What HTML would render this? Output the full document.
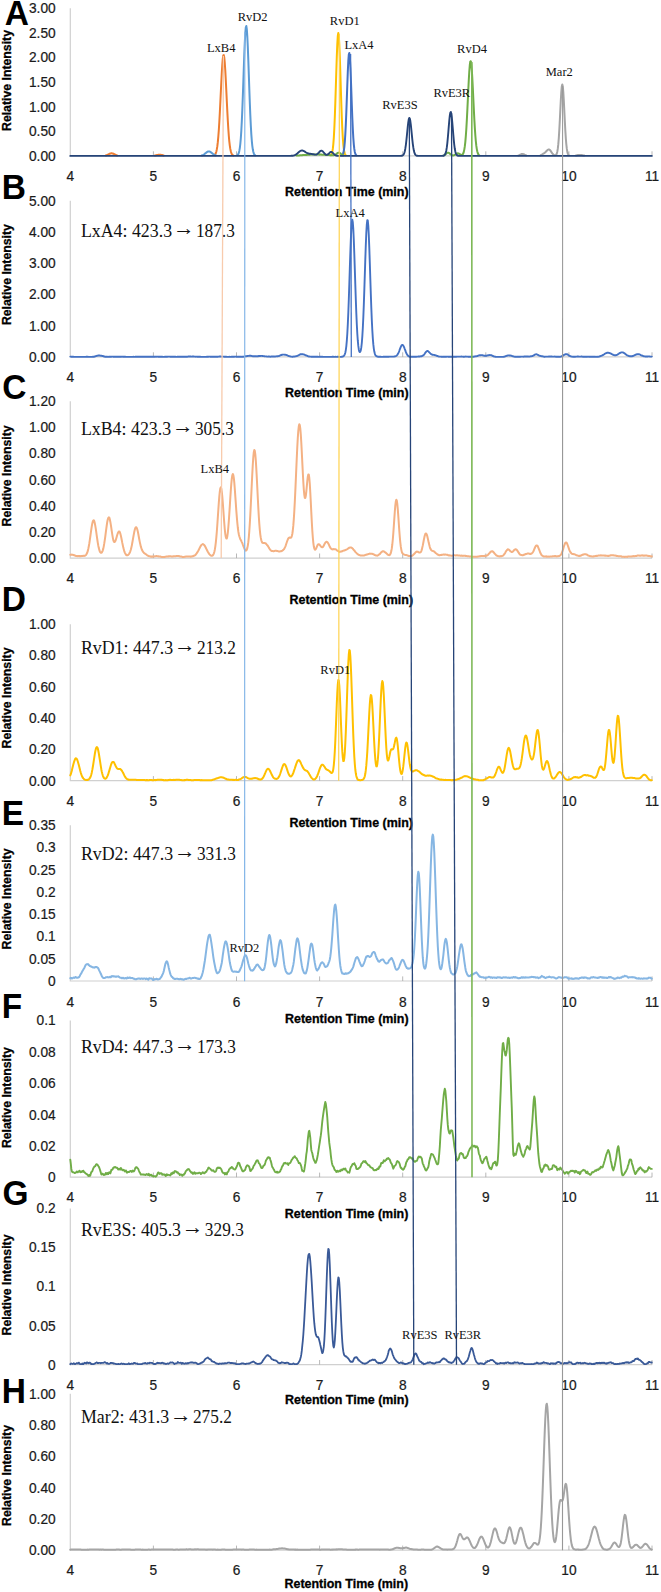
<!DOCTYPE html>
<html lang="en"><head><meta charset="utf-8"><title>Chromatograms</title>
<style>html,body{margin:0;padding:0;background:#fff}svg{display:block}.t{font-family:"Liberation Sans", Arial, sans-serif;font-size:14px;fill:#1a1a1a;stroke:#1a1a1a;stroke-width:.22px}.b{font-family:"Liberation Sans", Arial, sans-serif;font-weight:bold;font-size:12.2px;fill:#000;stroke:#000;stroke-width:.3px}.L{font-family:"Liberation Sans", Arial, sans-serif;font-weight:bold;font-size:34.9px;fill:#000}.s{font-family:"Liberation Serif", "Times New Roman", serif;font-size:18.6px;fill:#111}.p{font-family:"Liberation Serif", "Times New Roman", serif;font-size:12.5px;fill:#111}.tr{fill:none;stroke-linejoin:round;stroke-linecap:round}</style></head><body>
<svg width="661" height="1592" viewBox="0 0 661 1592">
<rect width="661" height="1592" fill="#fff"/>
<g>
<path d="M70.3 8.3 V155.9 H652.0" fill="none" stroke="#D0D0D0" stroke-width="1.2"/>
<path d="M153.4 155.9 v-4.6M236.5 155.9 v-4.6M319.6 155.9 v-4.6M402.7 155.9 v-4.6M485.8 155.9 v-4.6M568.9 155.9 v-4.6M652.0 155.9 v-4.6" fill="none" stroke="#A6A6A6" stroke-width="0.8"/>
<text class="t" transform="translate(55.70 13.00) scale(0.980 1)" text-anchor="end">3.00</text>
<text class="t" transform="translate(55.70 38.00) scale(0.980 1)" text-anchor="end">2.50</text>
<text class="t" transform="translate(55.70 62.00) scale(0.980 1)" text-anchor="end">2.00</text>
<text class="t" transform="translate(55.70 87.00) scale(0.980 1)" text-anchor="end">1.50</text>
<text class="t" transform="translate(55.70 112.00) scale(0.980 1)" text-anchor="end">1.00</text>
<text class="t" transform="translate(55.70 136.00) scale(0.980 1)" text-anchor="end">0.50</text>
<text class="t" transform="translate(55.70 161.00) scale(0.980 1)" text-anchor="end">0.00</text>
<text class="t" transform="translate(70.30 181.00) scale(0.980 1)" text-anchor="middle">4</text>
<text class="t" transform="translate(153.40 181.00) scale(0.980 1)" text-anchor="middle">5</text>
<text class="t" transform="translate(236.50 181.00) scale(0.980 1)" text-anchor="middle">6</text>
<text class="t" transform="translate(319.60 181.00) scale(0.980 1)" text-anchor="middle">7</text>
<text class="t" transform="translate(402.70 181.00) scale(0.980 1)" text-anchor="middle">8</text>
<text class="t" transform="translate(485.80 181.00) scale(0.980 1)" text-anchor="middle">9</text>
<text class="t" transform="translate(568.90 181.00) scale(0.980 1)" text-anchor="middle">10</text>
<text class="t" transform="translate(652.00 181.00) scale(0.980 1)" text-anchor="middle">11</text>
<text class="b" transform="translate(346.80 196.30) scale(1.021 1)" text-anchor="middle">Retention Time (min)</text>
<text class="b" transform="translate(11.4 80.5) rotate(-90) scale(1.007 1)" text-anchor="middle">Relative Intensity</text>
<text class="L" transform="translate(4.70 25.20) scale(0.960 1)" text-anchor="start">A</text>
</g>
<g>
<path d="M70.3 200.8 V356.9 H652.0" fill="none" stroke="#D0D0D0" stroke-width="1.2"/>
<path d="M153.4 356.9 v-4.6M236.5 356.9 v-4.6M319.6 356.9 v-4.6M402.7 356.9 v-4.6M485.8 356.9 v-4.6M568.9 356.9 v-4.6M652.0 356.9 v-4.6" fill="none" stroke="#A6A6A6" stroke-width="0.8"/>
<text class="t" transform="translate(55.70 206.00) scale(0.980 1)" text-anchor="end">5.00</text>
<text class="t" transform="translate(55.70 237.00) scale(0.980 1)" text-anchor="end">4.00</text>
<text class="t" transform="translate(55.70 268.00) scale(0.980 1)" text-anchor="end">3.00</text>
<text class="t" transform="translate(55.70 299.00) scale(0.980 1)" text-anchor="end">2.00</text>
<text class="t" transform="translate(55.70 331.00) scale(0.980 1)" text-anchor="end">1.00</text>
<text class="t" transform="translate(55.70 362.00) scale(0.980 1)" text-anchor="end">0.00</text>
<text class="t" transform="translate(70.30 382.00) scale(0.980 1)" text-anchor="middle">4</text>
<text class="t" transform="translate(153.40 382.00) scale(0.980 1)" text-anchor="middle">5</text>
<text class="t" transform="translate(236.50 382.00) scale(0.980 1)" text-anchor="middle">6</text>
<text class="t" transform="translate(319.60 382.00) scale(0.980 1)" text-anchor="middle">7</text>
<text class="t" transform="translate(402.70 382.00) scale(0.980 1)" text-anchor="middle">8</text>
<text class="t" transform="translate(485.80 382.00) scale(0.980 1)" text-anchor="middle">9</text>
<text class="t" transform="translate(568.90 382.00) scale(0.980 1)" text-anchor="middle">10</text>
<text class="t" transform="translate(652.00 382.00) scale(0.980 1)" text-anchor="middle">11</text>
<text class="b" transform="translate(346.80 397.00) scale(1.021 1)" text-anchor="middle">Retention Time (min)</text>
<text class="b" transform="translate(11.4 274.6) rotate(-90) scale(1.007 1)" text-anchor="middle">Relative Intensity</text>
<text class="L" transform="translate(1.65 199.10) scale(0.960 1)" text-anchor="start">B</text>
<text class="s" transform="translate(80.90 237.00) scale(0.960 1)" text-anchor="start">LxA4: 423.3</text>
<text class="s" transform="translate(183.73 235.20) scale(1.000 1)" text-anchor="middle" style="font-size:21.7px">→</text>
<text class="s" transform="translate(234.83 237.00) scale(0.930 1)" text-anchor="end">187.3</text>
</g>
<g>
<path d="M70.3 401.3 V558.1 H652.0" fill="none" stroke="#D0D0D0" stroke-width="1.2"/>
<path d="M153.4 558.1 v-4.6M236.5 558.1 v-4.6M319.6 558.1 v-4.6M402.7 558.1 v-4.6M485.8 558.1 v-4.6M568.9 558.1 v-4.6M652.0 558.1 v-4.6" fill="none" stroke="#A6A6A6" stroke-width="0.8"/>
<text class="t" transform="translate(55.70 406.00) scale(0.980 1)" text-anchor="end">1.20</text>
<text class="t" transform="translate(55.70 432.00) scale(0.980 1)" text-anchor="end">1.00</text>
<text class="t" transform="translate(55.70 458.00) scale(0.980 1)" text-anchor="end">0.80</text>
<text class="t" transform="translate(55.70 485.00) scale(0.980 1)" text-anchor="end">0.60</text>
<text class="t" transform="translate(55.70 511.00) scale(0.980 1)" text-anchor="end">0.40</text>
<text class="t" transform="translate(55.70 537.00) scale(0.980 1)" text-anchor="end">0.20</text>
<text class="t" transform="translate(55.70 563.00) scale(0.980 1)" text-anchor="end">0.00</text>
<text class="t" transform="translate(70.30 583.00) scale(0.980 1)" text-anchor="middle">4</text>
<text class="t" transform="translate(153.40 583.00) scale(0.980 1)" text-anchor="middle">5</text>
<text class="t" transform="translate(236.50 583.00) scale(0.980 1)" text-anchor="middle">6</text>
<text class="t" transform="translate(319.60 583.00) scale(0.980 1)" text-anchor="middle">7</text>
<text class="t" transform="translate(402.70 583.00) scale(0.980 1)" text-anchor="middle">8</text>
<text class="t" transform="translate(485.80 583.00) scale(0.980 1)" text-anchor="middle">9</text>
<text class="t" transform="translate(568.90 583.00) scale(0.980 1)" text-anchor="middle">10</text>
<text class="t" transform="translate(652.00 583.00) scale(0.980 1)" text-anchor="middle">11</text>
<text class="b" transform="translate(351.30 604.00) scale(1.021 1)" text-anchor="middle">Retention Time (min)</text>
<text class="b" transform="translate(11.4 475.9) rotate(-90) scale(1.007 1)" text-anchor="middle">Relative Intensity</text>
<text class="L" transform="translate(2.25 398.90) scale(0.960 1)" text-anchor="start">C</text>
<text class="s" transform="translate(80.90 435.20) scale(0.960 1)" text-anchor="start">LxB4: 423.3</text>
<text class="s" transform="translate(182.76 433.40) scale(1.000 1)" text-anchor="middle" style="font-size:21.7px">→</text>
<text class="s" transform="translate(233.86 435.20) scale(0.930 1)" text-anchor="end">305.3</text>
</g>
<g>
<path d="M70.3 624.3 V780.7 H652.0" fill="none" stroke="#D0D0D0" stroke-width="1.2"/>
<path d="M153.4 780.7 v-4.6M236.5 780.7 v-4.6M319.6 780.7 v-4.6M402.7 780.7 v-4.6M485.8 780.7 v-4.6M568.9 780.7 v-4.6M652.0 780.7 v-4.6" fill="none" stroke="#A6A6A6" stroke-width="0.8"/>
<text class="t" transform="translate(55.70 629.00) scale(0.980 1)" text-anchor="end">1.00</text>
<text class="t" transform="translate(55.70 660.00) scale(0.980 1)" text-anchor="end">0.80</text>
<text class="t" transform="translate(55.70 692.00) scale(0.980 1)" text-anchor="end">0.60</text>
<text class="t" transform="translate(55.70 723.00) scale(0.980 1)" text-anchor="end">0.40</text>
<text class="t" transform="translate(55.70 754.00) scale(0.980 1)" text-anchor="end">0.20</text>
<text class="t" transform="translate(55.70 786.00) scale(0.980 1)" text-anchor="end">0.00</text>
<text class="t" transform="translate(70.30 806.00) scale(0.980 1)" text-anchor="middle">4</text>
<text class="t" transform="translate(153.40 806.00) scale(0.980 1)" text-anchor="middle">5</text>
<text class="t" transform="translate(236.50 806.00) scale(0.980 1)" text-anchor="middle">6</text>
<text class="t" transform="translate(319.60 806.00) scale(0.980 1)" text-anchor="middle">7</text>
<text class="t" transform="translate(402.70 806.00) scale(0.980 1)" text-anchor="middle">8</text>
<text class="t" transform="translate(485.80 806.00) scale(0.980 1)" text-anchor="middle">9</text>
<text class="t" transform="translate(568.90 806.00) scale(0.980 1)" text-anchor="middle">10</text>
<text class="t" transform="translate(652.00 806.00) scale(0.980 1)" text-anchor="middle">11</text>
<text class="b" transform="translate(351.20 826.70) scale(1.021 1)" text-anchor="middle">Retention Time (min)</text>
<text class="b" transform="translate(11.4 698.0) rotate(-90) scale(1.007 1)" text-anchor="middle">Relative Intensity</text>
<text class="L" transform="translate(1.65 611.40) scale(0.960 1)" text-anchor="start">D</text>
<text class="s" transform="translate(80.90 653.80) scale(0.960 1)" text-anchor="start">RvD1: 447.3</text>
<text class="s" transform="translate(184.74 652.00) scale(1.000 1)" text-anchor="middle" style="font-size:21.7px">→</text>
<text class="s" transform="translate(235.84 653.80) scale(0.930 1)" text-anchor="end">213.2</text>
</g>
<g>
<path d="M70.3 825.2 V981.0 H652.0" fill="none" stroke="#D0D0D0" stroke-width="1.2"/>
<path d="M153.4 981.0 v-4.6M236.5 981.0 v-4.6M319.6 981.0 v-4.6M402.7 981.0 v-4.6M485.8 981.0 v-4.6M568.9 981.0 v-4.6M652.0 981.0 v-4.6" fill="none" stroke="#A6A6A6" stroke-width="0.8"/>
<text class="t" transform="translate(55.70 830.00) scale(0.980 1)" text-anchor="end">0.35</text>
<text class="t" transform="translate(55.70 852.00) scale(0.980 1)" text-anchor="end">0.3</text>
<text class="t" transform="translate(55.70 875.00) scale(0.980 1)" text-anchor="end">0.25</text>
<text class="t" transform="translate(55.70 897.00) scale(0.980 1)" text-anchor="end">0.2</text>
<text class="t" transform="translate(55.70 919.00) scale(0.980 1)" text-anchor="end">0.15</text>
<text class="t" transform="translate(55.70 941.00) scale(0.980 1)" text-anchor="end">0.1</text>
<text class="t" transform="translate(55.70 964.00) scale(0.980 1)" text-anchor="end">0.05</text>
<text class="t" transform="translate(55.70 986.00) scale(0.980 1)" text-anchor="end">0</text>
<text class="t" transform="translate(70.30 1007.00) scale(0.980 1)" text-anchor="middle">4</text>
<text class="t" transform="translate(153.40 1007.00) scale(0.980 1)" text-anchor="middle">5</text>
<text class="t" transform="translate(236.50 1007.00) scale(0.980 1)" text-anchor="middle">6</text>
<text class="t" transform="translate(319.60 1007.00) scale(0.980 1)" text-anchor="middle">7</text>
<text class="t" transform="translate(402.70 1007.00) scale(0.980 1)" text-anchor="middle">8</text>
<text class="t" transform="translate(485.80 1007.00) scale(0.980 1)" text-anchor="middle">9</text>
<text class="t" transform="translate(568.90 1007.00) scale(0.980 1)" text-anchor="middle">10</text>
<text class="t" transform="translate(652.00 1007.00) scale(0.980 1)" text-anchor="middle">11</text>
<text class="b" transform="translate(346.80 1023.00) scale(1.021 1)" text-anchor="middle">Retention Time (min)</text>
<text class="b" transform="translate(11.4 898.9) rotate(-90) scale(1.007 1)" text-anchor="middle">Relative Intensity</text>
<text class="L" transform="translate(1.65 825.00) scale(0.960 1)" text-anchor="start">E</text>
<text class="s" transform="translate(80.90 859.80) scale(0.960 1)" text-anchor="start">RvD2: 447.3</text>
<text class="s" transform="translate(184.74 858.00) scale(1.000 1)" text-anchor="middle" style="font-size:21.7px">→</text>
<text class="s" transform="translate(235.84 859.80) scale(0.930 1)" text-anchor="end">331.3</text>
</g>
<g>
<path d="M70.3 1020.6 V1177.2 H652.0" fill="none" stroke="#D0D0D0" stroke-width="1.2"/>
<path d="M153.4 1177.2 v-4.6M236.5 1177.2 v-4.6M319.6 1177.2 v-4.6M402.7 1177.2 v-4.6M485.8 1177.2 v-4.6M568.9 1177.2 v-4.6M652.0 1177.2 v-4.6" fill="none" stroke="#A6A6A6" stroke-width="0.8"/>
<text class="t" transform="translate(55.70 1025.00) scale(0.980 1)" text-anchor="end">0.1</text>
<text class="t" transform="translate(55.70 1057.00) scale(0.980 1)" text-anchor="end">0.08</text>
<text class="t" transform="translate(55.70 1088.00) scale(0.980 1)" text-anchor="end">0.06</text>
<text class="t" transform="translate(55.70 1120.00) scale(0.980 1)" text-anchor="end">0.04</text>
<text class="t" transform="translate(55.70 1151.00) scale(0.980 1)" text-anchor="end">0.02</text>
<text class="t" transform="translate(55.70 1182.00) scale(0.980 1)" text-anchor="end">0</text>
<text class="t" transform="translate(70.30 1202.00) scale(0.980 1)" text-anchor="middle">4</text>
<text class="t" transform="translate(153.40 1202.00) scale(0.980 1)" text-anchor="middle">5</text>
<text class="t" transform="translate(236.50 1202.00) scale(0.980 1)" text-anchor="middle">6</text>
<text class="t" transform="translate(319.60 1202.00) scale(0.980 1)" text-anchor="middle">7</text>
<text class="t" transform="translate(402.70 1202.00) scale(0.980 1)" text-anchor="middle">8</text>
<text class="t" transform="translate(485.80 1202.00) scale(0.980 1)" text-anchor="middle">9</text>
<text class="t" transform="translate(568.90 1202.00) scale(0.980 1)" text-anchor="middle">10</text>
<text class="t" transform="translate(652.00 1202.00) scale(0.980 1)" text-anchor="middle">11</text>
<text class="b" transform="translate(346.60 1218.00) scale(1.021 1)" text-anchor="middle">Retention Time (min)</text>
<text class="b" transform="translate(11.4 1097.6) rotate(-90) scale(1.007 1)" text-anchor="middle">Relative Intensity</text>
<text class="L" transform="translate(1.65 1018.20) scale(0.960 1)" text-anchor="start">F</text>
<text class="s" transform="translate(80.90 1052.50) scale(0.960 1)" text-anchor="start">RvD4: 447.3</text>
<text class="s" transform="translate(184.74 1050.70) scale(1.000 1)" text-anchor="middle" style="font-size:21.7px">→</text>
<text class="s" transform="translate(235.84 1052.50) scale(0.930 1)" text-anchor="end">173.3</text>
</g>
<g>
<path d="M70.3 1208.4 V1364.6 H652.0" fill="none" stroke="#D0D0D0" stroke-width="1.2"/>
<path d="M153.4 1364.6 v-4.6M236.5 1364.6 v-4.6M319.6 1364.6 v-4.6M402.7 1364.6 v-4.6M485.8 1364.6 v-4.6M568.9 1364.6 v-4.6M652.0 1364.6 v-4.6" fill="none" stroke="#A6A6A6" stroke-width="0.8"/>
<text class="t" transform="translate(55.70 1213.00) scale(0.980 1)" text-anchor="end">0.2</text>
<text class="t" transform="translate(55.70 1252.00) scale(0.980 1)" text-anchor="end">0.15</text>
<text class="t" transform="translate(55.70 1291.00) scale(0.980 1)" text-anchor="end">0.1</text>
<text class="t" transform="translate(55.70 1331.00) scale(0.980 1)" text-anchor="end">0.05</text>
<text class="t" transform="translate(55.70 1370.00) scale(0.980 1)" text-anchor="end">0</text>
<text class="t" transform="translate(70.30 1390.00) scale(0.980 1)" text-anchor="middle">4</text>
<text class="t" transform="translate(153.40 1390.00) scale(0.980 1)" text-anchor="middle">5</text>
<text class="t" transform="translate(236.50 1390.00) scale(0.980 1)" text-anchor="middle">6</text>
<text class="t" transform="translate(319.60 1390.00) scale(0.980 1)" text-anchor="middle">7</text>
<text class="t" transform="translate(402.70 1390.00) scale(0.980 1)" text-anchor="middle">8</text>
<text class="t" transform="translate(485.80 1390.00) scale(0.980 1)" text-anchor="middle">9</text>
<text class="t" transform="translate(568.90 1390.00) scale(0.980 1)" text-anchor="middle">10</text>
<text class="t" transform="translate(652.00 1390.00) scale(0.980 1)" text-anchor="middle">11</text>
<text class="b" transform="translate(346.80 1403.70) scale(1.021 1)" text-anchor="middle">Retention Time (min)</text>
<text class="b" transform="translate(11.4 1285.0) rotate(-90) scale(1.007 1)" text-anchor="middle">Relative Intensity</text>
<text class="L" transform="translate(2.50 1204.80) scale(0.960 1)" text-anchor="start">G</text>
<text class="s" transform="translate(80.90 1235.80) scale(0.960 1)" text-anchor="start">RvE3S: 405.3</text>
<text class="s" transform="translate(192.69 1234.00) scale(1.000 1)" text-anchor="middle" style="font-size:21.7px">→</text>
<text class="s" transform="translate(243.79 1235.80) scale(0.930 1)" text-anchor="end">329.3</text>
</g>
<g>
<path d="M70.3 1393.8 V1550.2 H652.0" fill="none" stroke="#D0D0D0" stroke-width="1.2"/>
<path d="M153.4 1550.2 v-4.6M236.5 1550.2 v-4.6M319.6 1550.2 v-4.6M402.7 1550.2 v-4.6M485.8 1550.2 v-4.6M568.9 1550.2 v-4.6M652.0 1550.2 v-4.6" fill="none" stroke="#A6A6A6" stroke-width="0.8"/>
<text class="t" transform="translate(55.70 1399.00) scale(0.980 1)" text-anchor="end">1.00</text>
<text class="t" transform="translate(55.70 1430.00) scale(0.980 1)" text-anchor="end">0.80</text>
<text class="t" transform="translate(55.70 1461.00) scale(0.980 1)" text-anchor="end">0.60</text>
<text class="t" transform="translate(55.70 1493.00) scale(0.980 1)" text-anchor="end">0.40</text>
<text class="t" transform="translate(55.70 1524.00) scale(0.980 1)" text-anchor="end">0.20</text>
<text class="t" transform="translate(55.70 1555.00) scale(0.980 1)" text-anchor="end">0.00</text>
<text class="t" transform="translate(70.30 1575.00) scale(0.980 1)" text-anchor="middle">4</text>
<text class="t" transform="translate(153.40 1575.00) scale(0.980 1)" text-anchor="middle">5</text>
<text class="t" transform="translate(236.50 1575.00) scale(0.980 1)" text-anchor="middle">6</text>
<text class="t" transform="translate(319.60 1575.00) scale(0.980 1)" text-anchor="middle">7</text>
<text class="t" transform="translate(402.70 1575.00) scale(0.980 1)" text-anchor="middle">8</text>
<text class="t" transform="translate(485.80 1575.00) scale(0.980 1)" text-anchor="middle">9</text>
<text class="t" transform="translate(568.90 1575.00) scale(0.980 1)" text-anchor="middle">10</text>
<text class="t" transform="translate(652.00 1575.00) scale(0.980 1)" text-anchor="middle">11</text>
<text class="b" transform="translate(346.30 1587.50) scale(1.021 1)" text-anchor="middle">Retention Time (min)</text>
<text class="b" transform="translate(11.4 1475.5) rotate(-90) scale(1.007 1)" text-anchor="middle">Relative Intensity</text>
<text class="L" transform="translate(1.65 1402.50) scale(0.960 1)" text-anchor="start">H</text>
<text class="s" transform="translate(80.90 1423.40) scale(0.960 1)" text-anchor="start">Mar2: 431.3</text>
<text class="s" transform="translate(180.76 1421.60) scale(1.000 1)" text-anchor="middle" style="font-size:21.7px">→</text>
<text class="s" transform="translate(231.86 1423.40) scale(0.930 1)" text-anchor="end">275.2</text>
</g>
<path class="tr" d="M105.8 155.5 L106.3 155.3 L106.8 155.1 L107.3 154.9 L107.8 154.7 L108.3 154.4 L108.8 154.2 L109.3 153.9 L109.8 153.7 L110.3 153.5 L110.8 153.4 L111.3 153.3 L111.8 153.3 L112.3 153.4 L112.8 153.5 L113.3 153.7 L113.8 154.0 L114.3 154.2 L114.8 154.5 L115.3 154.7 L115.8 155.0 L116.3 155.2 L116.8 155.4 L117.3 155.5 M154.8 155.5 L155.3 155.4 L155.8 155.3 L156.3 155.2 L156.8 155.1 L157.3 155.0 L157.8 154.9 L158.3 154.8 L158.8 154.7 L159.3 154.7 L159.8 154.7 L160.3 154.7 L160.8 154.8 L161.3 154.9 L161.8 155.0 L162.3 155.1 L162.8 155.2 L163.3 155.4 L163.8 155.5 M214.3 155.3 L214.8 154.9 L215.3 154.2 L215.8 153.2 L216.3 151.7 L216.8 149.4 L217.3 146.4 L217.8 142.2 L218.3 136.9 L218.8 130.2 L219.3 122.3 L219.8 113.1 L220.3 103.0 L220.8 92.5 L221.3 82.2 L221.8 72.6 L222.3 64.6 L222.8 58.7 L223.3 55.4 L223.8 55.1 L224.3 57.8 L224.8 63.2 L225.3 70.8 L225.8 80.2 L226.3 90.4 L226.8 101.0 L227.3 111.1 L227.8 120.5 L228.3 128.7 L228.8 135.7 L229.3 141.3 L229.8 145.6 L230.3 148.9 L230.8 151.3 L231.3 152.9 L231.8 154.0 L232.3 154.8 L232.8 155.2 L233.3 155.5" stroke="#ED7D31" stroke-width="2.00"/>
<path class="tr" d="M201.8 155.5 L202.3 155.3 L202.8 155.1 L203.3 154.9 L203.8 154.6 L204.3 154.2 L204.8 153.8 L205.3 153.4 L205.8 153.0 L206.3 152.6 L206.8 152.2 L207.3 151.9 L207.8 151.6 L208.3 151.5 L208.8 151.4 L209.3 151.5 L209.8 151.6 L210.3 151.9 L210.8 152.2 L211.3 152.6 L211.8 153.0 L212.3 153.4 L212.8 153.8 L213.3 154.2 L213.8 154.6 L214.3 154.9 L214.8 155.1 L215.3 155.3 L215.8 155.5 M237.3 155.3 L237.8 154.9 L238.3 154.1 L238.8 152.9 L239.3 150.9 L239.8 148.1 L240.3 144.0 L240.8 138.3 L241.3 130.9 L241.8 121.4 L242.3 110.1 L242.8 97.1 L243.3 82.9 L243.8 68.3 L244.3 54.4 L244.8 42.3 L245.3 32.9 L245.8 27.3 L246.3 26.0 L246.8 29.1 L247.3 36.3 L247.8 46.8 L248.3 59.8 L248.8 74.1 L249.3 88.7 L249.8 102.5 L250.3 114.9 L250.8 125.4 L251.3 134.1 L251.8 140.8 L252.3 145.8 L252.8 149.3 L253.3 151.8 L253.8 153.4 L254.3 154.5 L254.8 155.1 L255.3 155.5" stroke="#5B9BD5" stroke-width="2.00"/>
<path class="tr" d="M330.8 155.3 L331.3 154.7 L331.8 153.6 L332.3 151.8 L332.8 148.9 L333.3 144.3 L333.8 137.8 L334.3 128.8 L334.8 117.3 L335.3 103.4 L335.8 87.8 L336.3 71.6 L336.8 56.5 L337.3 44.0 L337.8 35.8 L338.3 32.9 L338.8 35.8 L339.3 44.0 L339.8 56.5 L340.3 71.6 L340.8 87.8 L341.3 103.4 L341.8 117.3 L342.3 128.8 L342.8 137.8 L343.3 144.3 L343.8 148.9 L344.3 151.8 L344.8 153.6 L345.3 154.7 L345.8 155.3" stroke="#FFC000" stroke-width="2.00"/>
<path class="tr" d="M341.8 155.5 L342.3 155.1 L342.8 154.4 L343.3 153.1 L343.8 150.8 L344.3 147.3 L344.8 142.0 L345.3 134.5 L345.8 124.7 L346.3 112.7 L346.8 99.1 L347.3 85.0 L347.8 71.8 L348.3 61.2 L348.8 54.6 L349.3 53.0 L349.8 56.7 L350.3 65.0 L350.8 76.8 L351.3 90.6 L351.8 104.7 L352.3 117.7 L352.8 128.9 L353.3 137.8 L353.8 144.3 L354.3 148.9 L354.8 151.9 L355.3 153.7 L355.8 154.8 L356.3 155.3" stroke="#4472C4" stroke-width="2.00"/>
<path class="tr" d="M296.3 155.5 L296.8 155.5 L297.3 155.5 L297.8 155.5 L298.3 155.4 L298.8 155.4 L299.3 155.4 L299.8 155.3 L300.3 155.3 L300.8 155.3 L301.3 155.2 L301.8 155.2 L302.3 155.2 L302.8 155.1 L303.3 155.1 L303.8 155.1 L304.3 155.0 L304.8 155.0 L305.3 155.0 L305.8 154.9 L306.3 154.9 L306.8 154.9 L307.3 154.8 L307.8 154.8 L308.3 154.8 L308.8 154.7 L309.3 154.7 L309.8 154.7 L310.3 154.6 L310.8 154.6 L311.3 154.6 L311.8 154.6 L312.3 154.6 L312.8 154.5 L313.3 154.5 L313.8 154.5 L314.3 154.5 L314.8 154.5 L315.3 154.5 L315.8 154.5 L316.3 154.5 L316.8 154.5 L317.3 154.5 L317.8 154.5 L318.3 154.5 L318.8 154.5 L319.3 154.6 L319.8 154.6 L320.3 154.6 L320.8 154.6 L321.3 154.6 L321.8 154.7 L322.3 154.7 L322.8 154.7 L323.3 154.7 L323.8 154.8 L324.3 154.8 L324.8 154.8 L325.3 154.9 L325.8 154.9 L326.3 154.9 L326.8 155.0 L327.3 155.0 L327.8 155.0 L328.3 155.1 L328.8 155.1 L329.3 155.1 L329.8 155.2 L330.3 155.2 L330.8 155.2 L331.3 155.3 L331.8 155.3 L332.3 155.3 L332.8 155.3 L333.3 155.3 L333.8 155.2 L334.3 155.1 L334.8 154.9 L335.3 154.7 L335.8 154.4 L336.3 154.0 L336.8 153.6 L337.3 153.2 L337.8 152.9 L338.3 152.7 L338.8 152.7 L339.3 152.8 L339.8 153.0 L340.3 153.3 L340.8 153.8 L341.3 154.2 L341.8 154.6 L342.3 154.9 L342.8 155.2 L343.3 155.4 M443.8 155.4 L444.3 155.1 L444.8 154.8 L445.3 154.4 L445.8 154.0 L446.3 153.5 L446.8 153.1 L447.3 152.9 L447.8 152.7 L448.3 152.7 L448.8 152.9 L449.3 153.2 L449.8 153.6 L450.3 154.0 L450.8 154.5 L451.3 154.8 L451.8 155.1 L452.3 155.3 L452.8 155.4 L453.3 155.4 L453.8 155.3 L454.3 155.1 L454.8 154.8 L455.3 154.5 L455.8 154.2 L456.3 153.8 L456.8 153.6 L457.3 153.4 L457.8 153.3 L458.3 153.4 L458.8 153.5 L459.3 153.8 L459.8 154.1 L460.3 154.5 L460.8 154.7 L461.3 154.9 L461.8 154.9 L462.3 154.7 L462.8 154.2 L463.3 153.3 L463.8 151.9 L464.3 149.6 L464.8 146.4 L465.3 142.1 L465.8 136.3 L466.3 129.2 L466.8 120.6 L467.3 110.9 L467.8 100.4 L468.3 89.8 L468.8 79.8 L469.3 71.3 L469.8 65.0 L470.3 61.5 L470.8 61.2 L471.3 64.0 L471.8 69.8 L472.3 78.0 L472.8 87.7 L473.3 98.3 L473.8 108.8 L474.3 118.8 L474.8 127.6 L475.3 135.0 L475.8 141.0 L476.3 145.7 L476.8 149.1 L477.3 151.5 L477.8 153.2 L478.3 154.3 L478.8 155.0 L479.3 155.4" stroke="#70AD47" stroke-width="2.00"/>
<path class="tr" d="M518.3 155.5 L518.8 155.4 L519.3 155.2 L519.8 154.9 L520.3 154.6 L520.8 154.4 L521.3 154.1 L521.8 154.0 L522.3 153.9 L522.8 153.9 L523.3 154.1 L523.8 154.3 L524.3 154.5 L524.8 154.8 L525.3 155.1 L525.8 155.3 L526.3 155.5 M540.3 155.5 L540.8 155.2 L541.3 155.0 L541.8 154.7 L542.3 154.4 L542.8 154.0 L543.3 153.7 L543.8 153.4 L544.3 153.1 L544.8 152.7 L545.3 152.3 L545.8 151.8 L546.3 151.3 L546.8 150.8 L547.3 150.2 L547.8 149.8 L548.3 149.5 L548.8 149.5 L549.3 149.6 L549.8 149.9 L550.3 150.5 L550.8 151.1 L551.3 151.9 L551.8 152.6 L552.3 153.3 L552.8 153.9 L553.3 154.5 L553.8 154.9 L554.3 155.2 L554.8 155.3 L555.3 155.3 L555.8 155.1 L556.3 154.6 L556.8 153.5 L557.3 151.7 L557.8 148.7 L558.3 144.2 L558.8 138.1 L559.3 130.1 L559.8 120.7 L560.3 110.5 L560.8 100.5 L561.3 92.1 L561.8 86.4 L562.3 84.4 L562.8 86.4 L563.3 92.1 L563.8 100.5 L564.3 110.5 L564.8 120.7 L565.3 130.1 L565.8 138.1 L566.3 144.2 L566.8 148.7 L567.3 151.7 L567.8 153.6 L568.3 154.7 L568.8 155.3 M575.8 155.5 L576.3 155.4 L576.8 155.3 L577.3 155.2 L577.8 155.1 L578.3 155.0 L578.8 155.0 L579.3 154.9 L579.8 154.9 L580.3 154.9 L580.8 154.9 L581.3 155.0 L581.8 155.1 L582.3 155.2 L582.8 155.3 L583.3 155.4 L583.8 155.5 L584.3 155.5" stroke="#A5A5A5" stroke-width="2.00"/>
<path class="tr" d="M70.3 155.9 L70.8 155.9 L71.3 155.9 L71.8 155.9 L72.3 155.9 L72.8 155.9 L73.3 155.9 L73.8 155.9 L74.3 155.9 L74.8 155.9 L75.3 155.9 L75.8 155.9 L76.3 155.9 L76.8 155.9 L77.3 155.9 L77.8 155.9 L78.3 155.9 L78.8 155.9 L79.3 155.9 L79.8 155.9 L80.3 155.9 L80.8 155.9 L81.3 155.9 L81.8 155.9 L82.3 155.9 L82.8 155.9 L83.3 155.9 L83.8 155.9 L84.3 155.9 L84.8 155.9 L85.3 155.9 L85.8 155.9 L86.3 155.9 L86.8 155.9 L87.3 155.9 L87.8 155.9 L88.3 155.9 L88.8 155.9 L89.3 155.9 L89.8 155.9 L90.3 155.9 L90.8 155.9 L91.3 155.9 L91.8 155.9 L92.3 155.9 L92.8 155.9 L93.3 155.9 L93.8 155.9 L94.3 155.9 L94.8 155.9 L95.3 155.9 L95.8 155.9 L96.3 155.9 L96.8 155.9 L97.3 155.9 L97.8 155.9 L98.3 155.9 L98.8 155.9 L99.3 155.9 L99.8 155.9 L100.3 155.9 L100.8 155.9 L101.3 155.9 L101.8 155.9 L102.3 155.9 L102.8 155.9 L103.3 155.9 L103.8 155.9 L104.3 155.9 L104.8 155.9 L105.3 155.9 L105.8 155.9 L106.3 155.9 L106.8 155.9 L107.3 155.9 L107.8 155.9 L108.3 155.9 L108.8 155.9 L109.3 155.9 L109.8 155.9 L110.3 155.9 L110.8 155.9 L111.3 155.9 L111.8 155.9 L112.3 155.9 L112.8 155.9 L113.3 155.9 L113.8 155.9 L114.3 155.9 L114.8 155.9 L115.3 155.9 L115.8 155.9 L116.3 155.9 L116.8 155.9 L117.3 155.9 L117.8 155.9 L118.3 155.9 L118.8 155.9 L119.3 155.9 L119.8 155.9 L120.3 155.9 L120.8 155.9 L121.3 155.9 L121.8 155.9 L122.3 155.9 L122.8 155.9 L123.3 155.9 L123.8 155.9 L124.3 155.9 L124.8 155.9 L125.3 155.9 L125.8 155.9 L126.3 155.9 L126.8 155.9 L127.3 155.9 L127.8 155.9 L128.3 155.9 L128.8 155.9 L129.3 155.9 L129.8 155.9 L130.3 155.9 L130.8 155.9 L131.3 155.9 L131.8 155.9 L132.3 155.9 L132.8 155.9 L133.3 155.9 L133.8 155.9 L134.3 155.9 L134.8 155.9 L135.3 155.9 L135.8 155.9 L136.3 155.9 L136.8 155.9 L137.3 155.9 L137.8 155.9 L138.3 155.9 L138.8 155.9 L139.3 155.9 L139.8 155.9 L140.3 155.9 L140.8 155.9 L141.3 155.9 L141.8 155.9 L142.3 155.9 L142.8 155.9 L143.3 155.9 L143.8 155.9 L144.3 155.9 L144.8 155.9 L145.3 155.9 L145.8 155.9 L146.3 155.9 L146.8 155.9 L147.3 155.9 L147.8 155.9 L148.3 155.9 L148.8 155.9 L149.3 155.9 L149.8 155.9 L150.3 155.9 L150.8 155.9 L151.3 155.9 L151.8 155.9 L152.3 155.9 L152.8 155.9 L153.3 155.9 L153.8 155.9 L154.3 155.9 L154.8 155.9 L155.3 155.9 L155.8 155.9 L156.3 155.9 L156.8 155.9 L157.3 155.9 L157.8 155.9 L158.3 155.9 L158.8 155.9 L159.3 155.9 L159.8 155.9 L160.3 155.9 L160.8 155.9 L161.3 155.9 L161.8 155.9 L162.3 155.9 L162.8 155.9 L163.3 155.9 L163.8 155.9 L164.3 155.9 L164.8 155.9 L165.3 155.9 L165.8 155.9 L166.3 155.9 L166.8 155.9 L167.3 155.9 L167.8 155.9 L168.3 155.9 L168.8 155.9 L169.3 155.9 L169.8 155.9 L170.3 155.9 L170.8 155.9 L171.3 155.9 L171.8 155.9 L172.3 155.9 L172.8 155.9 L173.3 155.9 L173.8 155.9 L174.3 155.9 L174.8 155.9 L175.3 155.9 L175.8 155.9 L176.3 155.9 L176.8 155.9 L177.3 155.9 L177.8 155.9 L178.3 155.9 L178.8 155.9 L179.3 155.9 L179.8 155.9 L180.3 155.9 L180.8 155.9 L181.3 155.9 L181.8 155.9 L182.3 155.9 L182.8 155.9 L183.3 155.9 L183.8 155.9 L184.3 155.9 L184.8 155.9 L185.3 155.9 L185.8 155.9 L186.3 155.9 L186.8 155.9 L187.3 155.9 L187.8 155.9 L188.3 155.9 L188.8 155.9 L189.3 155.9 L189.8 155.9 L190.3 155.9 L190.8 155.9 L191.3 155.9 L191.8 155.9 L192.3 155.9 L192.8 155.9 L193.3 155.9 L193.8 155.9 L194.3 155.9 L194.8 155.9 L195.3 155.9 L195.8 155.9 L196.3 155.9 L196.8 155.9 L197.3 155.9 L197.8 155.9 L198.3 155.9 L198.8 155.9 L199.3 155.9 L199.8 155.9 L200.3 155.9 L200.8 155.9 L201.3 155.9 L201.8 155.9 L202.3 155.9 L202.8 155.9 L203.3 155.9 L203.8 155.9 L204.3 155.9 L204.8 155.9 L205.3 155.9 L205.8 155.9 L206.3 155.9 L206.8 155.9 L207.3 155.9 L207.8 155.9 L208.3 155.9 L208.8 155.9 L209.3 155.9 L209.8 155.9 L210.3 155.9 L210.8 155.9 L211.3 155.9 L211.8 155.9 L212.3 155.9 L212.8 155.9 L213.3 155.9 L213.8 155.9 L214.3 155.9 L214.8 155.9 L215.3 155.9 L215.8 155.9 L216.3 155.9 L216.8 155.9 L217.3 155.9 L217.8 155.9 L218.3 155.9 L218.8 155.9 L219.3 155.9 L219.8 155.9 L220.3 155.9 L220.8 155.9 L221.3 155.9 L221.8 155.9 L222.3 155.9 L222.8 155.9 L223.3 155.9 L223.8 155.9 L224.3 155.9 L224.8 155.9 L225.3 155.9 L225.8 155.9 L226.3 155.9 L226.8 155.9 L227.3 155.9 L227.8 155.9 L228.3 155.9 L228.8 155.9 L229.3 155.9 L229.8 155.9 L230.3 155.9 L230.8 155.9 L231.3 155.9 L231.8 155.9 L232.3 155.9 L232.8 155.9 L233.3 155.9 L233.8 155.9 L234.3 155.9 L234.8 155.9 L235.3 155.9 L235.8 155.9 L236.3 155.9 L236.8 155.9 L237.3 155.9 L237.8 155.9 L238.3 155.9 L238.8 155.9 L239.3 155.9 L239.8 155.9 L240.3 155.9 L240.8 155.9 L241.3 155.9 L241.8 155.9 L242.3 155.9 L242.8 155.9 L243.3 155.9 L243.8 155.9 L244.3 155.9 L244.8 155.9 L245.3 155.9 L245.8 155.9 L246.3 155.9 L246.8 155.9 L247.3 155.9 L247.8 155.9 L248.3 155.9 L248.8 155.9 L249.3 155.9 L249.8 155.9 L250.3 155.9 L250.8 155.9 L251.3 155.9 L251.8 155.9 L252.3 155.9 L252.8 155.9 L253.3 155.9 L253.8 155.9 L254.3 155.9 L254.8 155.9 L255.3 155.9 L255.8 155.9 L256.3 155.9 L256.8 155.9 L257.3 155.9 L257.8 155.9 L258.3 155.9 L258.8 155.9 L259.3 155.9 L259.8 155.9 L260.3 155.9 L260.8 155.9 L261.3 155.9 L261.8 155.9 L262.3 155.9 L262.8 155.9 L263.3 155.9 L263.8 155.9 L264.3 155.9 L264.8 155.9 L265.3 155.9 L265.8 155.9 L266.3 155.9 L266.8 155.9 L267.3 155.9 L267.8 155.9 L268.3 155.9 L268.8 155.9 L269.3 155.9 L269.8 155.9 L270.3 155.9 L270.8 155.9 L271.3 155.9 L271.8 155.9 L272.3 155.9 L272.8 155.9 L273.3 155.9 L273.8 155.9 L274.3 155.9 L274.8 155.9 L275.3 155.9 L275.8 155.9 L276.3 155.9 L276.8 155.9 L277.3 155.9 L277.8 155.9 L278.3 155.9 L278.8 155.9 L279.3 155.9 L279.8 155.9 L280.3 155.9 L280.8 155.9 L281.3 155.9 L281.8 155.9 L282.3 155.9 L282.8 155.9 L283.3 155.9 L283.8 155.9 L284.3 155.9 L284.8 155.9 L285.3 155.9 L285.8 155.9 L286.3 155.9 L286.8 155.9 L287.3 155.9 L287.8 155.9 L288.3 155.9 L288.8 155.9 L289.3 155.9 L289.8 155.9 L290.3 155.9 L290.8 155.9 L291.3 155.8 L291.8 155.8 L292.3 155.7 L292.8 155.7 L293.3 155.6 L293.8 155.5 L294.3 155.3 L294.8 155.1 L295.3 154.9 L295.8 154.6 L296.3 154.2 L296.8 153.9 L297.3 153.5 L297.8 153.0 L298.3 152.6 L298.8 152.1 L299.3 151.7 L299.8 151.3 L300.3 151.0 L300.8 150.7 L301.3 150.6 L301.8 150.5 L302.3 150.5 L302.8 150.6 L303.3 150.8 L303.8 151.0 L304.3 151.3 L304.8 151.6 L305.3 151.9 L305.8 152.3 L306.3 152.6 L306.8 152.8 L307.3 153.1 L307.8 153.3 L308.3 153.4 L308.8 153.6 L309.3 153.7 L309.8 153.7 L310.3 153.8 L310.8 153.9 L311.3 153.9 L311.8 154.0 L312.3 154.1 L312.8 154.2 L313.3 154.3 L313.8 154.4 L314.3 154.5 L314.8 154.6 L315.3 154.6 L315.8 154.6 L316.3 154.5 L316.8 154.3 L317.3 154.0 L317.8 153.6 L318.3 153.1 L318.8 152.6 L319.3 152.0 L319.8 151.5 L320.3 151.1 L320.8 150.8 L321.3 150.6 L321.8 150.7 L322.3 151.0 L322.8 151.4 L323.3 152.0 L323.8 152.6 L324.3 153.2 L324.8 153.8 L325.3 154.2 L325.8 154.6 L326.3 154.8 L326.8 154.9 L327.3 154.7 L327.8 154.5 L328.3 154.1 L328.8 153.6 L329.3 153.1 L329.8 152.6 L330.3 152.2 L330.8 152.0 L331.3 151.9 L331.8 152.0 L332.3 152.4 L332.8 152.8 L333.3 153.4 L333.8 153.9 L334.3 154.4 L334.8 154.9 L335.3 155.2 L335.8 155.5 L336.3 155.6 L336.8 155.7 L337.3 155.8 L337.8 155.9 L338.3 155.9 L338.8 155.9 L339.3 155.9 L339.8 155.9 L340.3 155.9 L340.8 155.9 L341.3 155.9 L341.8 155.9 L342.3 155.9 L342.8 155.9 L343.3 155.9 L343.8 155.9 L344.3 155.9 L344.8 155.9 L345.3 155.9 L345.8 155.9 L346.3 155.9 L346.8 155.9 L347.3 155.9 L347.8 155.9 L348.3 155.9 L348.8 155.9 L349.3 155.9 L349.8 155.9 L350.3 155.9 L350.8 155.9 L351.3 155.9 L351.8 155.9 L352.3 155.9 L352.8 155.9 L353.3 155.9 L353.8 155.9 L354.3 155.9 L354.8 155.9 L355.3 155.9 L355.8 155.9 L356.3 155.9 L356.8 155.9 L357.3 155.9 L357.8 155.9 L358.3 155.9 L358.8 155.9 L359.3 155.9 L359.8 155.9 L360.3 155.9 L360.8 155.9 L361.3 155.9 L361.8 155.9 L362.3 155.9 L362.8 155.9 L363.3 155.9 L363.8 155.9 L364.3 155.9 L364.8 155.9 L365.3 155.9 L365.8 155.9 L366.3 155.9 L366.8 155.9 L367.3 155.9 L367.8 155.9 L368.3 155.9 L368.8 155.9 L369.3 155.9 L369.8 155.9 L370.3 155.9 L370.8 155.9 L371.3 155.9 L371.8 155.9 L372.3 155.9 L372.8 155.9 L373.3 155.9 L373.8 155.9 L374.3 155.9 L374.8 155.9 L375.3 155.9 L375.8 155.9 L376.3 155.9 L376.8 155.9 L377.3 155.9 L377.8 155.9 L378.3 155.9 L378.8 155.9 L379.3 155.9 L379.8 155.9 L380.3 155.9 L380.8 155.9 L381.3 155.9 L381.8 155.9 L382.3 155.9 L382.8 155.9 L383.3 155.9 L383.8 155.9 L384.3 155.9 L384.8 155.9 L385.3 155.9 L385.8 155.9 L386.3 155.9 L386.8 155.9 L387.3 155.9 L387.8 155.9 L388.3 155.9 L388.8 155.9 L389.3 155.9 L389.8 155.9 L390.3 155.9 L390.8 155.9 L391.3 155.9 L391.8 155.9 L392.3 155.9 L392.8 155.9 L393.3 155.9 L393.8 155.9 L394.3 155.9 L394.8 155.9 L395.3 155.9 L395.8 155.9 L396.3 155.9 L396.8 155.9 L397.3 155.9 L397.8 155.9 L398.3 155.9 L398.8 155.9 L399.3 155.9 L399.8 155.9 L400.3 155.9 L400.8 155.9 L401.3 155.8 L401.8 155.8 L402.3 155.6 L402.8 155.4 L403.3 154.9 L403.8 154.2 L404.3 153.0 L404.8 151.2 L405.3 148.7 L405.8 145.3 L406.3 141.2 L406.8 136.4 L407.3 131.3 L407.8 126.4 L408.3 122.2 L408.8 119.2 L409.3 117.9 L409.8 118.5 L410.3 120.8 L410.8 124.6 L411.3 129.3 L411.8 134.4 L412.3 139.3 L412.8 143.8 L413.3 147.4 L413.8 150.3 L414.3 152.4 L414.8 153.8 L415.3 154.7 L415.8 155.2 L416.3 155.6 L416.8 155.7 L417.3 155.8 L417.8 155.9 L418.3 155.9 L418.8 155.9 L419.3 155.9 L419.8 155.9 L420.3 155.9 L420.8 155.9 L421.3 155.9 L421.8 155.9 L422.3 155.9 L422.8 155.9 L423.3 155.9 L423.8 155.9 L424.3 155.9 L424.8 155.9 L425.3 155.9 L425.8 155.9 L426.3 155.9 L426.8 155.9 L427.3 155.9 L427.8 155.9 L428.3 155.9 L428.8 155.9 L429.3 155.9 L429.8 155.9 L430.3 155.9 L430.8 155.9 L431.3 155.9 L431.8 155.9 L432.3 155.9 L432.8 155.9 L433.3 155.9 L433.8 155.9 L434.3 155.9 L434.8 155.9 L435.3 155.9 L435.8 155.9 L436.3 155.9 L436.8 155.9 L437.3 155.9 L437.8 155.9 L438.3 155.9 L438.8 155.9 L439.3 155.9 L439.8 155.9 L440.3 155.9 L440.8 155.9 L441.3 155.9 L441.8 155.9 L442.3 155.9 L442.8 155.8 L443.3 155.8 L443.8 155.6 L444.3 155.4 L444.8 154.9 L445.3 154.0 L445.8 152.6 L446.3 150.5 L446.8 147.4 L447.3 143.3 L447.8 138.2 L448.3 132.3 L448.8 126.1 L449.3 120.3 L449.8 115.6 L450.3 112.7 L450.8 111.9 L451.3 113.6 L451.8 117.3 L452.3 122.5 L452.8 128.6 L453.3 134.7 L453.8 140.3 L454.3 145.1 L454.8 148.8 L455.3 151.4 L455.8 153.3 L456.3 154.4 L456.8 155.1 L457.3 155.5 L457.8 155.7 L458.3 155.8 L458.8 155.9 L459.3 155.9 L459.8 155.9 L460.3 155.9 L460.8 155.9 L461.3 155.9 L461.8 155.9 L462.3 155.9 L462.8 155.9 L463.3 155.9 L463.8 155.9 L464.3 155.9 L464.8 155.9 L465.3 155.9 L465.8 155.9 L466.3 155.9 L466.8 155.9 L467.3 155.9 L467.8 155.9 L468.3 155.9 L468.8 155.9 L469.3 155.9 L469.8 155.9 L470.3 155.9 L470.8 155.9 L471.3 155.9 L471.8 155.9 L472.3 155.9 L472.8 155.9 L473.3 155.9 L473.8 155.9 L474.3 155.9 L474.8 155.9 L475.3 155.9 L475.8 155.9 L476.3 155.9 L476.8 155.9 L477.3 155.9 L477.8 155.9 L478.3 155.9 L478.8 155.9 L479.3 155.9 L479.8 155.9 L480.3 155.9 L480.8 155.9 L481.3 155.9 L481.8 155.9 L482.3 155.9 L482.8 155.9 L483.3 155.9 L483.8 155.9 L484.3 155.9 L484.8 155.9 L485.3 155.9 L485.8 155.9 L486.3 155.9 L486.8 155.9 L487.3 155.9 L487.8 155.9 L488.3 155.9 L488.8 155.9 L489.3 155.9 L489.8 155.9 L490.3 155.9 L490.8 155.9 L491.3 155.9 L491.8 155.9 L492.3 155.9 L492.8 155.9 L493.3 155.9 L493.8 155.9 L494.3 155.9 L494.8 155.9 L495.3 155.9 L495.8 155.9 L496.3 155.9 L496.8 155.9 L497.3 155.9 L497.8 155.9 L498.3 155.9 L498.8 155.9 L499.3 155.9 L499.8 155.9 L500.3 155.9 L500.8 155.9 L501.3 155.9 L501.8 155.9 L502.3 155.9 L502.8 155.9 L503.3 155.9 L503.8 155.9 L504.3 155.9 L504.8 155.9 L505.3 155.9 L505.8 155.9 L506.3 155.9 L506.8 155.9 L507.3 155.9 L507.8 155.9 L508.3 155.9 L508.8 155.9 L509.3 155.9 L509.8 155.9 L510.3 155.9 L510.8 155.9 L511.3 155.9 L511.8 155.9 L512.3 155.9 L512.8 155.9 L513.3 155.9 L513.8 155.9 L514.3 155.9 L514.8 155.9 L515.3 155.9 L515.8 155.9 L516.3 155.9 L516.8 155.9 L517.3 155.9 L517.8 155.9 L518.3 155.9 L518.8 155.9 L519.3 155.9 L519.8 155.9 L520.3 155.9 L520.8 155.9 L521.3 155.9 L521.8 155.9 L522.3 155.9 L522.8 155.9 L523.3 155.9 L523.8 155.9 L524.3 155.9 L524.8 155.9 L525.3 155.9 L525.8 155.9 L526.3 155.9 L526.8 155.9 L527.3 155.9 L527.8 155.9 L528.3 155.9 L528.8 155.9 L529.3 155.9 L529.8 155.9 L530.3 155.9 L530.8 155.9 L531.3 155.9 L531.8 155.9 L532.3 155.9 L532.8 155.9 L533.3 155.9 L533.8 155.9 L534.3 155.9 L534.8 155.9 L535.3 155.9 L535.8 155.9 L536.3 155.9 L536.8 155.9 L537.3 155.9 L537.8 155.9 L538.3 155.9 L538.8 155.9 L539.3 155.9 L539.8 155.9 L540.3 155.9 L540.8 155.9 L541.3 155.9 L541.8 155.9 L542.3 155.9 L542.8 155.9 L543.3 155.9 L543.8 155.9 L544.3 155.9 L544.8 155.9 L545.3 155.9 L545.8 155.9 L546.3 155.9 L546.8 155.9 L547.3 155.9 L547.8 155.9 L548.3 155.9 L548.8 155.9 L549.3 155.9 L549.8 155.9 L550.3 155.9 L550.8 155.9 L551.3 155.9 L551.8 155.9 L552.3 155.9 L552.8 155.9 L553.3 155.9 L553.8 155.9 L554.3 155.9 L554.8 155.9 L555.3 155.9 L555.8 155.9 L556.3 155.9 L556.8 155.9 L557.3 155.9 L557.8 155.9 L558.3 155.9 L558.8 155.9 L559.3 155.9 L559.8 155.9 L560.3 155.9 L560.8 155.9 L561.3 155.9 L561.8 155.9 L562.3 155.9 L562.8 155.9 L563.3 155.9 L563.8 155.9 L564.3 155.9 L564.8 155.9 L565.3 155.9 L565.8 155.9 L566.3 155.9 L566.8 155.9 L567.3 155.9 L567.8 155.9 L568.3 155.9 L568.8 155.9 L569.3 155.9 L569.8 155.9 L570.3 155.9 L570.8 155.9 L571.3 155.9 L571.8 155.9 L572.3 155.9 L572.8 155.9 L573.3 155.9 L573.8 155.9 L574.3 155.9 L574.8 155.9 L575.3 155.9 L575.8 155.9 L576.3 155.9 L576.8 155.9 L577.3 155.9 L577.8 155.9 L578.3 155.9 L578.8 155.9 L579.3 155.9 L579.8 155.9 L580.3 155.9 L580.8 155.9 L581.3 155.9 L581.8 155.9 L582.3 155.9 L582.8 155.9 L583.3 155.9 L583.8 155.9 L584.3 155.9 L584.8 155.9 L585.3 155.9 L585.8 155.9 L586.3 155.9 L586.8 155.9 L587.3 155.9 L587.8 155.9 L588.3 155.9 L588.8 155.9 L589.3 155.9 L589.8 155.9 L590.3 155.9 L590.8 155.9 L591.3 155.9 L591.8 155.9 L592.3 155.9 L592.8 155.9 L593.3 155.9 L593.8 155.9 L594.3 155.9 L594.8 155.9 L595.3 155.9 L595.8 155.9 L596.3 155.9 L596.8 155.9 L597.3 155.9 L597.8 155.9 L598.3 155.9 L598.8 155.9 L599.3 155.9 L599.8 155.9 L600.3 155.9 L600.8 155.9 L601.3 155.9 L601.8 155.9 L602.3 155.9 L602.8 155.9 L603.3 155.9 L603.8 155.9 L604.3 155.9 L604.8 155.9 L605.3 155.9 L605.8 155.9 L606.3 155.9 L606.8 155.9 L607.3 155.9 L607.8 155.9 L608.3 155.9 L608.8 155.9 L609.3 155.9 L609.8 155.9 L610.3 155.9 L610.8 155.9 L611.3 155.9 L611.8 155.9 L612.3 155.9 L612.8 155.9 L613.3 155.9 L613.8 155.9 L614.3 155.9 L614.8 155.9 L615.3 155.9 L615.8 155.9 L616.3 155.9 L616.8 155.9 L617.3 155.9 L617.8 155.9 L618.3 155.9 L618.8 155.9 L619.3 155.9 L619.8 155.9 L620.3 155.9 L620.8 155.9 L621.3 155.9 L621.8 155.9 L622.3 155.9 L622.8 155.9 L623.3 155.9 L623.8 155.9 L624.3 155.9 L624.8 155.9 L625.3 155.9 L625.8 155.9 L626.3 155.9 L626.8 155.9 L627.3 155.9 L627.8 155.9 L628.3 155.9 L628.8 155.9 L629.3 155.9 L629.8 155.9 L630.3 155.9 L630.8 155.9 L631.3 155.9 L631.8 155.9 L632.3 155.9 L632.8 155.9 L633.3 155.9 L633.8 155.9 L634.3 155.9 L634.8 155.9 L635.3 155.9 L635.8 155.9 L636.3 155.9 L636.8 155.9 L637.3 155.9 L637.8 155.9 L638.3 155.9 L638.8 155.9 L639.3 155.9 L639.8 155.9 L640.3 155.9 L640.8 155.9 L641.3 155.9 L641.8 155.9 L642.3 155.9 L642.8 155.9 L643.3 155.9 L643.8 155.9 L644.3 155.9 L644.8 155.9 L645.3 155.9 L645.8 155.9 L646.3 155.9 L646.8 155.9 L647.3 155.9 L647.8 155.9 L648.3 155.9 L648.8 155.9 L649.3 155.9 L649.8 155.9 L650.3 155.9 L650.8 155.9 L651.3 155.9 L651.8 155.9" stroke="#264478" stroke-width="1.90"/>
<path class="tr" d="M70.3 356.6 L70.8 356.6 L71.3 356.7 L71.8 356.8 L72.3 356.8 L72.8 356.8 L73.3 356.8 L73.8 356.9 L74.3 356.9 L74.8 356.9 L75.3 356.9 L75.8 356.9 L76.3 356.9 L76.8 356.9 L77.3 356.9 L77.8 356.9 L78.3 356.9 L78.8 356.9 L79.3 356.9 L79.8 356.9 L80.3 356.9 L80.8 356.9 L81.3 356.9 L81.8 356.9 L82.3 356.9 L82.8 356.9 L83.3 356.9 L83.8 356.9 L84.3 356.9 L84.8 356.9 L85.3 356.9 L85.8 356.9 L86.3 356.8 L86.8 356.8 L87.3 356.9 L87.8 356.8 L88.3 356.9 L88.8 356.9 L89.3 356.9 L89.8 356.9 L90.3 356.9 L90.8 356.9 L91.3 356.9 L91.8 356.9 L92.3 356.9 L92.8 356.8 L93.3 356.8 L93.8 356.7 L94.3 356.7 L94.8 356.5 L95.3 356.4 L95.8 356.1 L96.3 356.0 L96.8 355.9 L97.3 355.7 L97.8 355.6 L98.3 355.5 L98.8 355.6 L99.3 355.4 L99.8 355.5 L100.3 355.6 L100.8 355.7 L101.3 355.7 L101.8 355.9 L102.3 356.0 L102.8 356.0 L103.3 356.2 L103.8 356.5 L104.3 356.5 L104.8 356.7 L105.3 356.7 L105.8 356.8 L106.3 356.8 L106.8 356.8 L107.3 356.8 L107.8 356.9 L108.3 356.9 L108.8 356.8 L109.3 356.8 L109.8 356.8 L110.3 356.7 L110.8 356.7 L111.3 356.7 L111.8 356.6 L112.3 356.6 L112.8 356.6 L113.3 356.7 L113.8 356.7 L114.3 356.7 L114.8 356.7 L115.3 356.7 L115.8 356.8 L116.3 356.7 L116.8 356.8 L117.3 356.8 L117.8 356.7 L118.3 356.8 L118.8 356.8 L119.3 356.8 L119.8 356.8 L120.3 356.8 L120.8 356.7 L121.3 356.7 L121.8 356.6 L122.3 356.6 L122.8 356.7 L123.3 356.7 L123.8 356.7 L124.3 356.7 L124.8 356.8 L125.3 356.8 L125.8 356.9 L126.3 356.9 L126.8 356.9 L127.3 356.9 L127.8 356.9 L128.3 356.9 L128.8 356.9 L129.3 356.9 L129.8 356.9 L130.3 356.9 L130.8 356.9 L131.3 356.9 L131.8 356.9 L132.3 356.9 L132.8 356.9 L133.3 356.8 L133.8 356.9 L134.3 356.9 L134.8 356.9 L135.3 356.8 L135.8 356.8 L136.3 356.8 L136.8 356.8 L137.3 356.7 L137.8 356.7 L138.3 356.8 L138.8 356.7 L139.3 356.7 L139.8 356.7 L140.3 356.8 L140.8 356.8 L141.3 356.8 L141.8 356.7 L142.3 356.7 L142.8 356.6 L143.3 356.7 L143.8 356.7 L144.3 356.6 L144.8 356.7 L145.3 356.7 L145.8 356.7 L146.3 356.7 L146.8 356.7 L147.3 356.7 L147.8 356.7 L148.3 356.7 L148.8 356.7 L149.3 356.8 L149.8 356.7 L150.3 356.7 L150.8 356.8 L151.3 356.8 L151.8 356.8 L152.3 356.8 L152.8 356.8 L153.3 356.8 L153.8 356.8 L154.3 356.7 L154.8 356.6 L155.3 356.7 L155.8 356.6 L156.3 356.6 L156.8 356.7 L157.3 356.6 L157.8 356.6 L158.3 356.7 L158.8 356.7 L159.3 356.7 L159.8 356.7 L160.3 356.8 L160.8 356.8 L161.3 356.8 L161.8 356.8 L162.3 356.8 L162.8 356.9 L163.3 356.9 L163.8 356.9 L164.3 356.9 L164.8 356.8 L165.3 356.8 L165.8 356.8 L166.3 356.8 L166.8 356.8 L167.3 356.7 L167.8 356.6 L168.3 356.6 L168.8 356.6 L169.3 356.6 L169.8 356.6 L170.3 356.7 L170.8 356.7 L171.3 356.7 L171.8 356.7 L172.3 356.7 L172.8 356.7 L173.3 356.6 L173.8 356.8 L174.3 356.7 L174.8 356.8 L175.3 356.7 L175.8 356.9 L176.3 356.9 L176.8 356.9 L177.3 356.8 L177.8 356.7 L178.3 356.7 L178.8 356.7 L179.3 356.7 L179.8 356.7 L180.3 356.8 L180.8 356.7 L181.3 356.8 L181.8 356.7 L182.3 356.7 L182.8 356.7 L183.3 356.7 L183.8 356.7 L184.3 356.7 L184.8 356.7 L185.3 356.7 L185.8 356.8 L186.3 356.7 L186.8 356.7 L187.3 356.7 L187.8 356.6 L188.3 356.5 L188.8 356.5 L189.3 356.5 L189.8 356.5 L190.3 356.5 L190.8 356.5 L191.3 356.6 L191.8 356.6 L192.3 356.5 L192.8 356.5 L193.3 356.5 L193.8 356.5 L194.3 356.6 L194.8 356.6 L195.3 356.6 L195.8 356.7 L196.3 356.6 L196.8 356.6 L197.3 356.7 L197.8 356.6 L198.3 356.7 L198.8 356.7 L199.3 356.7 L199.8 356.8 L200.3 356.8 L200.8 356.9 L201.3 356.9 L201.8 356.9 L202.3 356.9 L202.8 356.9 L203.3 356.9 L203.8 356.9 L204.3 356.9 L204.8 356.9 L205.3 356.9 L205.8 356.9 L206.3 356.9 L206.8 356.8 L207.3 356.8 L207.8 356.8 L208.3 356.7 L208.8 356.6 L209.3 356.6 L209.8 356.6 L210.3 356.7 L210.8 356.6 L211.3 356.7 L211.8 356.7 L212.3 356.8 L212.8 356.7 L213.3 356.7 L213.8 356.7 L214.3 356.7 L214.8 356.7 L215.3 356.7 L215.8 356.7 L216.3 356.7 L216.8 356.7 L217.3 356.8 L217.8 356.7 L218.3 356.6 L218.8 356.6 L219.3 356.5 L219.8 356.5 L220.3 356.5 L220.8 356.5 L221.3 356.6 L221.8 356.6 L222.3 356.6 L222.8 356.6 L223.3 356.6 L223.8 356.6 L224.3 356.7 L224.8 356.7 L225.3 356.8 L225.8 356.8 L226.3 356.8 L226.8 356.9 L227.3 356.9 L227.8 356.9 L228.3 356.9 L228.8 356.9 L229.3 356.8 L229.8 356.9 L230.3 356.9 L230.8 356.9 L231.3 356.8 L231.8 356.9 L232.3 356.8 L232.8 356.8 L233.3 356.7 L233.8 356.7 L234.3 356.7 L234.8 356.6 L235.3 356.6 L235.8 356.6 L236.3 356.7 L236.8 356.7 L237.3 356.8 L237.8 356.9 L238.3 356.8 L238.8 356.8 L239.3 356.8 L239.8 356.8 L240.3 356.7 L240.8 356.7 L241.3 356.8 L241.8 356.9 L242.3 356.8 L242.8 356.8 L243.3 356.7 L243.8 356.6 L244.3 356.5 L244.8 356.4 L245.3 356.3 L245.8 356.2 L246.3 356.2 L246.8 356.1 L247.3 355.9 L247.8 356.0 L248.3 355.9 L248.8 355.9 L249.3 355.8 L249.8 355.7 L250.3 355.7 L250.8 355.8 L251.3 355.9 L251.8 356.0 L252.3 356.1 L252.8 356.2 L253.3 356.2 L253.8 356.2 L254.3 356.1 L254.8 356.2 L255.3 356.3 L255.8 356.3 L256.3 356.4 L256.8 356.3 L257.3 356.3 L257.8 356.3 L258.3 356.2 L258.8 356.0 L259.3 356.0 L259.8 355.9 L260.3 356.0 L260.8 355.9 L261.3 355.9 L261.8 355.9 L262.3 356.0 L262.8 356.0 L263.3 356.1 L263.8 356.1 L264.3 356.2 L264.8 356.4 L265.3 356.4 L265.8 356.4 L266.3 356.4 L266.8 356.5 L267.3 356.6 L267.8 356.6 L268.3 356.5 L268.8 356.5 L269.3 356.5 L269.8 356.6 L270.3 356.7 L270.8 356.6 L271.3 356.4 L271.8 356.5 L272.3 356.4 L272.8 356.5 L273.3 356.5 L273.8 356.5 L274.3 356.5 L274.8 356.6 L275.3 356.5 L275.8 356.4 L276.3 356.4 L276.8 356.3 L277.3 356.3 L277.8 356.2 L278.3 356.1 L278.8 356.0 L279.3 355.8 L279.8 355.6 L280.3 355.4 L280.8 355.2 L281.3 355.0 L281.8 354.8 L282.3 354.7 L282.8 354.6 L283.3 354.6 L283.8 354.6 L284.3 354.6 L284.8 354.7 L285.3 354.8 L285.8 354.9 L286.3 355.0 L286.8 355.1 L287.3 355.3 L287.8 355.6 L288.3 355.8 L288.8 356.0 L289.3 356.1 L289.8 356.3 L290.3 356.4 L290.8 356.6 L291.3 356.6 L291.8 356.6 L292.3 356.8 L292.8 356.7 L293.3 356.6 L293.8 356.5 L294.3 356.6 L294.8 356.5 L295.3 356.4 L295.8 356.3 L296.3 356.1 L296.8 356.0 L297.3 355.8 L297.8 355.6 L298.3 355.4 L298.8 355.1 L299.3 354.9 L299.8 354.6 L300.3 354.3 L300.8 354.2 L301.3 354.2 L301.8 354.2 L302.3 354.2 L302.8 354.3 L303.3 354.4 L303.8 354.5 L304.3 354.7 L304.8 354.9 L305.3 355.1 L305.8 355.3 L306.3 355.5 L306.8 355.7 L307.3 355.9 L307.8 356.2 L308.3 356.4 L308.8 356.5 L309.3 356.5 L309.8 356.6 L310.3 356.6 L310.8 356.6 L311.3 356.7 L311.8 356.7 L312.3 356.8 L312.8 356.8 L313.3 356.7 L313.8 356.8 L314.3 356.7 L314.8 356.7 L315.3 356.8 L315.8 356.7 L316.3 356.7 L316.8 356.7 L317.3 356.8 L317.8 356.8 L318.3 356.9 L318.8 356.9 L319.3 356.8 L319.8 356.9 L320.3 356.8 L320.8 356.8 L321.3 356.9 L321.8 356.8 L322.3 356.8 L322.8 356.9 L323.3 356.9 L323.8 356.9 L324.3 356.9 L324.8 356.9 L325.3 356.9 L325.8 356.9 L326.3 356.9 L326.8 356.9 L327.3 356.9 L327.8 356.9 L328.3 356.9 L328.8 356.9 L329.3 356.9 L329.8 356.9 L330.3 356.9 L330.8 356.9 L331.3 356.9 L331.8 356.9 L332.3 356.8 L332.8 356.8 L333.3 356.8 L333.8 356.9 L334.3 356.9 L334.8 356.9 L335.3 356.8 L335.8 356.9 L336.3 356.9 L336.8 356.9 L337.3 356.8 L337.8 356.8 L338.3 356.8 L338.8 356.9 L339.3 356.9 L339.8 356.9 L340.3 356.9 L340.8 356.9 L341.3 356.9 L341.8 356.7 L342.3 356.7 L342.8 356.5 L343.3 356.3 L343.8 356.0 L344.3 355.3 L344.8 354.3 L345.3 352.7 L345.8 350.1 L346.3 346.3 L346.8 340.9 L347.3 333.7 L347.8 324.4 L348.3 313.0 L348.8 299.5 L349.3 284.6 L349.8 269.0 L350.3 253.7 L350.8 240.1 L351.3 229.2 L351.8 222.3 L352.3 219.8 L352.8 222.2 L353.3 229.1 L353.8 240.0 L354.3 253.7 L354.8 268.9 L355.3 284.4 L355.8 299.3 L356.3 312.8 L356.8 324.3 L357.3 333.5 L357.8 340.7 L358.3 345.9 L358.8 349.4 L359.3 351.4 L359.8 352.1 L360.3 351.8 L360.8 350.3 L361.3 347.4 L361.8 343.0 L362.3 336.6 L362.8 328.2 L363.3 317.7 L363.8 305.1 L364.3 290.6 L364.8 275.1 L365.3 259.6 L365.8 245.1 L366.3 233.0 L366.8 224.4 L367.3 220.1 L367.8 220.5 L368.3 225.8 L368.8 235.2 L369.3 247.9 L369.8 262.6 L370.3 278.2 L370.8 293.5 L371.3 307.5 L371.8 319.9 L372.3 330.0 L372.8 338.1 L373.3 344.2 L373.8 348.6 L374.3 351.6 L374.8 353.6 L375.3 354.9 L375.8 355.7 L376.3 356.2 L376.8 356.4 L377.3 356.5 L377.8 356.7 L378.3 356.7 L378.8 356.7 L379.3 356.8 L379.8 356.8 L380.3 356.8 L380.8 356.8 L381.3 356.9 L381.8 356.9 L382.3 356.9 L382.8 356.9 L383.3 356.8 L383.8 356.8 L384.3 356.8 L384.8 356.8 L385.3 356.7 L385.8 356.7 L386.3 356.8 L386.8 356.7 L387.3 356.7 L387.8 356.7 L388.3 356.8 L388.8 356.7 L389.3 356.6 L389.8 356.6 L390.3 356.6 L390.8 356.6 L391.3 356.6 L391.8 356.6 L392.3 356.6 L392.8 356.6 L393.3 356.6 L393.8 356.6 L394.3 356.5 L394.8 356.4 L395.3 356.3 L395.8 356.1 L396.3 355.8 L396.8 355.4 L397.3 354.9 L397.8 354.1 L398.3 353.2 L398.8 352.1 L399.3 350.8 L399.8 349.4 L400.3 348.1 L400.8 346.8 L401.3 345.8 L401.8 345.1 L402.3 344.9 L402.8 345.0 L403.3 345.6 L403.8 346.6 L404.3 347.7 L404.8 349.1 L405.3 350.4 L405.8 351.9 L406.3 353.0 L406.8 354.0 L407.3 354.9 L407.8 355.6 L408.3 355.9 L408.8 356.3 L409.3 356.6 L409.8 356.7 L410.3 356.8 L410.8 356.8 L411.3 356.8 L411.8 356.8 L412.3 356.8 L412.8 356.8 L413.3 356.7 L413.8 356.7 L414.3 356.7 L414.8 356.7 L415.3 356.7 L415.8 356.6 L416.3 356.7 L416.8 356.6 L417.3 356.6 L417.8 356.6 L418.3 356.5 L418.8 356.5 L419.3 356.5 L419.8 356.5 L420.3 356.4 L420.8 356.3 L421.3 356.2 L421.8 356.2 L422.3 355.9 L422.8 355.7 L423.3 355.3 L423.8 354.9 L424.3 354.3 L424.8 353.6 L425.3 352.8 L425.8 352.2 L426.3 351.6 L426.8 351.1 L427.3 351.0 L427.8 351.0 L428.3 351.3 L428.8 351.8 L429.3 352.4 L429.8 352.9 L430.3 353.4 L430.8 353.9 L431.3 354.2 L431.8 354.5 L432.3 354.7 L432.8 354.8 L433.3 354.9 L433.8 354.9 L434.3 355.0 L434.8 355.1 L435.3 355.3 L435.8 355.4 L436.3 355.6 L436.8 355.9 L437.3 356.0 L437.8 356.2 L438.3 356.4 L438.8 356.5 L439.3 356.6 L439.8 356.6 L440.3 356.6 L440.8 356.6 L441.3 356.7 L441.8 356.8 L442.3 356.8 L442.8 356.9 L443.3 356.8 L443.8 356.8 L444.3 356.7 L444.8 356.7 L445.3 356.7 L445.8 356.7 L446.3 356.7 L446.8 356.6 L447.3 356.6 L447.8 356.6 L448.3 356.7 L448.8 356.8 L449.3 356.8 L449.8 356.8 L450.3 356.8 L450.8 356.7 L451.3 356.8 L451.8 356.8 L452.3 356.8 L452.8 356.7 L453.3 356.8 L453.8 356.7 L454.3 356.7 L454.8 356.8 L455.3 356.7 L455.8 356.8 L456.3 356.7 L456.8 356.6 L457.3 356.6 L457.8 356.6 L458.3 356.6 L458.8 356.6 L459.3 356.6 L459.8 356.6 L460.3 356.6 L460.8 356.6 L461.3 356.5 L461.8 356.6 L462.3 356.6 L462.8 356.6 L463.3 356.7 L463.8 356.7 L464.3 356.7 L464.8 356.6 L465.3 356.6 L465.8 356.5 L466.3 356.6 L466.8 356.6 L467.3 356.6 L467.8 356.6 L468.3 356.7 L468.8 356.7 L469.3 356.7 L469.8 356.7 L470.3 356.7 L470.8 356.8 L471.3 356.7 L471.8 356.7 L472.3 356.7 L472.8 356.6 L473.3 356.7 L473.8 356.7 L474.3 356.5 L474.8 356.5 L475.3 356.4 L475.8 356.3 L476.3 356.2 L476.8 356.1 L477.3 356.0 L477.8 355.8 L478.3 355.6 L478.8 355.4 L479.3 355.4 L479.8 355.2 L480.3 355.1 L480.8 355.2 L481.3 355.1 L481.8 355.1 L482.3 355.2 L482.8 355.4 L483.3 355.5 L483.8 355.6 L484.3 355.7 L484.8 355.7 L485.3 355.8 L485.8 355.8 L486.3 355.7 L486.8 355.7 L487.3 355.5 L487.8 355.4 L488.3 355.2 L488.8 355.2 L489.3 355.1 L489.8 355.0 L490.3 355.1 L490.8 355.1 L491.3 355.2 L491.8 355.4 L492.3 355.7 L492.8 356.0 L493.3 356.2 L493.8 356.3 L494.3 356.6 L494.8 356.6 L495.3 356.7 L495.8 356.9 L496.3 356.9 L496.8 356.9 L497.3 356.9 L497.8 356.9 L498.3 356.9 L498.8 356.9 L499.3 356.9 L499.8 356.9 L500.3 356.9 L500.8 356.9 L501.3 356.9 L501.8 356.9 L502.3 356.9 L502.8 356.9 L503.3 356.9 L503.8 356.8 L504.3 356.6 L504.8 356.5 L505.3 356.4 L505.8 356.2 L506.3 355.9 L506.8 355.8 L507.3 355.6 L507.8 355.5 L508.3 355.4 L508.8 355.4 L509.3 355.5 L509.8 355.5 L510.3 355.5 L510.8 355.6 L511.3 355.7 L511.8 355.9 L512.3 356.1 L512.8 356.2 L513.3 356.4 L513.8 356.5 L514.3 356.6 L514.8 356.7 L515.3 356.7 L515.8 356.7 L516.3 356.8 L516.8 356.9 L517.3 356.8 L517.8 356.8 L518.3 356.8 L518.8 356.8 L519.3 356.8 L519.8 356.8 L520.3 356.7 L520.8 356.6 L521.3 356.6 L521.8 356.6 L522.3 356.6 L522.8 356.6 L523.3 356.6 L523.8 356.7 L524.3 356.5 L524.8 356.5 L525.3 356.5 L525.8 356.5 L526.3 356.5 L526.8 356.5 L527.3 356.5 L527.8 356.5 L528.3 356.5 L528.8 356.6 L529.3 356.6 L529.8 356.5 L530.3 356.4 L530.8 356.3 L531.3 356.2 L531.8 356.1 L532.3 356.0 L532.8 355.8 L533.3 355.6 L533.8 355.4 L534.3 355.0 L534.8 354.7 L535.3 354.5 L535.8 354.4 L536.3 354.3 L536.8 354.4 L537.3 354.6 L537.8 354.8 L538.3 355.1 L538.8 355.4 L539.3 355.6 L539.8 355.8 L540.3 355.9 L540.8 356.0 L541.3 356.1 L541.8 356.2 L542.3 356.3 L542.8 356.4 L543.3 356.5 L543.8 356.6 L544.3 356.7 L544.8 356.7 L545.3 356.6 L545.8 356.6 L546.3 356.6 L546.8 356.6 L547.3 356.6 L547.8 356.6 L548.3 356.6 L548.8 356.5 L549.3 356.5 L549.8 356.6 L550.3 356.5 L550.8 356.6 L551.3 356.5 L551.8 356.5 L552.3 356.6 L552.8 356.6 L553.3 356.6 L553.8 356.6 L554.3 356.6 L554.8 356.5 L555.3 356.6 L555.8 356.7 L556.3 356.7 L556.8 356.9 L557.3 356.8 L557.8 356.8 L558.3 356.8 L558.8 356.8 L559.3 356.9 L559.8 356.8 L560.3 356.7 L560.8 356.6 L561.3 356.5 L561.8 356.2 L562.3 356.0 L562.8 355.8 L563.3 355.4 L563.8 355.0 L564.3 354.8 L564.8 354.5 L565.3 354.3 L565.8 354.2 L566.3 354.1 L566.8 354.1 L567.3 354.4 L567.8 354.7 L568.3 355.0 L568.8 355.4 L569.3 355.7 L569.8 356.0 L570.3 356.2 L570.8 356.4 L571.3 356.5 L571.8 356.6 L572.3 356.6 L572.8 356.7 L573.3 356.7 L573.8 356.8 L574.3 356.8 L574.8 356.8 L575.3 356.7 L575.8 356.6 L576.3 356.6 L576.8 356.6 L577.3 356.5 L577.8 356.5 L578.3 356.5 L578.8 356.6 L579.3 356.6 L579.8 356.6 L580.3 356.6 L580.8 356.6 L581.3 356.5 L581.8 356.5 L582.3 356.6 L582.8 356.7 L583.3 356.7 L583.8 356.7 L584.3 356.7 L584.8 356.7 L585.3 356.8 L585.8 356.7 L586.3 356.7 L586.8 356.6 L587.3 356.7 L587.8 356.6 L588.3 356.6 L588.8 356.7 L589.3 356.7 L589.8 356.7 L590.3 356.7 L590.8 356.7 L591.3 356.7 L591.8 356.8 L592.3 356.8 L592.8 356.7 L593.3 356.8 L593.8 356.8 L594.3 356.8 L594.8 356.8 L595.3 356.8 L595.8 356.9 L596.3 356.9 L596.8 356.8 L597.3 356.9 L597.8 356.8 L598.3 356.7 L598.8 356.6 L599.3 356.5 L599.8 356.3 L600.3 356.2 L600.8 356.0 L601.3 355.7 L601.8 355.6 L602.3 355.4 L602.8 355.1 L603.3 354.9 L603.8 354.5 L604.3 354.2 L604.8 353.8 L605.3 353.5 L605.8 353.2 L606.3 353.1 L606.8 352.9 L607.3 352.7 L607.8 352.8 L608.3 352.8 L608.8 352.9 L609.3 353.0 L609.8 353.1 L610.3 353.3 L610.8 353.5 L611.3 353.8 L611.8 354.1 L612.3 354.3 L612.8 354.6 L613.3 354.9 L613.8 355.1 L614.3 355.1 L614.8 355.3 L615.3 355.3 L615.8 355.2 L616.3 355.1 L616.8 355.0 L617.3 354.7 L617.8 354.4 L618.3 354.0 L618.8 353.7 L619.3 353.3 L619.8 353.0 L620.3 352.8 L620.8 352.6 L621.3 352.4 L621.8 352.4 L622.3 352.4 L622.8 352.4 L623.3 352.6 L623.8 352.9 L624.3 353.1 L624.8 353.5 L625.3 353.9 L625.8 354.4 L626.3 354.7 L626.8 355.1 L627.3 355.4 L627.8 355.6 L628.3 355.7 L628.8 356.0 L629.3 356.1 L629.8 356.2 L630.3 356.2 L630.8 356.4 L631.3 356.3 L631.8 356.3 L632.3 356.2 L632.8 356.0 L633.3 355.8 L633.8 355.6 L634.3 355.4 L634.8 355.2 L635.3 354.9 L635.8 354.7 L636.3 354.5 L636.8 354.3 L637.3 354.2 L637.8 354.1 L638.3 354.2 L638.8 354.2 L639.3 354.4 L639.8 354.5 L640.3 354.8 L640.8 355.1 L641.3 355.3 L641.8 355.5 L642.3 355.7 L642.8 355.9 L643.3 356.1 L643.8 356.2 L644.3 356.4 L644.8 356.4 L645.3 356.5 L645.8 356.5 L646.3 356.4 L646.8 356.5 L647.3 356.4 L647.8 356.5 L648.3 356.4 L648.8 356.4 L649.3 356.4 L649.8 356.5 L650.3 356.6 L650.8 356.6 L651.3 356.6 L651.8 356.6" stroke="#4472C4" stroke-width="1.90"/>
<path class="tr" d="M70.3 554.7 L70.8 554.7 L71.3 554.6 L71.8 554.8 L72.3 554.7 L72.8 554.8 L73.3 554.9 L73.8 555.2 L74.3 555.2 L74.8 555.5 L75.3 555.7 L75.8 555.9 L76.3 556.0 L76.8 556.1 L77.3 556.2 L77.8 556.1 L78.3 556.1 L78.8 556.2 L79.3 556.1 L79.8 556.0 L80.3 556.2 L80.8 556.2 L81.3 556.0 L81.8 556.1 L82.3 556.1 L82.8 556.0 L83.3 555.7 L83.8 555.9 L84.3 555.9 L84.8 555.7 L85.3 555.5 L85.8 555.2 L86.3 554.5 L86.8 553.6 L87.3 552.5 L87.8 550.9 L88.3 548.8 L88.8 546.2 L89.3 543.5 L89.8 540.2 L90.3 536.5 L90.8 532.9 L91.3 529.4 L91.8 526.1 L92.3 523.4 L92.8 521.4 L93.3 520.4 L93.8 520.3 L94.3 521.3 L94.8 523.2 L95.3 525.9 L95.8 528.9 L96.3 532.4 L96.8 536.1 L97.3 539.5 L97.8 542.8 L98.3 545.7 L98.8 548.1 L99.3 549.9 L99.8 551.4 L100.3 552.3 L100.8 552.7 L101.3 552.7 L101.8 552.5 L102.3 551.6 L102.8 550.3 L103.3 548.6 L103.8 546.1 L104.3 543.2 L104.8 539.8 L105.3 536.4 L105.8 532.4 L106.3 528.6 L106.8 525.0 L107.3 521.7 L107.8 519.3 L108.3 517.9 L108.8 517.3 L109.3 517.6 L109.8 519.2 L110.3 521.7 L110.8 524.7 L111.3 527.8 L111.8 531.4 L112.3 534.7 L112.8 537.6 L113.3 540.1 L113.8 541.5 L114.3 542.0 L114.8 541.8 L115.3 541.2 L115.8 539.9 L116.3 538.2 L116.8 536.4 L117.3 534.8 L117.8 533.3 L118.3 532.3 L118.8 531.5 L119.3 531.4 L119.8 532.1 L120.3 533.5 L120.8 535.4 L121.3 537.7 L121.8 540.2 L122.3 542.9 L122.8 545.3 L123.3 547.6 L123.8 549.4 L124.3 551.1 L124.8 552.6 L125.3 553.6 L125.8 554.5 L126.3 555.0 L126.8 555.2 L127.3 555.3 L127.8 555.1 L128.3 554.7 L128.8 554.3 L129.3 553.5 L129.8 552.6 L130.3 551.3 L130.8 549.8 L131.3 547.8 L131.8 545.6 L132.3 542.8 L132.8 540.0 L133.3 537.1 L133.8 534.4 L134.3 531.8 L134.8 529.6 L135.3 528.0 L135.8 527.2 L136.3 527.3 L136.8 528.1 L137.3 529.5 L137.8 531.4 L138.3 534.0 L138.8 536.8 L139.3 539.5 L139.8 542.1 L140.3 544.3 L140.8 546.4 L141.3 548.0 L141.8 549.5 L142.3 550.5 L142.8 551.4 L143.3 552.1 L143.8 552.7 L144.3 553.2 L144.8 553.5 L145.3 553.9 L145.8 554.2 L146.3 554.5 L146.8 555.0 L147.3 555.3 L147.8 555.6 L148.3 555.9 L148.8 556.0 L149.3 556.3 L149.8 556.3 L150.3 556.4 L150.8 556.7 L151.3 556.6 L151.8 556.5 L152.3 556.7 L152.8 556.5 L153.3 556.5 L153.8 556.5 L154.3 556.4 L154.8 556.3 L155.3 556.3 L155.8 556.2 L156.3 556.1 L156.8 556.0 L157.3 556.3 L157.8 556.3 L158.3 556.3 L158.8 556.5 L159.3 556.5 L159.8 556.5 L160.3 556.5 L160.8 556.7 L161.3 556.9 L161.8 557.1 L162.3 557.1 L162.8 557.0 L163.3 556.9 L163.8 557.0 L164.3 556.9 L164.8 556.9 L165.3 556.7 L165.8 556.7 L166.3 556.6 L166.8 556.6 L167.3 556.5 L167.8 556.4 L168.3 556.3 L168.8 556.4 L169.3 556.3 L169.8 556.2 L170.3 556.2 L170.8 556.3 L171.3 556.4 L171.8 556.5 L172.3 556.5 L172.8 556.5 L173.3 556.3 L173.8 556.3 L174.3 556.3 L174.8 556.3 L175.3 556.3 L175.8 556.2 L176.3 556.1 L176.8 556.0 L177.3 556.0 L177.8 556.0 L178.3 556.0 L178.8 556.0 L179.3 556.2 L179.8 556.4 L180.3 556.5 L180.8 556.5 L181.3 556.6 L181.8 556.7 L182.3 556.9 L182.8 556.9 L183.3 556.9 L183.8 556.9 L184.3 556.9 L184.8 556.7 L185.3 556.7 L185.8 556.6 L186.3 556.6 L186.8 556.6 L187.3 556.5 L187.8 556.5 L188.3 556.4 L188.8 556.4 L189.3 556.4 L189.8 556.4 L190.3 556.5 L190.8 556.7 L191.3 556.6 L191.8 556.5 L192.3 556.3 L192.8 556.2 L193.3 556.0 L193.8 555.8 L194.3 555.7 L194.8 555.4 L195.3 555.1 L195.8 554.5 L196.3 553.8 L196.8 553.2 L197.3 552.4 L197.8 551.5 L198.3 550.7 L198.8 549.8 L199.3 548.7 L199.8 547.8 L200.3 546.7 L200.8 545.9 L201.3 545.1 L201.8 544.6 L202.3 544.4 L202.8 544.1 L203.3 544.3 L203.8 544.7 L204.3 545.1 L204.8 545.8 L205.3 546.8 L205.8 547.8 L206.3 548.8 L206.8 549.7 L207.3 550.7 L207.8 551.7 L208.3 552.5 L208.8 553.4 L209.3 554.1 L209.8 554.6 L210.3 555.2 L210.8 555.5 L211.3 555.7 L211.8 555.8 L212.3 555.7 L212.8 555.4 L213.3 554.7 L213.8 553.6 L214.3 552.0 L214.8 549.7 L215.3 546.6 L215.8 542.6 L216.3 537.6 L216.8 531.8 L217.3 525.0 L217.8 517.6 L218.3 510.2 L218.8 502.9 L219.3 496.7 L219.8 491.7 L220.3 488.5 L220.8 487.4 L221.3 488.5 L221.8 491.8 L222.3 496.7 L222.8 502.8 L223.3 509.7 L223.8 516.8 L224.3 523.5 L224.8 529.5 L225.3 534.1 L225.8 537.0 L226.3 538.5 L226.8 538.4 L227.3 536.4 L227.8 532.8 L228.3 527.6 L228.8 521.2 L229.3 513.9 L229.8 506.1 L230.3 498.0 L230.8 490.4 L231.3 483.9 L231.8 478.7 L232.3 475.3 L232.8 474.0 L233.3 474.9 L233.8 477.9 L234.3 482.7 L234.8 489.0 L235.3 496.1 L235.8 503.3 L236.3 510.5 L236.8 516.9 L237.3 522.7 L237.8 527.5 L238.3 531.4 L238.8 534.2 L239.3 536.3 L239.8 537.8 L240.3 539.2 L240.8 540.1 L241.3 541.0 L241.8 542.1 L242.3 543.1 L242.8 544.5 L243.3 545.8 L243.8 547.2 L244.3 548.4 L244.8 549.6 L245.3 550.4 L245.8 550.7 L246.3 550.4 L246.8 549.7 L247.3 548.1 L247.8 545.6 L248.3 542.2 L248.8 537.3 L249.3 531.2 L249.8 523.6 L250.3 514.7 L250.8 504.9 L251.3 494.3 L251.8 483.7 L252.3 473.6 L252.8 464.5 L253.3 457.2 L253.8 452.2 L254.3 449.9 L254.8 450.8 L255.3 454.4 L255.8 460.4 L256.3 468.5 L256.8 477.9 L257.3 487.8 L257.8 498.0 L258.3 507.5 L258.8 516.3 L259.3 523.8 L259.8 529.9 L260.3 534.6 L260.8 537.9 L261.3 540.3 L261.8 541.8 L262.3 542.7 L262.8 543.0 L263.3 543.1 L263.8 543.0 L264.3 543.1 L264.8 543.1 L265.3 543.3 L265.8 543.5 L266.3 544.1 L266.8 544.7 L267.3 545.2 L267.8 545.9 L268.3 546.6 L268.8 547.6 L269.3 548.5 L269.8 549.2 L270.3 549.9 L270.8 550.4 L271.3 550.8 L271.8 551.0 L272.3 551.1 L272.8 551.1 L273.3 551.2 L273.8 551.2 L274.3 551.1 L274.8 550.9 L275.3 550.7 L275.8 550.8 L276.3 550.8 L276.8 550.9 L277.3 551.0 L277.8 551.1 L278.3 551.3 L278.8 551.4 L279.3 551.5 L279.8 551.4 L280.3 551.3 L280.8 551.3 L281.3 551.2 L281.8 550.9 L282.3 550.7 L282.8 550.3 L283.3 549.9 L283.8 549.4 L284.3 548.6 L284.8 547.7 L285.3 546.6 L285.8 545.3 L286.3 543.8 L286.8 542.3 L287.3 540.8 L287.8 539.5 L288.3 538.5 L288.8 537.9 L289.3 537.6 L289.8 537.6 L290.3 537.7 L290.8 537.8 L291.3 537.3 L291.8 536.1 L292.3 534.0 L292.8 530.5 L293.3 525.7 L293.8 519.2 L294.3 511.2 L294.8 501.9 L295.3 491.4 L295.8 480.1 L296.3 468.5 L296.8 457.3 L297.3 446.8 L297.8 437.8 L298.3 430.8 L298.8 426.3 L299.3 424.3 L299.8 425.1 L300.3 428.6 L300.8 434.7 L301.3 442.7 L301.8 452.3 L302.3 462.5 L302.8 472.5 L303.3 481.8 L303.8 489.5 L304.3 494.9 L304.8 497.8 L305.3 498.0 L305.8 495.8 L306.3 491.6 L306.8 486.3 L307.3 481.0 L307.8 476.6 L308.3 474.4 L308.8 474.7 L309.3 478.0 L309.8 484.2 L310.3 492.7 L310.8 502.2 L311.3 512.4 L311.8 522.0 L312.3 530.5 L312.8 537.3 L313.3 542.6 L313.8 546.3 L314.3 548.4 L314.8 549.6 L315.3 549.7 L315.8 549.1 L316.3 548.0 L316.8 546.8 L317.3 545.6 L317.8 544.7 L318.3 544.2 L318.8 544.2 L319.3 544.5 L319.8 545.0 L320.3 545.7 L320.8 546.3 L321.3 546.9 L321.8 547.2 L322.3 547.2 L322.8 547.0 L323.3 546.4 L323.8 545.5 L324.3 544.5 L324.8 543.6 L325.3 542.7 L325.8 542.2 L326.3 541.8 L326.8 541.8 L327.3 542.1 L327.8 542.7 L328.3 543.6 L328.8 544.5 L329.3 545.6 L329.8 546.8 L330.3 547.7 L330.8 548.4 L331.3 548.9 L331.8 549.2 L332.3 549.3 L332.8 549.4 L333.3 549.2 L333.8 549.1 L334.3 549.2 L334.8 549.3 L335.3 549.2 L335.8 549.4 L336.3 549.8 L336.8 550.2 L337.3 550.6 L337.8 550.9 L338.3 551.2 L338.8 551.5 L339.3 551.8 L339.8 551.9 L340.3 551.7 L340.8 551.6 L341.3 551.5 L341.8 551.4 L342.3 551.0 L342.8 550.9 L343.3 550.7 L343.8 550.6 L344.3 550.5 L344.8 550.3 L345.3 550.0 L345.8 549.9 L346.3 549.6 L346.8 549.4 L347.3 549.1 L347.8 548.7 L348.3 548.4 L348.8 548.0 L349.3 547.8 L349.8 547.5 L350.3 547.4 L350.8 547.5 L351.3 547.6 L351.8 547.9 L352.3 548.3 L352.8 548.7 L353.3 549.4 L353.8 550.0 L354.3 550.4 L354.8 551.2 L355.3 551.8 L355.8 552.4 L356.3 552.9 L356.8 553.4 L357.3 553.9 L357.8 554.3 L358.3 554.5 L358.8 554.8 L359.3 555.1 L359.8 555.2 L360.3 555.5 L360.8 555.5 L361.3 555.6 L361.8 555.5 L362.3 555.6 L362.8 555.6 L363.3 555.6 L363.8 555.5 L364.3 555.4 L364.8 555.2 L365.3 554.9 L365.8 554.8 L366.3 554.7 L366.8 554.5 L367.3 554.4 L367.8 554.3 L368.3 554.0 L368.8 553.9 L369.3 553.8 L369.8 553.6 L370.3 553.7 L370.8 553.7 L371.3 553.8 L371.8 553.7 L372.3 553.8 L372.8 554.1 L373.3 554.2 L373.8 554.4 L374.3 554.8 L374.8 555.1 L375.3 555.2 L375.8 555.5 L376.3 555.6 L376.8 555.6 L377.3 555.7 L377.8 555.4 L378.3 555.1 L378.8 554.7 L379.3 554.3 L379.8 554.1 L380.3 553.4 L380.8 552.8 L381.3 552.3 L381.8 551.9 L382.3 551.5 L382.8 551.3 L383.3 551.2 L383.8 551.4 L384.3 551.7 L384.8 552.2 L385.3 552.5 L385.8 552.7 L386.3 553.2 L386.8 553.6 L387.3 554.2 L387.8 554.7 L388.3 555.0 L388.8 555.1 L389.3 555.2 L389.8 554.9 L390.3 554.2 L390.8 553.0 L391.3 551.1 L391.8 548.4 L392.3 544.5 L392.8 539.5 L393.3 533.3 L393.8 526.2 L394.3 518.9 L394.8 511.8 L395.3 505.7 L395.8 501.5 L396.3 499.7 L396.8 500.6 L397.3 504.0 L397.8 509.4 L398.3 516.1 L398.8 523.5 L399.3 530.7 L399.8 537.2 L400.3 542.4 L400.8 546.7 L401.3 549.6 L401.8 551.9 L402.3 553.0 L402.8 553.6 L403.3 554.1 L403.8 554.4 L404.3 554.6 L404.8 554.8 L405.3 554.9 L405.8 555.0 L406.3 555.1 L406.8 555.2 L407.3 555.4 L407.8 555.5 L408.3 555.8 L408.8 556.0 L409.3 555.9 L409.8 556.1 L410.3 556.2 L410.8 556.1 L411.3 556.0 L411.8 555.8 L412.3 555.7 L412.8 555.3 L413.3 554.8 L413.8 554.3 L414.3 553.9 L414.8 553.2 L415.3 552.7 L415.8 552.1 L416.3 551.8 L416.8 551.6 L417.3 551.7 L417.8 551.8 L418.3 552.0 L418.8 552.3 L419.3 552.6 L419.8 552.6 L420.3 552.4 L420.8 552.1 L421.3 551.1 L421.8 549.7 L422.3 547.6 L422.8 545.4 L423.3 542.8 L423.8 540.0 L424.3 537.6 L424.8 535.5 L425.3 534.0 L425.8 533.4 L426.3 533.6 L426.8 534.6 L427.3 536.3 L427.8 538.4 L428.3 540.8 L428.8 543.1 L429.3 545.1 L429.8 547.1 L430.3 548.6 L430.8 549.5 L431.3 550.1 L431.8 550.6 L432.3 550.8 L432.8 550.9 L433.3 551.1 L433.8 551.3 L434.3 551.7 L434.8 552.1 L435.3 552.7 L435.8 553.1 L436.3 553.4 L436.8 553.9 L437.3 554.4 L437.8 554.7 L438.3 554.8 L438.8 555.0 L439.3 555.2 L439.8 555.2 L440.3 555.1 L440.8 555.1 L441.3 555.0 L441.8 554.8 L442.3 554.7 L442.8 554.7 L443.3 554.6 L443.8 554.6 L444.3 554.7 L444.8 554.6 L445.3 554.6 L445.8 554.6 L446.3 554.8 L446.8 554.8 L447.3 554.8 L447.8 555.0 L448.3 555.3 L448.8 555.4 L449.3 555.3 L449.8 555.4 L450.3 555.4 L450.8 555.6 L451.3 555.7 L451.8 555.8 L452.3 555.7 L452.8 555.6 L453.3 555.6 L453.8 555.4 L454.3 555.2 L454.8 555.2 L455.3 555.4 L455.8 555.4 L456.3 555.4 L456.8 555.2 L457.3 555.3 L457.8 555.4 L458.3 555.5 L458.8 555.5 L459.3 555.6 L459.8 555.6 L460.3 555.7 L460.8 555.7 L461.3 555.6 L461.8 555.7 L462.3 555.7 L462.8 555.9 L463.3 555.8 L463.8 555.8 L464.3 555.7 L464.8 555.8 L465.3 555.8 L465.8 556.0 L466.3 556.0 L466.8 556.1 L467.3 556.2 L467.8 556.2 L468.3 556.2 L468.8 556.3 L469.3 556.4 L469.8 556.4 L470.3 556.4 L470.8 556.6 L471.3 556.6 L471.8 556.6 L472.3 556.8 L472.8 556.7 L473.3 556.7 L473.8 556.8 L474.3 556.8 L474.8 556.8 L475.3 556.8 L475.8 556.8 L476.3 556.8 L476.8 556.7 L477.3 556.7 L477.8 556.6 L478.3 556.5 L478.8 556.4 L479.3 556.3 L479.8 556.2 L480.3 556.2 L480.8 556.1 L481.3 556.0 L481.8 555.9 L482.3 555.9 L482.8 556.1 L483.3 555.9 L483.8 555.9 L484.3 555.9 L484.8 555.8 L485.3 555.9 L485.8 555.8 L486.3 555.7 L486.8 555.5 L487.3 555.3 L487.8 555.0 L488.3 554.5 L488.8 553.8 L489.3 553.4 L489.8 552.8 L490.3 552.1 L490.8 551.7 L491.3 551.4 L491.8 551.3 L492.3 551.3 L492.8 551.5 L493.3 552.0 L493.8 552.5 L494.3 553.1 L494.8 553.8 L495.3 554.2 L495.8 554.8 L496.3 555.4 L496.8 555.5 L497.3 555.9 L497.8 556.1 L498.3 556.2 L498.8 556.3 L499.3 556.3 L499.8 556.4 L500.3 556.3 L500.8 556.1 L501.3 556.2 L501.8 556.2 L502.3 555.9 L502.8 555.7 L503.3 555.4 L503.8 554.8 L504.3 554.0 L504.8 553.6 L505.3 552.7 L505.8 551.6 L506.3 550.9 L506.8 550.4 L507.3 549.7 L507.8 549.3 L508.3 549.4 L508.8 549.7 L509.3 550.0 L509.8 550.6 L510.3 551.2 L510.8 551.4 L511.3 551.9 L511.8 551.9 L512.3 551.9 L512.8 551.6 L513.3 551.1 L513.8 550.4 L514.3 550.0 L514.8 549.6 L515.3 549.3 L515.8 549.3 L516.3 549.4 L516.8 549.9 L517.3 550.6 L517.8 551.5 L518.3 552.1 L518.8 553.0 L519.3 553.6 L519.8 554.4 L520.3 554.7 L520.8 554.9 L521.3 555.1 L521.8 555.1 L522.3 555.3 L522.8 555.2 L523.3 555.0 L523.8 554.8 L524.3 554.7 L524.8 554.5 L525.3 554.2 L525.8 554.0 L526.3 553.9 L526.8 553.8 L527.3 553.6 L527.8 553.6 L528.3 553.5 L528.8 553.6 L529.3 553.7 L529.8 553.9 L530.3 554.0 L530.8 553.8 L531.3 553.8 L531.8 553.4 L532.3 552.9 L532.8 552.3 L533.3 551.5 L533.8 550.4 L534.3 549.2 L534.8 548.0 L535.3 546.8 L535.8 545.9 L536.3 545.4 L536.8 545.4 L537.3 545.6 L537.8 546.4 L538.3 547.6 L538.8 548.8 L539.3 550.0 L539.8 551.4 L540.3 552.8 L540.8 553.7 L541.3 554.6 L541.8 555.3 L542.3 555.7 L542.8 556.0 L543.3 556.3 L543.8 556.5 L544.3 556.4 L544.8 556.4 L545.3 556.6 L545.8 556.5 L546.3 556.3 L546.8 556.7 L547.3 556.7 L547.8 556.6 L548.3 556.6 L548.8 556.7 L549.3 556.7 L549.8 556.6 L550.3 556.5 L550.8 556.4 L551.3 556.4 L551.8 556.5 L552.3 556.4 L552.8 556.2 L553.3 556.2 L553.8 556.3 L554.3 556.2 L554.8 556.1 L555.3 556.2 L555.8 556.1 L556.3 556.3 L556.8 556.4 L557.3 556.3 L557.8 556.3 L558.3 556.2 L558.8 556.1 L559.3 556.0 L559.8 555.6 L560.3 555.4 L560.8 554.8 L561.3 554.0 L561.8 553.0 L562.3 551.7 L562.8 550.1 L563.3 548.6 L563.8 546.8 L564.3 545.3 L564.8 544.0 L565.3 542.9 L565.8 542.5 L566.3 542.5 L566.8 543.0 L567.3 544.1 L567.8 545.5 L568.3 546.9 L568.8 548.4 L569.3 549.9 L569.8 551.0 L570.3 551.9 L570.8 552.7 L571.3 553.3 L571.8 553.7 L572.3 553.9 L572.8 554.0 L573.3 554.1 L573.8 554.2 L574.3 554.2 L574.8 554.4 L575.3 554.6 L575.8 554.9 L576.3 555.2 L576.8 555.4 L577.3 555.6 L577.8 555.6 L578.3 555.8 L578.8 555.9 L579.3 555.8 L579.8 555.9 L580.3 555.8 L580.8 555.7 L581.3 555.3 L581.8 555.1 L582.3 554.8 L582.8 554.7 L583.3 554.5 L583.8 554.4 L584.3 554.2 L584.8 554.2 L585.3 554.2 L585.8 554.3 L586.3 554.4 L586.8 554.5 L587.3 554.9 L587.8 555.3 L588.3 555.6 L588.8 555.7 L589.3 555.9 L589.8 556.0 L590.3 556.2 L590.8 556.2 L591.3 556.3 L591.8 556.4 L592.3 556.5 L592.8 556.5 L593.3 556.5 L593.8 556.3 L594.3 556.2 L594.8 556.2 L595.3 556.1 L595.8 555.9 L596.3 555.8 L596.8 555.9 L597.3 555.9 L597.8 555.7 L598.3 555.6 L598.8 555.6 L599.3 555.5 L599.8 555.4 L600.3 555.4 L600.8 555.3 L601.3 555.5 L601.8 555.4 L602.3 555.4 L602.8 555.4 L603.3 555.4 L603.8 555.5 L604.3 555.6 L604.8 555.7 L605.3 555.6 L605.8 555.7 L606.3 555.8 L606.8 555.8 L607.3 555.8 L607.8 555.9 L608.3 556.0 L608.8 555.8 L609.3 555.8 L609.8 555.6 L610.3 555.5 L610.8 555.3 L611.3 555.3 L611.8 555.3 L612.3 555.3 L612.8 555.3 L613.3 555.2 L613.8 555.4 L614.3 555.5 L614.8 555.5 L615.3 555.6 L615.8 555.7 L616.3 555.8 L616.8 556.0 L617.3 556.0 L617.8 556.1 L618.3 556.2 L618.8 556.3 L619.3 556.3 L619.8 556.2 L620.3 556.2 L620.8 556.3 L621.3 556.3 L621.8 556.7 L622.3 556.7 L622.8 556.7 L623.3 556.7 L623.8 556.8 L624.3 556.8 L624.8 556.9 L625.3 556.8 L625.8 556.8 L626.3 556.8 L626.8 556.8 L627.3 556.9 L627.8 556.6 L628.3 556.6 L628.8 556.4 L629.3 556.5 L629.8 556.5 L630.3 556.4 L630.8 556.4 L631.3 556.4 L631.8 556.5 L632.3 556.3 L632.8 556.3 L633.3 556.2 L633.8 556.1 L634.3 556.2 L634.8 556.2 L635.3 556.1 L635.8 556.0 L636.3 556.1 L636.8 555.8 L637.3 555.6 L637.8 555.5 L638.3 555.6 L638.8 555.5 L639.3 555.6 L639.8 555.7 L640.3 555.7 L640.8 555.6 L641.3 555.6 L641.8 555.5 L642.3 555.3 L642.8 555.6 L643.3 555.7 L643.8 555.6 L644.3 555.6 L644.8 555.7 L645.3 555.6 L645.8 555.6 L646.3 555.5 L646.8 555.6 L647.3 555.8 L647.8 555.8 L648.3 556.0 L648.8 556.0 L649.3 556.0 L649.8 556.1 L650.3 556.2 L650.8 556.4 L651.3 556.4 L651.8 556.3" stroke="#F4B183" stroke-width="2.00"/>
<path class="tr" d="M70.3 775.4 L70.8 774.2 L71.3 772.5 L71.8 770.7 L72.3 768.6 L72.8 766.6 L73.3 764.6 L73.8 762.8 L74.3 761.1 L74.8 759.8 L75.3 758.8 L75.8 758.3 L76.3 758.4 L76.8 758.9 L77.3 760.0 L77.8 761.5 L78.3 763.2 L78.8 765.1 L79.3 767.0 L79.8 769.0 L80.3 771.0 L80.8 772.8 L81.3 774.4 L81.8 775.7 L82.3 776.7 L82.8 777.7 L83.3 778.4 L83.8 778.9 L84.3 779.3 L84.8 779.6 L85.3 779.8 L85.8 779.9 L86.3 780.0 L86.8 780.0 L87.3 779.8 L87.8 779.9 L88.3 779.7 L88.8 779.4 L89.3 778.9 L89.8 778.2 L90.3 777.3 L90.8 776.1 L91.3 774.5 L91.8 772.4 L92.3 769.9 L92.8 767.0 L93.3 764.0 L93.8 760.6 L94.3 757.3 L94.8 754.1 L95.3 751.3 L95.8 749.1 L96.3 747.7 L96.8 747.1 L97.3 747.4 L97.8 748.5 L98.3 750.7 L98.8 753.4 L99.3 756.5 L99.8 759.7 L100.3 762.9 L100.8 766.2 L101.3 769.2 L101.8 771.7 L102.3 773.8 L102.8 775.6 L103.3 776.8 L103.8 777.8 L104.3 778.3 L104.8 778.6 L105.3 778.7 L105.8 778.5 L106.3 778.1 L106.8 777.4 L107.3 776.4 L107.8 775.4 L108.3 773.9 L108.8 772.2 L109.3 770.6 L109.8 768.9 L110.3 767.2 L110.8 765.4 L111.3 764.0 L111.8 762.9 L112.3 762.1 L112.8 761.9 L113.3 761.9 L113.8 762.2 L114.3 763.1 L114.8 764.2 L115.3 765.3 L115.8 766.3 L116.3 767.2 L116.8 768.1 L117.3 768.6 L117.8 768.9 L118.3 769.1 L118.8 769.1 L119.3 769.1 L119.8 769.0 L120.3 769.1 L120.8 769.5 L121.3 770.0 L121.8 770.6 L122.3 771.5 L122.8 772.3 L123.3 773.3 L123.8 774.3 L124.3 775.4 L124.8 776.3 L125.3 777.2 L125.8 777.9 L126.3 778.4 L126.8 778.8 L127.3 779.1 L127.8 779.4 L128.3 779.5 L128.8 779.7 L129.3 779.7 L129.8 779.8 L130.3 779.8 L130.8 779.7 L131.3 779.7 L131.8 779.7 L132.3 779.7 L132.8 779.8 L133.3 779.8 L133.8 779.8 L134.3 779.8 L134.8 779.8 L135.3 779.8 L135.8 779.7 L136.3 779.9 L136.8 780.0 L137.3 780.0 L137.8 780.1 L138.3 780.1 L138.8 780.1 L139.3 780.0 L139.8 780.0 L140.3 780.1 L140.8 780.0 L141.3 780.0 L141.8 780.1 L142.3 780.0 L142.8 779.9 L143.3 779.9 L143.8 780.1 L144.3 780.1 L144.8 780.1 L145.3 780.2 L145.8 780.2 L146.3 780.1 L146.8 780.2 L147.3 780.1 L147.8 780.2 L148.3 780.2 L148.8 780.2 L149.3 780.2 L149.8 779.9 L150.3 780.1 L150.8 780.1 L151.3 780.1 L151.8 780.0 L152.3 780.2 L152.8 780.2 L153.3 780.2 L153.8 780.2 L154.3 780.1 L154.8 780.1 L155.3 780.1 L155.8 780.2 L156.3 779.9 L156.8 779.9 L157.3 779.8 L157.8 779.7 L158.3 779.7 L158.8 779.7 L159.3 779.7 L159.8 779.7 L160.3 779.7 L160.8 779.7 L161.3 779.7 L161.8 779.8 L162.3 780.0 L162.8 780.0 L163.3 780.0 L163.8 780.2 L164.3 780.3 L164.8 780.2 L165.3 780.2 L165.8 780.1 L166.3 780.2 L166.8 780.2 L167.3 780.3 L167.8 780.2 L168.3 780.0 L168.8 780.1 L169.3 779.9 L169.8 779.8 L170.3 779.8 L170.8 779.9 L171.3 779.9 L171.8 780.0 L172.3 780.0 L172.8 780.0 L173.3 779.9 L173.8 779.8 L174.3 780.0 L174.8 779.9 L175.3 779.9 L175.8 779.8 L176.3 779.8 L176.8 779.8 L177.3 779.8 L177.8 779.8 L178.3 779.7 L178.8 779.7 L179.3 779.7 L179.8 779.9 L180.3 779.9 L180.8 780.1 L181.3 780.1 L181.8 780.2 L182.3 780.2 L182.8 780.2 L183.3 780.2 L183.8 780.2 L184.3 780.1 L184.8 780.2 L185.3 780.1 L185.8 779.9 L186.3 779.8 L186.8 779.7 L187.3 779.7 L187.8 779.8 L188.3 779.9 L188.8 780.0 L189.3 780.0 L189.8 780.0 L190.3 780.1 L190.8 780.1 L191.3 780.2 L191.8 780.3 L192.3 780.3 L192.8 780.2 L193.3 780.3 L193.8 780.1 L194.3 780.0 L194.8 779.9 L195.3 780.1 L195.8 780.0 L196.3 780.0 L196.8 780.0 L197.3 780.1 L197.8 780.0 L198.3 779.9 L198.8 780.0 L199.3 780.0 L199.8 780.0 L200.3 780.2 L200.8 780.2 L201.3 780.2 L201.8 780.1 L202.3 780.2 L202.8 780.2 L203.3 780.2 L203.8 780.3 L204.3 780.3 L204.8 780.3 L205.3 780.3 L205.8 780.3 L206.3 780.3 L206.8 780.3 L207.3 780.3 L207.8 780.3 L208.3 780.3 L208.8 780.3 L209.3 780.3 L209.8 780.3 L210.3 780.3 L210.8 780.3 L211.3 780.3 L211.8 780.0 L212.3 780.0 L212.8 779.8 L213.3 779.6 L213.8 779.5 L214.3 779.5 L214.8 779.2 L215.3 778.9 L215.8 778.7 L216.3 778.6 L216.8 778.3 L217.3 778.3 L217.8 778.1 L218.3 777.8 L218.8 777.8 L219.3 777.6 L219.8 777.4 L220.3 777.2 L220.8 777.2 L221.3 777.3 L221.8 777.3 L222.3 777.4 L222.8 777.6 L223.3 777.6 L223.8 777.8 L224.3 778.1 L224.8 778.3 L225.3 778.6 L225.8 778.8 L226.3 779.0 L226.8 779.2 L227.3 779.5 L227.8 779.4 L228.3 779.4 L228.8 779.5 L229.3 779.8 L229.8 779.8 L230.3 779.8 L230.8 779.7 L231.3 779.7 L231.8 779.8 L232.3 779.8 L232.8 779.9 L233.3 779.8 L233.8 779.9 L234.3 780.0 L234.8 780.0 L235.3 779.7 L235.8 779.8 L236.3 779.9 L236.8 779.9 L237.3 779.9 L237.8 779.9 L238.3 779.9 L238.8 779.5 L239.3 779.4 L239.8 779.3 L240.3 779.1 L240.8 778.9 L241.3 778.6 L241.8 778.2 L242.3 777.8 L242.8 777.5 L243.3 777.3 L243.8 777.2 L244.3 777.0 L244.8 777.0 L245.3 777.1 L245.8 777.1 L246.3 777.2 L246.8 777.5 L247.3 777.8 L247.8 778.1 L248.3 778.4 L248.8 778.6 L249.3 778.7 L249.8 778.7 L250.3 778.8 L250.8 778.8 L251.3 778.8 L251.8 778.7 L252.3 778.5 L252.8 778.4 L253.3 778.3 L253.8 778.2 L254.3 778.2 L254.8 778.1 L255.3 778.1 L255.8 778.2 L256.3 778.2 L256.8 778.3 L257.3 778.5 L257.8 778.8 L258.3 779.0 L258.8 779.2 L259.3 779.3 L259.8 779.4 L260.3 779.5 L260.8 779.5 L261.3 779.2 L261.8 779.0 L262.3 778.6 L262.8 778.0 L263.3 777.2 L263.8 776.2 L264.3 775.2 L264.8 774.0 L265.3 772.9 L265.8 771.7 L266.3 770.6 L266.8 769.6 L267.3 769.1 L267.8 768.8 L268.3 768.8 L268.8 769.1 L269.3 769.7 L269.8 770.5 L270.3 771.5 L270.8 772.6 L271.3 773.7 L271.8 774.8 L272.3 775.7 L272.8 776.6 L273.3 777.4 L273.8 778.0 L274.3 778.3 L274.8 778.6 L275.3 778.8 L275.8 778.8 L276.3 778.9 L276.8 778.8 L277.3 778.6 L277.8 778.2 L278.3 777.7 L278.8 776.9 L279.3 776.0 L279.8 774.8 L280.3 773.5 L280.8 772.0 L281.3 770.4 L281.8 768.9 L282.3 767.3 L282.8 766.0 L283.3 764.9 L283.8 764.2 L284.3 764.1 L284.8 764.3 L285.3 764.9 L285.8 766.0 L286.3 767.2 L286.8 768.6 L287.3 770.1 L287.8 771.7 L288.3 773.2 L288.8 774.3 L289.3 775.2 L289.8 775.9 L290.3 776.3 L290.8 776.4 L291.3 776.3 L291.8 775.7 L292.3 775.0 L292.8 774.1 L293.3 772.9 L293.8 771.4 L294.3 769.9 L294.8 768.5 L295.3 766.9 L295.8 765.4 L296.3 763.9 L296.8 762.6 L297.3 761.4 L297.8 760.7 L298.3 760.3 L298.8 760.1 L299.3 760.4 L299.8 761.1 L300.3 761.9 L300.8 762.9 L301.3 764.1 L301.8 765.2 L302.3 766.2 L302.8 767.2 L303.3 768.2 L303.8 768.9 L304.3 769.5 L304.8 769.9 L305.3 770.3 L305.8 770.4 L306.3 770.7 L306.8 770.9 L307.3 771.2 L307.8 771.8 L308.3 772.5 L308.8 773.3 L309.3 774.2 L309.8 775.0 L310.3 775.9 L310.8 776.8 L311.3 777.5 L311.8 778.1 L312.3 778.6 L312.8 779.1 L313.3 779.4 L313.8 779.5 L314.3 779.4 L314.8 779.3 L315.3 778.9 L315.8 778.4 L316.3 777.7 L316.8 776.7 L317.3 775.7 L317.8 774.5 L318.3 773.1 L318.8 771.6 L319.3 770.1 L319.8 768.7 L320.3 767.4 L320.8 766.3 L321.3 765.4 L321.8 764.8 L322.3 764.7 L322.8 764.8 L323.3 765.2 L323.8 765.8 L324.3 766.5 L324.8 767.2 L325.3 768.1 L325.8 768.8 L326.3 769.3 L326.8 769.6 L327.3 769.8 L327.8 770.1 L328.3 770.3 L328.8 770.7 L329.3 771.0 L329.8 771.5 L330.3 772.0 L330.8 772.6 L331.3 772.9 L331.8 772.9 L332.3 772.6 L332.8 771.5 L333.3 769.1 L333.8 765.1 L334.3 759.3 L334.8 751.2 L335.3 741.0 L335.8 729.1 L336.3 716.2 L336.8 703.5 L337.3 692.4 L337.8 684.3 L338.3 680.1 L338.8 680.5 L339.3 685.6 L339.8 694.4 L340.3 705.9 L340.8 718.7 L341.3 731.3 L341.8 742.4 L342.3 751.4 L342.8 757.7 L343.3 761.0 L343.8 761.0 L344.3 758.1 L344.8 752.3 L345.3 743.4 L345.8 732.1 L346.3 718.6 L346.8 703.9 L347.3 688.8 L347.8 674.9 L348.3 662.8 L348.8 654.3 L349.3 650.0 L349.8 650.6 L350.3 655.8 L350.8 665.1 L351.3 677.5 L351.8 691.8 L352.3 707.0 L352.8 721.9 L353.3 735.4 L353.8 746.9 L354.3 756.5 L354.8 763.9 L355.3 769.5 L355.8 773.3 L356.3 776.0 L356.8 777.7 L357.3 778.9 L357.8 779.7 L358.3 779.9 L358.8 780.0 L359.3 780.1 L359.8 780.2 L360.3 780.2 L360.8 780.2 L361.3 780.1 L361.8 780.0 L362.3 779.9 L362.8 779.7 L363.3 779.3 L363.8 778.7 L364.3 777.8 L364.8 776.2 L365.3 773.8 L365.8 770.2 L366.3 765.4 L366.8 759.2 L367.3 751.6 L367.8 742.4 L368.3 732.5 L368.8 722.3 L369.3 712.5 L369.8 704.1 L370.3 698.1 L370.8 695.1 L371.3 695.5 L371.8 699.1 L372.3 705.7 L372.8 714.4 L373.3 724.3 L373.8 734.6 L374.3 744.1 L374.8 752.5 L375.3 759.1 L375.8 763.8 L376.3 766.2 L376.8 766.4 L377.3 764.3 L377.8 759.9 L378.3 753.2 L378.8 744.4 L379.3 733.9 L379.8 722.3 L380.3 710.4 L380.8 699.3 L381.3 690.1 L381.8 683.8 L382.3 681.1 L382.8 682.2 L383.3 687.2 L383.8 695.3 L384.3 705.6 L384.8 716.9 L385.3 728.4 L385.8 738.9 L386.3 747.7 L386.8 754.3 L387.3 758.6 L387.8 760.6 L388.3 760.5 L388.8 759.1 L389.3 756.8 L389.8 754.2 L390.3 751.8 L390.8 750.2 L391.3 749.3 L391.8 749.3 L392.3 749.4 L392.8 749.3 L393.3 748.7 L393.8 747.2 L394.3 745.1 L394.8 742.6 L395.3 739.9 L395.8 738.1 L396.3 737.6 L396.8 738.9 L397.3 741.8 L397.8 746.2 L398.3 751.6 L398.8 757.3 L399.3 762.5 L399.8 767.1 L400.3 770.6 L400.8 772.8 L401.3 773.9 L401.8 773.8 L402.3 772.4 L402.8 769.8 L403.3 766.2 L403.8 761.7 L404.3 756.7 L404.8 751.8 L405.3 747.4 L405.8 744.1 L406.3 742.5 L406.8 742.8 L407.3 744.7 L407.8 748.0 L408.3 752.1 L408.8 756.4 L409.3 760.7 L409.8 764.3 L410.3 767.1 L410.8 769.2 L411.3 770.5 L411.8 771.3 L412.3 771.4 L412.8 771.5 L413.3 771.3 L413.8 771.0 L414.3 770.7 L414.8 770.6 L415.3 770.3 L415.8 770.2 L416.3 770.3 L416.8 770.2 L417.3 770.5 L417.8 770.8 L418.3 771.1 L418.8 771.4 L419.3 771.7 L419.8 772.1 L420.3 772.7 L420.8 773.1 L421.3 773.5 L421.8 774.0 L422.3 774.2 L422.8 774.6 L423.3 774.8 L423.8 775.0 L424.3 775.2 L424.8 775.5 L425.3 775.7 L425.8 775.7 L426.3 775.7 L426.8 775.7 L427.3 775.6 L427.8 775.6 L428.3 775.7 L428.8 775.6 L429.3 775.6 L429.8 775.5 L430.3 775.7 L430.8 775.7 L431.3 775.9 L431.8 776.1 L432.3 776.3 L432.8 776.5 L433.3 776.7 L433.8 776.9 L434.3 777.2 L434.8 777.5 L435.3 777.9 L435.8 778.2 L436.3 778.4 L436.8 778.6 L437.3 778.6 L437.8 778.8 L438.3 778.9 L438.8 779.1 L439.3 779.4 L439.8 779.5 L440.3 779.6 L440.8 779.7 L441.3 779.6 L441.8 779.6 L442.3 779.8 L442.8 779.8 L443.3 779.8 L443.8 779.9 L444.3 779.9 L444.8 779.9 L445.3 779.8 L445.8 779.9 L446.3 779.9 L446.8 779.9 L447.3 780.0 L447.8 780.0 L448.3 779.9 L448.8 780.0 L449.3 780.0 L449.8 779.9 L450.3 780.0 L450.8 780.0 L451.3 780.2 L451.8 780.2 L452.3 780.2 L452.8 780.0 L453.3 780.1 L453.8 780.1 L454.3 779.9 L454.8 779.9 L455.3 779.9 L455.8 779.8 L456.3 779.7 L456.8 779.6 L457.3 779.4 L457.8 779.2 L458.3 779.1 L458.8 779.0 L459.3 778.8 L459.8 778.4 L460.3 778.3 L460.8 778.0 L461.3 777.8 L461.8 777.6 L462.3 777.3 L462.8 777.0 L463.3 776.7 L463.8 776.4 L464.3 776.3 L464.8 776.1 L465.3 776.1 L465.8 776.3 L466.3 776.3 L466.8 776.3 L467.3 776.4 L467.8 776.5 L468.3 776.8 L468.8 777.1 L469.3 777.3 L469.8 777.6 L470.3 777.8 L470.8 778.1 L471.3 778.2 L471.8 778.5 L472.3 778.6 L472.8 778.7 L473.3 779.0 L473.8 779.2 L474.3 779.3 L474.8 779.3 L475.3 779.5 L475.8 779.6 L476.3 779.7 L476.8 779.8 L477.3 779.8 L477.8 779.8 L478.3 780.0 L478.8 780.2 L479.3 780.2 L479.8 780.2 L480.3 780.2 L480.8 780.3 L481.3 780.3 L481.8 780.3 L482.3 780.2 L482.8 780.2 L483.3 780.2 L483.8 780.0 L484.3 779.8 L484.8 779.6 L485.3 779.1 L485.8 778.9 L486.3 778.6 L486.8 778.5 L487.3 778.1 L487.8 777.8 L488.3 777.5 L488.8 777.2 L489.3 777.1 L489.8 777.0 L490.3 777.0 L490.8 777.3 L491.3 777.4 L491.8 777.4 L492.3 777.6 L492.8 777.4 L493.3 777.4 L493.8 777.0 L494.3 776.5 L494.8 775.6 L495.3 774.5 L495.8 773.2 L496.3 771.8 L496.8 770.2 L497.3 768.9 L497.8 767.9 L498.3 766.9 L498.8 766.7 L499.3 766.9 L499.8 767.7 L500.3 768.8 L500.8 770.0 L501.3 771.1 L501.8 772.1 L502.3 772.7 L502.8 772.9 L503.3 772.3 L503.8 771.2 L504.3 769.5 L504.8 767.1 L505.3 764.2 L505.8 760.9 L506.3 757.6 L506.8 754.4 L507.3 751.6 L507.8 749.5 L508.3 748.2 L508.8 747.8 L509.3 748.5 L509.8 750.0 L510.3 752.1 L510.8 754.8 L511.3 757.7 L511.8 760.5 L512.3 763.0 L512.8 765.3 L513.3 767.0 L513.8 768.3 L514.3 768.9 L514.8 769.3 L515.3 769.3 L515.8 769.2 L516.3 769.0 L516.8 768.7 L517.3 768.7 L517.8 768.7 L518.3 768.7 L518.8 768.4 L519.3 768.0 L519.8 767.0 L520.3 765.8 L520.8 763.9 L521.3 761.4 L521.8 758.4 L522.3 754.8 L522.8 751.1 L523.3 747.0 L523.8 743.2 L524.3 739.9 L524.8 737.5 L525.3 736.0 L525.8 735.5 L526.3 736.0 L526.8 737.5 L527.3 739.9 L527.8 742.6 L528.3 745.7 L528.8 748.9 L529.3 751.8 L529.8 754.4 L530.3 756.4 L530.8 757.8 L531.3 758.9 L531.8 759.5 L532.3 759.5 L532.8 758.7 L533.3 757.3 L533.8 755.1 L534.3 752.1 L534.8 748.1 L535.3 743.7 L535.8 739.3 L536.3 735.3 L536.8 732.1 L537.3 730.2 L537.8 730.1 L538.3 731.8 L538.8 735.4 L539.3 739.8 L539.8 745.2 L540.3 751.0 L540.8 756.5 L541.3 761.3 L541.8 765.2 L542.3 767.9 L542.8 769.4 L543.3 769.7 L543.8 769.2 L544.3 768.1 L544.8 766.2 L545.3 764.5 L545.8 762.9 L546.3 761.7 L546.8 761.0 L547.3 761.2 L547.8 762.1 L548.3 763.6 L548.8 765.6 L549.3 767.8 L549.8 770.2 L550.3 772.2 L550.8 774.3 L551.3 775.8 L551.8 777.1 L552.3 778.0 L552.8 778.4 L553.3 778.6 L553.8 778.6 L554.3 778.3 L554.8 777.9 L555.3 777.4 L555.8 776.7 L556.3 776.0 L556.8 775.1 L557.3 774.4 L557.8 773.5 L558.3 772.9 L558.8 772.4 L559.3 772.1 L559.8 772.0 L560.3 772.2 L560.8 772.6 L561.3 773.0 L561.8 773.7 L562.3 774.6 L562.8 775.4 L563.3 776.2 L563.8 777.0 L564.3 777.7 L564.8 778.3 L565.3 778.9 L565.8 779.1 L566.3 779.5 L566.8 779.7 L567.3 779.9 L567.8 779.9 L568.3 779.7 L568.8 779.7 L569.3 779.6 L569.8 779.4 L570.3 779.2 L570.8 779.0 L571.3 778.8 L571.8 778.6 L572.3 778.1 L572.8 777.8 L573.3 777.5 L573.8 777.2 L574.3 777.3 L574.8 777.0 L575.3 777.0 L575.8 777.2 L576.3 777.2 L576.8 777.4 L577.3 777.3 L577.8 777.5 L578.3 777.7 L578.8 777.7 L579.3 777.6 L579.8 777.5 L580.3 777.1 L580.8 777.0 L581.3 776.8 L581.8 776.3 L582.3 776.0 L582.8 775.6 L583.3 775.4 L583.8 775.2 L584.3 775.1 L584.8 775.0 L585.3 775.0 L585.8 775.2 L586.3 775.4 L586.8 775.3 L587.3 775.1 L587.8 775.3 L588.3 775.5 L588.8 775.7 L589.3 775.8 L589.8 775.8 L590.3 775.9 L590.8 776.2 L591.3 776.3 L591.8 776.5 L592.3 776.7 L592.8 777.1 L593.3 777.5 L593.8 777.7 L594.3 777.8 L594.8 777.8 L595.3 777.7 L595.8 777.3 L596.3 776.6 L596.8 775.5 L597.3 774.3 L597.8 772.7 L598.3 771.1 L598.8 769.5 L599.3 768.2 L599.8 767.3 L600.3 766.6 L600.8 766.4 L601.3 766.6 L601.8 767.4 L602.3 768.4 L602.8 769.3 L603.3 770.0 L603.8 770.1 L604.3 769.2 L604.8 767.2 L605.3 763.8 L605.8 759.2 L606.3 753.7 L606.8 747.6 L607.3 741.6 L607.8 736.0 L608.3 731.9 L608.8 729.9 L609.3 730.1 L609.8 732.6 L610.3 736.9 L610.8 742.4 L611.3 748.6 L611.8 754.3 L612.3 759.0 L612.8 761.9 L613.3 762.9 L613.8 762.0 L614.3 758.8 L614.8 753.4 L615.3 746.6 L615.8 738.7 L616.3 730.9 L616.8 723.9 L617.3 718.5 L617.8 715.8 L618.3 716.1 L618.8 719.4 L619.3 725.0 L619.8 732.2 L620.3 740.4 L620.8 748.5 L621.3 756.1 L621.8 762.5 L622.3 767.6 L622.8 771.4 L623.3 774.1 L623.8 776.0 L624.3 777.1 L624.8 777.7 L625.3 778.0 L625.8 778.3 L626.3 778.3 L626.8 778.2 L627.3 778.1 L627.8 778.0 L628.3 778.0 L628.8 777.9 L629.3 777.9 L629.8 777.8 L630.3 777.8 L630.8 777.8 L631.3 777.8 L631.8 777.7 L632.3 777.8 L632.8 777.9 L633.3 777.9 L633.8 778.0 L634.3 777.9 L634.8 778.1 L635.3 778.3 L635.8 778.4 L636.3 778.4 L636.8 778.5 L637.3 778.5 L637.8 778.5 L638.3 778.6 L638.8 778.6 L639.3 778.4 L639.8 778.2 L640.3 778.0 L640.8 777.6 L641.3 777.0 L641.8 776.5 L642.3 775.9 L642.8 775.4 L643.3 775.1 L643.8 774.8 L644.3 774.7 L644.8 774.7 L645.3 775.1 L645.8 775.5 L646.3 775.9 L646.8 776.6 L647.3 777.3 L647.8 778.0 L648.3 778.7 L648.8 779.3 L649.3 779.5 L649.8 779.8 L650.3 780.1 L650.8 780.3 L651.3 780.3 L651.8 780.3" stroke="#FFC000" stroke-width="2.00"/>
<path class="tr" d="M70.3 978.3 L70.8 977.8 L71.3 978.1 L71.8 978.5 L72.3 978.3 L72.8 978.0 L73.3 977.7 L73.8 977.6 L74.3 977.9 L74.8 977.7 L75.3 977.0 L75.8 977.2 L76.3 977.4 L76.8 977.8 L77.3 977.8 L77.8 977.6 L78.3 977.3 L78.8 977.4 L79.3 976.8 L79.8 975.9 L80.3 974.8 L80.8 974.0 L81.3 973.4 L81.8 972.2 L82.3 971.4 L82.8 970.3 L83.3 969.6 L83.8 968.8 L84.3 968.0 L84.8 966.8 L85.3 965.7 L85.8 964.9 L86.3 964.4 L86.8 964.2 L87.3 964.3 L87.8 964.1 L88.3 964.3 L88.8 965.1 L89.3 965.4 L89.8 966.0 L90.3 966.0 L90.8 966.4 L91.3 966.5 L91.8 966.9 L92.3 967.2 L92.8 967.5 L93.3 967.3 L93.8 967.6 L94.3 967.3 L94.8 967.6 L95.3 967.1 L95.8 967.0 L96.3 966.9 L96.8 967.3 L97.3 967.3 L97.8 967.9 L98.3 968.3 L98.8 969.5 L99.3 970.6 L99.8 971.6 L100.3 972.6 L100.8 973.8 L101.3 974.8 L101.8 976.1 L102.3 976.8 L102.8 977.5 L103.3 977.9 L103.8 977.9 L104.3 977.9 L104.8 977.9 L105.3 977.7 L105.8 977.3 L106.3 977.2 L106.8 977.2 L107.3 977.1 L107.8 977.2 L108.3 977.5 L108.8 977.2 L109.3 977.2 L109.8 977.0 L110.3 976.8 L110.8 977.3 L111.3 976.7 L111.8 976.1 L112.3 976.4 L112.8 976.2 L113.3 976.3 L113.8 976.5 L114.3 976.3 L114.8 976.6 L115.3 976.7 L115.8 976.6 L116.3 976.7 L116.8 976.5 L117.3 976.5 L117.8 976.4 L118.3 976.3 L118.8 976.7 L119.3 977.2 L119.8 977.5 L120.3 977.8 L120.8 977.7 L121.3 977.7 L121.8 978.2 L122.3 978.2 L122.8 977.8 L123.3 977.8 L123.8 978.4 L124.3 978.4 L124.8 978.3 L125.3 978.0 L125.8 978.2 L126.3 978.5 L126.8 978.4 L127.3 977.5 L127.8 977.6 L128.3 978.0 L128.8 978.0 L129.3 977.8 L129.8 977.4 L130.3 977.6 L130.8 978.2 L131.3 978.1 L131.8 977.9 L132.3 978.1 L132.8 978.0 L133.3 978.7 L133.8 978.7 L134.3 978.8 L134.8 979.0 L135.3 979.2 L135.8 979.3 L136.3 979.3 L136.8 978.9 L137.3 978.8 L137.8 978.7 L138.3 978.5 L138.8 978.5 L139.3 978.5 L139.8 978.7 L140.3 979.0 L140.8 978.6 L141.3 978.4 L141.8 978.5 L142.3 978.7 L142.8 978.9 L143.3 978.8 L143.8 978.5 L144.3 978.4 L144.8 978.6 L145.3 978.7 L145.8 979.1 L146.3 978.6 L146.8 978.6 L147.3 979.0 L147.8 979.4 L148.3 979.7 L148.8 978.9 L149.3 978.2 L149.8 978.4 L150.3 978.5 L150.8 978.6 L151.3 978.6 L151.8 978.6 L152.3 979.2 L152.8 979.8 L153.3 980.1 L153.8 979.8 L154.3 979.1 L154.8 979.3 L155.3 979.3 L155.8 979.2 L156.3 978.7 L156.8 978.7 L157.3 979.1 L157.8 979.5 L158.3 979.5 L158.8 979.2 L159.3 979.1 L159.8 978.9 L160.3 978.1 L160.8 977.6 L161.3 976.9 L161.8 976.0 L162.3 974.8 L162.8 973.9 L163.3 972.6 L163.8 971.0 L164.3 968.7 L164.8 966.5 L165.3 964.2 L165.8 962.8 L166.3 961.8 L166.8 961.3 L167.3 961.9 L167.8 963.5 L168.3 965.6 L168.8 968.0 L169.3 970.1 L169.8 971.9 L170.3 973.9 L170.8 975.1 L171.3 976.2 L171.8 976.8 L172.3 977.0 L172.8 977.7 L173.3 978.4 L173.8 978.4 L174.3 978.9 L174.8 978.8 L175.3 978.9 L175.8 978.9 L176.3 978.7 L176.8 978.7 L177.3 978.7 L177.8 978.7 L178.3 979.1 L178.8 979.2 L179.3 979.3 L179.8 979.3 L180.3 978.7 L180.8 979.1 L181.3 979.1 L181.8 979.4 L182.3 979.3 L182.8 979.3 L183.3 979.6 L183.8 979.8 L184.3 979.4 L184.8 979.1 L185.3 978.8 L185.8 978.9 L186.3 979.1 L186.8 978.6 L187.3 978.4 L187.8 978.4 L188.3 978.5 L188.8 978.2 L189.3 978.0 L189.8 977.8 L190.3 978.2 L190.8 978.6 L191.3 978.6 L191.8 978.3 L192.3 978.1 L192.8 978.1 L193.3 978.1 L193.8 978.0 L194.3 977.7 L194.8 977.7 L195.3 977.9 L195.8 978.0 L196.3 978.2 L196.8 978.3 L197.3 978.5 L197.8 978.8 L198.3 978.5 L198.8 979.0 L199.3 979.0 L199.8 978.9 L200.3 978.6 L200.8 977.9 L201.3 976.7 L201.8 975.8 L202.3 974.0 L202.8 972.2 L203.3 969.9 L203.8 967.0 L204.3 964.0 L204.8 961.0 L205.3 957.5 L205.8 953.7 L206.3 949.9 L206.8 946.0 L207.3 942.7 L207.8 939.8 L208.3 937.1 L208.8 935.5 L209.3 934.7 L209.8 934.8 L210.3 936.7 L210.8 939.3 L211.3 942.3 L211.8 945.8 L212.3 949.1 L212.8 953.2 L213.3 956.8 L213.8 960.0 L214.3 962.8 L214.8 965.3 L215.3 967.7 L215.8 970.1 L216.3 971.4 L216.8 972.8 L217.3 973.3 L217.8 973.2 L218.3 972.6 L218.8 972.3 L219.3 971.7 L219.8 970.6 L220.3 969.1 L220.8 967.0 L221.3 964.9 L221.8 962.7 L222.3 959.2 L222.8 955.2 L223.3 951.9 L223.8 948.3 L224.3 945.7 L224.8 943.4 L225.3 941.7 L225.8 941.4 L226.3 942.0 L226.8 943.3 L227.3 945.7 L227.8 948.5 L228.3 951.8 L228.8 955.3 L229.3 959.0 L229.8 962.3 L230.3 964.7 L230.8 967.1 L231.3 968.9 L231.8 970.3 L232.3 971.2 L232.8 971.5 L233.3 971.7 L233.8 971.8 L234.3 971.6 L234.8 971.5 L235.3 971.5 L235.8 971.8 L236.3 971.6 L236.8 971.8 L237.3 972.1 L237.8 971.9 L238.3 971.9 L238.8 971.9 L239.3 971.2 L239.8 970.4 L240.3 969.1 L240.8 968.0 L241.3 966.8 L241.8 965.4 L242.3 963.4 L242.8 961.5 L243.3 959.9 L243.8 958.4 L244.3 956.7 L244.8 955.6 L245.3 955.4 L245.8 955.2 L246.3 956.1 L246.8 957.4 L247.3 959.1 L247.8 961.3 L248.3 963.5 L248.8 965.3 L249.3 966.9 L249.8 968.4 L250.3 969.5 L250.8 970.2 L251.3 970.6 L251.8 970.5 L252.3 970.2 L252.8 970.6 L253.3 970.1 L253.8 969.4 L254.3 968.7 L254.8 967.7 L255.3 966.9 L255.8 966.3 L256.3 965.3 L256.8 964.8 L257.3 964.6 L257.8 964.6 L258.3 965.3 L258.8 966.0 L259.3 966.9 L259.8 967.5 L260.3 968.1 L260.8 968.8 L261.3 969.5 L261.8 969.9 L262.3 970.2 L262.8 970.0 L263.3 970.1 L263.8 969.6 L264.3 968.5 L264.8 966.4 L265.3 963.8 L265.8 960.3 L266.3 956.1 L266.8 951.1 L267.3 946.5 L267.8 942.2 L268.3 938.6 L268.8 936.2 L269.3 935.0 L269.8 935.6 L270.3 937.8 L270.8 941.2 L271.3 945.0 L271.8 949.8 L272.3 954.4 L272.8 958.4 L273.3 961.8 L273.8 963.9 L274.3 965.4 L274.8 966.4 L275.3 966.2 L275.8 964.7 L276.3 963.1 L276.8 960.3 L277.3 957.4 L277.8 953.8 L278.3 949.7 L278.8 946.0 L279.3 943.4 L279.8 941.1 L280.3 940.1 L280.8 940.6 L281.3 942.3 L281.8 945.5 L282.3 948.9 L282.8 952.6 L283.3 957.2 L283.8 961.2 L284.3 964.9 L284.8 967.5 L285.3 969.4 L285.8 971.1 L286.3 972.2 L286.8 972.6 L287.3 973.4 L287.8 973.5 L288.3 973.7 L288.8 973.8 L289.3 973.8 L289.8 973.6 L290.3 973.1 L290.8 973.0 L291.3 972.2 L291.8 971.1 L292.3 969.2 L292.8 967.0 L293.3 964.9 L293.8 961.9 L294.3 957.7 L294.8 953.4 L295.3 949.2 L295.8 945.6 L296.3 942.3 L296.8 939.5 L297.3 938.4 L297.8 938.8 L298.3 940.4 L298.8 942.7 L299.3 946.4 L299.8 950.7 L300.3 954.9 L300.8 958.8 L301.3 962.2 L301.8 965.4 L302.3 967.8 L302.8 969.9 L303.3 971.1 L303.8 972.4 L304.3 973.1 L304.8 973.4 L305.3 973.4 L305.8 973.3 L306.3 971.9 L306.8 970.4 L307.3 968.1 L307.8 965.0 L308.3 961.6 L308.8 958.0 L309.3 953.8 L309.8 950.4 L310.3 946.6 L310.8 944.3 L311.3 943.6 L311.8 944.0 L312.3 945.2 L312.8 948.2 L313.3 951.5 L313.8 955.9 L314.3 959.7 L314.8 962.9 L315.3 965.4 L315.8 967.7 L316.3 969.2 L316.8 970.3 L317.3 970.4 L317.8 969.5 L318.3 969.1 L318.8 968.3 L319.3 967.2 L319.8 965.9 L320.3 964.6 L320.8 963.6 L321.3 962.9 L321.8 962.4 L322.3 962.3 L322.8 962.8 L323.3 963.2 L323.8 963.9 L324.3 965.0 L324.8 966.3 L325.3 967.0 L325.8 967.0 L326.3 966.7 L326.8 966.4 L327.3 966.0 L327.8 965.0 L328.3 963.9 L328.8 962.4 L329.3 961.3 L329.8 959.5 L330.3 956.5 L330.8 952.7 L331.3 947.7 L331.8 941.7 L332.3 935.2 L332.8 927.5 L333.3 920.3 L333.8 914.0 L334.3 908.3 L334.8 905.3 L335.3 904.6 L335.8 906.5 L336.3 910.8 L336.8 916.8 L337.3 924.4 L337.8 933.2 L338.3 941.3 L338.8 949.0 L339.3 955.9 L339.8 961.3 L340.3 965.7 L340.8 968.5 L341.3 970.7 L341.8 972.5 L342.3 973.4 L342.8 973.4 L343.3 973.7 L343.8 973.8 L344.3 974.0 L344.8 973.8 L345.3 973.5 L345.8 973.2 L346.3 973.8 L346.8 973.5 L347.3 973.5 L347.8 973.5 L348.3 973.0 L348.8 973.0 L349.3 972.7 L349.8 971.9 L350.3 971.9 L350.8 971.2 L351.3 970.2 L351.8 969.7 L352.3 968.9 L352.8 967.9 L353.3 966.6 L353.8 964.9 L354.3 963.0 L354.8 961.5 L355.3 960.0 L355.8 958.4 L356.3 957.7 L356.8 957.3 L357.3 957.1 L357.8 957.8 L358.3 958.7 L358.8 959.8 L359.3 961.3 L359.8 962.4 L360.3 963.7 L360.8 964.7 L361.3 965.7 L361.8 966.2 L362.3 966.1 L362.8 965.7 L363.3 964.6 L363.8 963.5 L364.3 962.3 L364.8 961.0 L365.3 959.3 L365.8 957.9 L366.3 956.6 L366.8 956.7 L367.3 956.3 L367.8 955.9 L368.3 955.9 L368.8 956.4 L369.3 956.9 L369.8 957.1 L370.3 956.6 L370.8 956.2 L371.3 955.7 L371.8 954.4 L372.3 953.2 L372.8 952.6 L373.3 952.1 L373.8 952.0 L374.3 952.2 L374.8 952.7 L375.3 954.2 L375.8 955.8 L376.3 957.1 L376.8 958.5 L377.3 959.4 L377.8 960.2 L378.3 961.3 L378.8 961.6 L379.3 961.7 L379.8 961.2 L380.3 960.7 L380.8 960.2 L381.3 959.9 L381.8 959.7 L382.3 959.4 L382.8 959.4 L383.3 959.8 L383.8 960.6 L384.3 961.5 L384.8 962.3 L385.3 962.7 L385.8 963.2 L386.3 963.4 L386.8 963.5 L387.3 963.2 L387.8 963.1 L388.3 962.2 L388.8 961.0 L389.3 960.1 L389.8 959.8 L390.3 959.3 L390.8 958.7 L391.3 958.0 L391.8 958.2 L392.3 959.2 L392.8 960.3 L393.3 961.4 L393.8 962.8 L394.3 964.5 L394.8 966.4 L395.3 967.8 L395.8 969.0 L396.3 969.7 L396.8 969.7 L397.3 969.6 L397.8 969.2 L398.3 968.5 L398.8 967.8 L399.3 966.5 L399.8 965.0 L400.3 964.0 L400.8 962.5 L401.3 961.4 L401.8 960.4 L402.3 959.8 L402.8 960.1 L403.3 960.3 L403.8 961.2 L404.3 962.4 L404.8 963.7 L405.3 965.0 L405.8 966.2 L406.3 967.0 L406.8 967.9 L407.3 967.9 L407.8 968.5 L408.3 968.7 L408.8 968.6 L409.3 968.6 L409.8 968.2 L410.3 968.2 L410.8 967.9 L411.3 966.8 L411.8 965.5 L412.3 964.0 L412.8 961.9 L413.3 958.7 L413.8 954.2 L414.3 947.9 L414.8 939.5 L415.3 929.3 L415.8 917.6 L416.3 904.5 L416.8 892.4 L417.3 881.9 L417.8 874.8 L418.3 871.7 L418.8 873.4 L419.3 879.3 L419.8 889.3 L420.3 901.8 L420.8 914.9 L421.3 927.8 L421.8 939.8 L422.3 949.6 L422.8 957.7 L423.3 963.0 L423.8 966.3 L424.3 968.1 L424.8 968.6 L425.3 968.2 L425.8 966.6 L426.3 963.2 L426.8 958.6 L427.3 952.9 L427.8 945.2 L428.3 935.5 L428.8 923.4 L429.3 909.4 L429.8 894.8 L430.3 880.3 L430.8 865.5 L431.3 852.7 L431.8 842.8 L432.3 836.4 L432.8 834.6 L433.3 836.6 L433.8 843.1 L434.3 852.9 L434.8 866.0 L435.3 880.0 L435.8 895.6 L436.3 910.0 L436.8 923.8 L437.3 935.8 L437.8 946.1 L438.3 953.7 L438.8 960.2 L439.3 964.3 L439.8 967.3 L440.3 968.7 L440.8 969.2 L441.3 968.4 L441.8 966.5 L442.3 963.4 L442.8 959.5 L443.3 955.5 L443.8 950.6 L444.3 945.7 L444.8 942.1 L445.3 939.7 L445.8 938.9 L446.3 939.9 L446.8 942.2 L447.3 946.0 L447.8 950.4 L448.3 955.4 L448.8 960.2 L449.3 964.2 L449.8 967.5 L450.3 969.9 L450.8 971.9 L451.3 973.2 L451.8 973.5 L452.3 973.9 L452.8 974.4 L453.3 974.5 L453.8 974.4 L454.3 974.2 L454.8 973.6 L455.3 973.4 L455.8 972.1 L456.3 970.5 L456.8 968.8 L457.3 966.4 L457.8 963.1 L458.3 959.7 L458.8 955.9 L459.3 952.7 L459.8 949.5 L460.3 946.7 L460.8 944.8 L461.3 944.2 L461.8 944.9 L462.3 946.7 L462.8 949.3 L463.3 953.0 L463.8 956.8 L464.3 960.8 L464.8 964.3 L465.3 967.7 L465.8 970.5 L466.3 972.2 L466.8 973.4 L467.3 974.6 L467.8 975.0 L468.3 975.9 L468.8 976.2 L469.3 976.0 L469.8 976.0 L470.3 975.8 L470.8 975.1 L471.3 974.8 L471.8 974.5 L472.3 974.3 L472.8 974.4 L473.3 974.2 L473.8 973.7 L474.3 973.5 L474.8 973.3 L475.3 972.9 L475.8 972.7 L476.3 972.4 L476.8 973.0 L477.3 973.6 L477.8 974.1 L478.3 974.9 L478.8 975.7 L479.3 976.3 L479.8 976.8 L480.3 976.6 L480.8 977.0 L481.3 977.1 L481.8 977.3 L482.3 977.3 L482.8 977.3 L483.3 977.3 L483.8 977.7 L484.3 977.6 L484.8 977.8 L485.3 977.9 L485.8 978.0 L486.3 977.6 L486.8 977.4 L487.3 977.4 L487.8 977.3 L488.3 977.1 L488.8 976.8 L489.3 977.0 L489.8 977.1 L490.3 977.6 L490.8 977.3 L491.3 977.3 L491.8 977.4 L492.3 977.9 L492.8 977.5 L493.3 977.4 L493.8 977.5 L494.3 977.5 L494.8 977.7 L495.3 977.8 L495.8 977.5 L496.3 977.8 L496.8 978.0 L497.3 977.2 L497.8 977.3 L498.3 977.3 L498.8 977.4 L499.3 977.4 L499.8 977.3 L500.3 977.4 L500.8 977.8 L501.3 977.9 L501.8 977.8 L502.3 977.9 L502.8 977.6 L503.3 977.5 L503.8 977.2 L504.3 977.4 L504.8 977.5 L505.3 977.4 L505.8 977.3 L506.3 977.5 L506.8 977.6 L507.3 977.7 L507.8 977.8 L508.3 977.6 L508.8 977.7 L509.3 977.8 L509.8 978.0 L510.3 977.8 L510.8 977.6 L511.3 977.4 L511.8 977.7 L512.3 977.7 L512.8 977.5 L513.3 977.1 L513.8 977.1 L514.3 977.4 L514.8 977.5 L515.3 977.1 L515.8 977.3 L516.3 977.6 L516.8 977.7 L517.3 977.8 L517.8 978.0 L518.3 978.2 L518.8 978.3 L519.3 978.2 L519.8 977.9 L520.3 978.1 L520.8 978.0 L521.3 977.3 L521.8 977.2 L522.3 977.5 L522.8 977.7 L523.3 977.5 L523.8 977.3 L524.3 977.6 L524.8 977.7 L525.3 977.5 L525.8 977.3 L526.3 977.4 L526.8 977.6 L527.3 977.5 L527.8 977.6 L528.3 977.6 L528.8 977.5 L529.3 977.4 L529.8 977.2 L530.3 977.3 L530.8 977.3 L531.3 976.9 L531.8 976.8 L532.3 976.9 L532.8 977.1 L533.3 977.0 L533.8 977.2 L534.3 977.3 L534.8 977.0 L535.3 977.4 L535.8 977.7 L536.3 977.5 L536.8 977.4 L537.3 977.3 L537.8 977.6 L538.3 978.2 L538.8 977.8 L539.3 977.8 L539.8 977.8 L540.3 977.5 L540.8 976.9 L541.3 976.5 L541.8 975.9 L542.3 976.6 L542.8 976.5 L543.3 976.8 L543.8 977.2 L544.3 977.1 L544.8 977.7 L545.3 977.9 L545.8 977.9 L546.3 977.6 L546.8 977.2 L547.3 977.2 L547.8 977.3 L548.3 977.0 L548.8 976.9 L549.3 976.6 L549.8 976.9 L550.3 977.2 L550.8 977.2 L551.3 977.5 L551.8 977.4 L552.3 977.2 L552.8 977.3 L553.3 977.3 L553.8 977.4 L554.3 977.5 L554.8 977.9 L555.3 978.1 L555.8 978.4 L556.3 978.4 L556.8 978.3 L557.3 978.1 L557.8 977.7 L558.3 977.3 L558.8 977.0 L559.3 977.3 L559.8 977.3 L560.3 977.4 L560.8 977.4 L561.3 977.7 L561.8 977.8 L562.3 978.0 L562.8 977.8 L563.3 977.8 L563.8 977.6 L564.3 977.3 L564.8 977.2 L565.3 977.2 L565.8 977.2 L566.3 977.3 L566.8 977.5 L567.3 977.4 L567.8 978.1 L568.3 978.7 L568.8 978.5 L569.3 978.4 L569.8 978.6 L570.3 978.6 L570.8 978.6 L571.3 978.7 L571.8 978.3 L572.3 978.6 L572.8 978.9 L573.3 979.0 L573.8 978.7 L574.3 978.8 L574.8 978.4 L575.3 978.3 L575.8 978.5 L576.3 978.5 L576.8 978.3 L577.3 978.5 L577.8 978.6 L578.3 978.8 L578.8 978.7 L579.3 978.2 L579.8 978.0 L580.3 978.0 L580.8 978.0 L581.3 977.5 L581.8 977.4 L582.3 977.5 L582.8 977.7 L583.3 977.9 L583.8 977.5 L584.3 977.5 L584.8 977.7 L585.3 977.4 L585.8 977.5 L586.3 977.7 L586.8 977.9 L587.3 978.4 L587.8 978.3 L588.3 978.3 L588.8 978.4 L589.3 978.5 L589.8 978.5 L590.3 977.9 L590.8 977.4 L591.3 977.4 L591.8 977.3 L592.3 977.6 L592.8 977.2 L593.3 977.1 L593.8 977.2 L594.3 977.4 L594.8 977.5 L595.3 977.4 L595.8 977.6 L596.3 977.8 L596.8 977.7 L597.3 977.9 L597.8 977.9 L598.3 977.5 L598.8 977.7 L599.3 977.6 L599.8 977.3 L600.3 976.9 L600.8 977.1 L601.3 977.2 L601.8 977.5 L602.3 977.7 L602.8 977.2 L603.3 977.4 L603.8 977.9 L604.3 977.6 L604.8 977.6 L605.3 977.8 L605.8 977.6 L606.3 977.6 L606.8 978.1 L607.3 978.0 L607.8 977.8 L608.3 977.5 L608.8 977.0 L609.3 977.0 L609.8 977.4 L610.3 977.0 L610.8 977.2 L611.3 977.2 L611.8 977.6 L612.3 977.9 L612.8 978.1 L613.3 978.3 L613.8 978.7 L614.3 978.6 L614.8 978.9 L615.3 978.6 L615.8 978.4 L616.3 978.3 L616.8 978.3 L617.3 977.7 L617.8 977.5 L618.3 977.7 L618.8 977.9 L619.3 978.2 L619.8 977.9 L620.3 977.5 L620.8 977.7 L621.3 977.7 L621.8 977.3 L622.3 976.7 L622.8 976.6 L623.3 976.8 L623.8 976.7 L624.3 976.0 L624.8 975.7 L625.3 976.1 L625.8 976.3 L626.3 976.3 L626.8 976.3 L627.3 976.7 L627.8 977.3 L628.3 977.7 L628.8 977.2 L629.3 977.2 L629.8 977.2 L630.3 977.2 L630.8 977.3 L631.3 977.3 L631.8 977.1 L632.3 977.4 L632.8 977.2 L633.3 977.2 L633.8 977.3 L634.3 977.5 L634.8 977.4 L635.3 977.9 L635.8 977.8 L636.3 978.3 L636.8 978.4 L637.3 978.6 L637.8 978.4 L638.3 978.7 L638.8 978.1 L639.3 978.4 L639.8 978.5 L640.3 978.8 L640.8 978.6 L641.3 978.6 L641.8 978.6 L642.3 978.7 L642.8 978.8 L643.3 978.6 L643.8 978.3 L644.3 978.4 L644.8 978.4 L645.3 978.5 L645.8 978.5 L646.3 978.4 L646.8 978.7 L647.3 978.6 L647.8 978.3 L648.3 978.2 L648.8 977.6 L649.3 977.8 L649.8 977.8 L650.3 977.8 L650.8 978.0 L651.3 978.5 L651.8 978.7" stroke="#86B6E3" stroke-width="2.00"/>
<path class="tr" d="M70.3 1159.6 L70.8 1163.7 L71.3 1168.7 L71.8 1171.1 L72.3 1172.1 L72.8 1172.2 L73.3 1172.3 L73.8 1172.4 L74.3 1172.8 L74.8 1173.1 L75.3 1172.8 L75.8 1172.6 L76.3 1172.0 L76.8 1171.5 L77.3 1172.4 L77.8 1172.3 L78.3 1171.7 L78.8 1171.5 L79.3 1170.8 L79.8 1170.9 L80.3 1172.2 L80.8 1172.1 L81.3 1172.0 L81.8 1171.5 L82.3 1171.1 L82.8 1171.8 L83.3 1170.7 L83.8 1171.4 L84.3 1172.3 L84.8 1172.4 L85.3 1173.1 L85.8 1173.6 L86.3 1173.7 L86.8 1174.1 L87.3 1174.8 L87.8 1174.8 L88.3 1176.0 L88.8 1175.7 L89.3 1174.9 L89.8 1175.9 L90.3 1175.5 L90.8 1173.6 L91.3 1172.1 L91.8 1171.8 L92.3 1171.2 L92.8 1169.8 L93.3 1168.3 L93.8 1167.5 L94.3 1166.6 L94.8 1166.1 L95.3 1166.2 L95.8 1165.0 L96.3 1164.1 L96.8 1164.3 L97.3 1164.6 L97.8 1165.2 L98.3 1166.0 L98.8 1166.6 L99.3 1167.9 L99.8 1169.3 L100.3 1170.9 L100.8 1172.5 L101.3 1174.3 L101.8 1174.5 L102.3 1173.7 L102.8 1173.7 L103.3 1174.5 L103.8 1174.9 L104.3 1174.4 L104.8 1174.9 L105.3 1174.3 L105.8 1173.0 L106.3 1173.9 L106.8 1174.3 L107.3 1173.0 L107.8 1173.7 L108.3 1174.0 L108.8 1172.8 L109.3 1172.2 L109.8 1172.9 L110.3 1173.4 L110.8 1171.9 L111.3 1169.9 L111.8 1169.7 L112.3 1169.7 L112.8 1168.9 L113.3 1167.7 L113.8 1167.4 L114.3 1167.6 L114.8 1167.2 L115.3 1167.0 L115.8 1167.3 L116.3 1167.8 L116.8 1167.6 L117.3 1167.8 L117.8 1169.0 L118.3 1169.6 L118.8 1168.9 L119.3 1168.8 L119.8 1169.5 L120.3 1169.6 L120.8 1168.1 L121.3 1168.4 L121.8 1169.8 L122.3 1169.8 L122.8 1170.3 L123.3 1170.1 L123.8 1169.8 L124.3 1170.3 L124.8 1171.4 L125.3 1171.2 L125.8 1170.4 L126.3 1171.0 L126.8 1172.6 L127.3 1172.6 L127.8 1172.0 L128.3 1172.0 L128.8 1171.8 L129.3 1172.0 L129.8 1171.4 L130.3 1171.0 L130.8 1170.9 L131.3 1171.3 L131.8 1171.9 L132.3 1170.8 L132.8 1170.5 L133.3 1171.2 L133.8 1171.5 L134.3 1170.8 L134.8 1169.5 L135.3 1168.1 L135.8 1167.4 L136.3 1167.2 L136.8 1167.2 L137.3 1168.0 L137.8 1168.4 L138.3 1169.0 L138.8 1170.5 L139.3 1171.7 L139.8 1172.5 L140.3 1173.4 L140.8 1174.6 L141.3 1174.6 L141.8 1174.5 L142.3 1174.4 L142.8 1174.5 L143.3 1174.8 L143.8 1174.5 L144.3 1174.7 L144.8 1174.7 L145.3 1174.8 L145.8 1175.0 L146.3 1174.3 L146.8 1174.0 L147.3 1174.4 L147.8 1175.0 L148.3 1174.8 L148.8 1173.8 L149.3 1175.2 L149.8 1175.7 L150.3 1174.8 L150.8 1175.0 L151.3 1174.7 L151.8 1175.8 L152.3 1175.7 L152.8 1175.6 L153.3 1176.6 L153.8 1176.2 L154.3 1176.1 L154.8 1176.3 L155.3 1176.4 L155.8 1176.7 L156.3 1176.0 L156.8 1175.5 L157.3 1174.3 L157.8 1173.1 L158.3 1172.4 L158.8 1172.6 L159.3 1173.7 L159.8 1174.0 L160.3 1173.3 L160.8 1173.1 L161.3 1173.1 L161.8 1173.6 L162.3 1174.8 L162.8 1174.5 L163.3 1174.5 L163.8 1174.7 L164.3 1174.4 L164.8 1174.6 L165.3 1175.5 L165.8 1176.0 L166.3 1174.5 L166.8 1174.2 L167.3 1175.0 L167.8 1174.8 L168.3 1174.9 L168.8 1174.9 L169.3 1175.1 L169.8 1175.1 L170.3 1175.5 L170.8 1174.3 L171.3 1173.2 L171.8 1174.2 L172.3 1173.6 L172.8 1172.4 L173.3 1172.9 L173.8 1173.2 L174.3 1171.7 L174.8 1171.1 L175.3 1171.5 L175.8 1171.3 L176.3 1171.7 L176.8 1172.5 L177.3 1172.1 L177.8 1172.4 L178.3 1173.5 L178.8 1173.5 L179.3 1173.9 L179.8 1175.1 L180.3 1174.6 L180.8 1174.4 L181.3 1174.7 L181.8 1174.6 L182.3 1175.8 L182.8 1175.2 L183.3 1174.4 L183.8 1174.8 L184.3 1173.9 L184.8 1173.6 L185.3 1172.5 L185.8 1171.0 L186.3 1170.7 L186.8 1170.3 L187.3 1169.7 L187.8 1169.2 L188.3 1169.3 L188.8 1169.0 L189.3 1169.7 L189.8 1170.8 L190.3 1171.2 L190.8 1172.0 L191.3 1172.8 L191.8 1172.3 L192.3 1172.7 L192.8 1173.9 L193.3 1173.8 L193.8 1172.9 L194.3 1172.2 L194.8 1172.7 L195.3 1173.8 L195.8 1173.4 L196.3 1173.1 L196.8 1173.1 L197.3 1173.3 L197.8 1173.3 L198.3 1173.3 L198.8 1173.0 L199.3 1172.6 L199.8 1172.8 L200.3 1173.1 L200.8 1174.0 L201.3 1173.8 L201.8 1173.1 L202.3 1172.7 L202.8 1172.2 L203.3 1172.7 L203.8 1173.1 L204.3 1173.4 L204.8 1173.0 L205.3 1172.1 L205.8 1171.8 L206.3 1171.8 L206.8 1170.5 L207.3 1169.9 L207.8 1169.2 L208.3 1167.9 L208.8 1167.6 L209.3 1168.2 L209.8 1168.5 L210.3 1168.8 L210.8 1169.6 L211.3 1170.0 L211.8 1170.6 L212.3 1170.7 L212.8 1170.4 L213.3 1170.2 L213.8 1171.0 L214.3 1171.7 L214.8 1171.8 L215.3 1171.7 L215.8 1171.4 L216.3 1170.3 L216.8 1168.5 L217.3 1168.0 L217.8 1167.6 L218.3 1167.5 L218.8 1168.1 L219.3 1168.1 L219.8 1167.6 L220.3 1168.1 L220.8 1168.7 L221.3 1169.2 L221.8 1170.6 L222.3 1172.0 L222.8 1172.6 L223.3 1172.9 L223.8 1173.1 L224.3 1173.0 L224.8 1174.4 L225.3 1174.2 L225.8 1173.1 L226.3 1174.3 L226.8 1174.4 L227.3 1172.5 L227.8 1172.0 L228.3 1171.7 L228.8 1170.2 L229.3 1169.1 L229.8 1168.6 L230.3 1168.0 L230.8 1168.3 L231.3 1167.5 L231.8 1167.0 L232.3 1167.3 L232.8 1167.9 L233.3 1168.9 L233.8 1168.9 L234.3 1169.4 L234.8 1169.5 L235.3 1169.3 L235.8 1168.4 L236.3 1167.3 L236.8 1166.4 L237.3 1165.0 L237.8 1163.3 L238.3 1162.7 L238.8 1162.9 L239.3 1163.1 L239.8 1164.9 L240.3 1166.4 L240.8 1167.1 L241.3 1168.5 L241.8 1169.6 L242.3 1170.9 L242.8 1171.4 L243.3 1171.4 L243.8 1171.1 L244.3 1170.3 L244.8 1170.4 L245.3 1169.5 L245.8 1167.6 L246.3 1166.5 L246.8 1165.7 L247.3 1165.3 L247.8 1165.5 L248.3 1165.6 L248.8 1166.4 L249.3 1167.1 L249.8 1169.1 L250.3 1171.0 L250.8 1170.9 L251.3 1170.2 L251.8 1169.3 L252.3 1169.0 L252.8 1168.2 L253.3 1166.7 L253.8 1165.7 L254.3 1165.2 L254.8 1164.2 L255.3 1163.2 L255.8 1162.3 L256.3 1161.0 L256.8 1160.5 L257.3 1160.3 L257.8 1160.5 L258.3 1161.7 L258.8 1163.2 L259.3 1163.5 L259.8 1164.2 L260.3 1165.5 L260.8 1166.6 L261.3 1167.8 L261.8 1168.0 L262.3 1168.1 L262.8 1167.2 L263.3 1165.9 L263.8 1165.5 L264.3 1165.3 L264.8 1164.5 L265.3 1162.8 L265.8 1160.9 L266.3 1159.8 L266.8 1159.3 L267.3 1158.2 L267.8 1157.4 L268.3 1157.3 L268.8 1157.7 L269.3 1157.5 L269.8 1157.8 L270.3 1159.7 L270.8 1161.1 L271.3 1163.0 L271.8 1165.3 L272.3 1167.1 L272.8 1167.6 L273.3 1168.6 L273.8 1169.6 L274.3 1170.3 L274.8 1171.7 L275.3 1172.0 L275.8 1172.1 L276.3 1172.5 L276.8 1171.7 L277.3 1171.6 L277.8 1172.7 L278.3 1172.5 L278.8 1172.4 L279.3 1172.0 L279.8 1171.9 L280.3 1171.0 L280.8 1169.6 L281.3 1169.1 L281.8 1167.3 L282.3 1166.1 L282.8 1165.8 L283.3 1164.5 L283.8 1163.3 L284.3 1163.5 L284.8 1163.0 L285.3 1162.8 L285.8 1163.6 L286.3 1163.6 L286.8 1163.6 L287.3 1163.2 L287.8 1164.3 L288.3 1164.9 L288.8 1163.6 L289.3 1163.2 L289.8 1163.1 L290.3 1162.9 L290.8 1161.9 L291.3 1160.7 L291.8 1159.8 L292.3 1159.1 L292.8 1158.5 L293.3 1157.4 L293.8 1157.4 L294.3 1156.7 L294.8 1156.2 L295.3 1157.4 L295.8 1157.9 L296.3 1157.9 L296.8 1158.7 L297.3 1159.9 L297.8 1160.7 L298.3 1161.7 L298.8 1163.1 L299.3 1163.1 L299.8 1162.9 L300.3 1163.9 L300.8 1165.0 L301.3 1166.5 L301.8 1169.0 L302.3 1170.9 L302.8 1170.8 L303.3 1171.2 L303.8 1171.7 L304.3 1169.9 L304.8 1166.6 L305.3 1163.4 L305.8 1159.3 L306.3 1154.3 L306.8 1151.3 L307.3 1146.0 L307.8 1139.3 L308.3 1135.3 L308.8 1131.7 L309.3 1130.8 L309.8 1134.0 L310.3 1137.9 L310.8 1144.4 L311.3 1149.9 L311.8 1151.7 L312.3 1153.3 L312.8 1155.7 L313.3 1158.0 L313.8 1159.7 L314.3 1160.8 L314.8 1161.6 L315.3 1162.8 L315.8 1162.7 L316.3 1161.3 L316.8 1159.9 L317.3 1157.5 L317.8 1154.9 L318.3 1151.7 L318.8 1148.3 L319.3 1145.2 L319.8 1142.1 L320.3 1138.7 L320.8 1135.4 L321.3 1131.5 L321.8 1126.3 L322.3 1121.4 L322.8 1117.4 L323.3 1113.8 L323.8 1110.3 L324.3 1107.5 L324.8 1104.4 L325.3 1102.0 L325.8 1103.7 L326.3 1107.7 L326.8 1112.2 L327.3 1117.7 L327.8 1125.1 L328.3 1132.0 L328.8 1137.4 L329.3 1142.9 L329.8 1146.6 L330.3 1150.1 L330.8 1155.1 L331.3 1159.2 L331.8 1162.2 L332.3 1164.5 L332.8 1165.9 L333.3 1166.5 L333.8 1167.4 L334.3 1168.9 L334.8 1170.0 L335.3 1170.3 L335.8 1170.8 L336.3 1172.0 L336.8 1171.9 L337.3 1170.7 L337.8 1171.1 L338.3 1171.7 L338.8 1171.5 L339.3 1170.9 L339.8 1170.5 L340.3 1171.3 L340.8 1170.4 L341.3 1169.5 L341.8 1170.3 L342.3 1170.2 L342.8 1169.5 L343.3 1168.6 L343.8 1168.7 L344.3 1169.5 L344.8 1169.0 L345.3 1168.4 L345.8 1169.6 L346.3 1170.7 L346.8 1171.0 L347.3 1171.6 L347.8 1172.5 L348.3 1172.1 L348.8 1172.1 L349.3 1172.8 L349.8 1171.1 L350.3 1168.7 L350.8 1167.2 L351.3 1166.6 L351.8 1165.7 L352.3 1164.6 L352.8 1163.9 L353.3 1164.0 L353.8 1164.2 L354.3 1163.2 L354.8 1164.3 L355.3 1165.4 L355.8 1166.0 L356.3 1168.7 L356.8 1169.1 L357.3 1169.0 L357.8 1169.1 L358.3 1168.4 L358.8 1168.3 L359.3 1167.7 L359.8 1167.4 L360.3 1166.9 L360.8 1165.7 L361.3 1163.9 L361.8 1163.2 L362.3 1163.1 L362.8 1162.1 L363.3 1161.2 L363.8 1161.2 L364.3 1161.5 L364.8 1161.9 L365.3 1161.1 L365.8 1161.7 L366.3 1163.2 L366.8 1163.2 L367.3 1163.9 L367.8 1164.5 L368.3 1165.4 L368.8 1165.3 L369.3 1165.2 L369.8 1166.1 L370.3 1167.0 L370.8 1167.3 L371.3 1167.6 L371.8 1167.9 L372.3 1168.0 L372.8 1168.3 L373.3 1169.7 L373.8 1170.2 L374.3 1170.2 L374.8 1170.2 L375.3 1170.0 L375.8 1170.2 L376.3 1170.1 L376.8 1169.6 L377.3 1168.6 L377.8 1168.5 L378.3 1169.1 L378.8 1168.6 L379.3 1166.5 L379.8 1166.2 L380.3 1166.5 L380.8 1164.4 L381.3 1162.9 L381.8 1162.9 L382.3 1162.8 L382.8 1163.0 L383.3 1161.7 L383.8 1160.3 L384.3 1161.3 L384.8 1161.4 L385.3 1160.3 L385.8 1160.0 L386.3 1160.0 L386.8 1158.6 L387.3 1158.5 L387.8 1158.8 L388.3 1158.1 L388.8 1158.7 L389.3 1159.1 L389.8 1159.6 L390.3 1161.1 L390.8 1162.8 L391.3 1163.2 L391.8 1164.0 L392.3 1165.5 L392.8 1167.3 L393.3 1168.7 L393.8 1167.7 L394.3 1166.1 L394.8 1165.8 L395.3 1165.4 L395.8 1164.7 L396.3 1163.5 L396.8 1161.9 L397.3 1161.1 L397.8 1161.4 L398.3 1161.6 L398.8 1162.1 L399.3 1163.1 L399.8 1164.4 L400.3 1166.6 L400.8 1167.8 L401.3 1167.8 L401.8 1168.7 L402.3 1169.3 L402.8 1169.6 L403.3 1169.7 L403.8 1169.2 L404.3 1168.0 L404.8 1166.9 L405.3 1166.2 L405.8 1164.2 L406.3 1162.2 L406.8 1161.7 L407.3 1160.4 L407.8 1159.1 L408.3 1159.2 L408.8 1158.3 L409.3 1157.1 L409.8 1157.2 L410.3 1157.6 L410.8 1157.4 L411.3 1158.2 L411.8 1158.7 L412.3 1158.3 L412.8 1158.4 L413.3 1160.2 L413.8 1161.2 L414.3 1161.3 L414.8 1161.7 L415.3 1161.7 L415.8 1161.1 L416.3 1160.8 L416.8 1160.9 L417.3 1159.8 L417.8 1158.4 L418.3 1157.2 L418.8 1156.4 L419.3 1156.8 L419.8 1157.3 L420.3 1156.8 L420.8 1156.9 L421.3 1157.7 L421.8 1158.5 L422.3 1161.3 L422.8 1163.8 L423.3 1164.3 L423.8 1166.2 L424.3 1167.2 L424.8 1168.2 L425.3 1169.6 L425.8 1170.3 L426.3 1170.6 L426.8 1169.8 L427.3 1168.7 L427.8 1167.9 L428.3 1167.1 L428.8 1164.5 L429.3 1161.2 L429.8 1159.1 L430.3 1157.6 L430.8 1155.4 L431.3 1153.9 L431.8 1154.1 L432.3 1154.4 L432.8 1154.5 L433.3 1155.3 L433.8 1156.3 L434.3 1157.3 L434.8 1158.5 L435.3 1160.0 L435.8 1161.2 L436.3 1162.6 L436.8 1163.9 L437.3 1164.4 L437.8 1164.3 L438.3 1163.1 L438.8 1158.4 L439.3 1153.1 L439.8 1146.6 L440.3 1137.7 L440.8 1129.9 L441.3 1124.2 L441.8 1118.5 L442.3 1111.8 L442.8 1105.5 L443.3 1099.4 L443.8 1094.2 L444.3 1091.1 L444.8 1088.7 L445.3 1090.4 L445.8 1095.5 L446.3 1101.1 L446.8 1109.6 L447.3 1118.2 L447.8 1124.9 L448.3 1129.3 L448.8 1131.4 L449.3 1133.3 L449.8 1133.6 L450.3 1132.0 L450.8 1130.4 L451.3 1130.8 L451.8 1130.3 L452.3 1130.9 L452.8 1134.2 L453.3 1137.4 L453.8 1141.5 L454.3 1145.8 L454.8 1148.9 L455.3 1152.2 L455.8 1155.2 L456.3 1157.2 L456.8 1159.9 L457.3 1160.5 L457.8 1159.2 L458.3 1159.2 L458.8 1158.5 L459.3 1156.0 L459.8 1154.0 L460.3 1153.3 L460.8 1153.1 L461.3 1152.9 L461.8 1153.8 L462.3 1154.4 L462.8 1154.0 L463.3 1155.8 L463.8 1157.7 L464.3 1158.2 L464.8 1157.9 L465.3 1158.1 L465.8 1158.0 L466.3 1156.5 L466.8 1156.5 L467.3 1155.8 L467.8 1154.4 L468.3 1152.4 L468.8 1151.1 L469.3 1150.2 L469.8 1148.8 L470.3 1148.2 L470.8 1147.8 L471.3 1147.2 L471.8 1146.0 L472.3 1145.2 L472.8 1145.5 L473.3 1146.2 L473.8 1146.6 L474.3 1145.9 L474.8 1145.8 L475.3 1146.7 L475.8 1147.4 L476.3 1146.9 L476.8 1146.3 L477.3 1147.0 L477.8 1147.6 L478.3 1150.0 L478.8 1153.2 L479.3 1154.6 L479.8 1155.5 L480.3 1158.0 L480.8 1160.1 L481.3 1161.1 L481.8 1162.4 L482.3 1163.2 L482.8 1162.9 L483.3 1161.7 L483.8 1160.2 L484.3 1159.0 L484.8 1158.5 L485.3 1157.9 L485.8 1157.2 L486.3 1156.7 L486.8 1158.0 L487.3 1160.4 L487.8 1162.2 L488.3 1164.3 L488.8 1165.9 L489.3 1167.3 L489.8 1168.5 L490.3 1167.7 L490.8 1168.3 L491.3 1169.2 L491.8 1167.9 L492.3 1166.2 L492.8 1164.4 L493.3 1163.1 L493.8 1162.9 L494.3 1163.0 L494.8 1161.9 L495.3 1161.7 L495.8 1163.7 L496.3 1165.5 L496.8 1165.5 L497.3 1163.9 L497.8 1160.2 L498.3 1152.2 L498.8 1140.8 L499.3 1127.3 L499.8 1113.2 L500.3 1100.5 L500.8 1087.9 L501.3 1073.5 L501.8 1060.3 L502.3 1049.7 L502.8 1043.3 L503.3 1043.1 L503.8 1046.7 L504.3 1050.2 L504.8 1052.2 L505.3 1055.0 L505.8 1055.5 L506.3 1053.3 L506.8 1049.9 L507.3 1044.0 L507.8 1039.4 L508.3 1037.8 L508.8 1038.3 L509.3 1044.3 L509.8 1055.0 L510.3 1068.0 L510.8 1081.8 L511.3 1095.6 L511.8 1108.6 L512.3 1125.8 L512.8 1143.0 L513.3 1154.6 L513.8 1155.9 L514.3 1155.0 L514.8 1153.6 L515.3 1154.3 L515.8 1154.8 L516.3 1152.9 L516.8 1150.8 L517.3 1148.3 L517.8 1145.7 L518.3 1144.2 L518.8 1143.3 L519.3 1144.0 L519.8 1146.1 L520.3 1148.5 L520.8 1150.9 L521.3 1152.3 L521.8 1154.2 L522.3 1155.2 L522.8 1155.9 L523.3 1156.8 L523.8 1155.5 L524.3 1154.7 L524.8 1153.0 L525.3 1150.3 L525.8 1149.7 L526.3 1148.3 L526.8 1146.7 L527.3 1146.0 L527.8 1146.5 L528.3 1147.9 L528.8 1148.5 L529.3 1148.9 L529.8 1149.6 L530.3 1147.1 L530.8 1141.0 L531.3 1134.7 L531.8 1128.4 L532.3 1122.1 L532.8 1114.1 L533.3 1105.9 L533.8 1099.5 L534.3 1096.5 L534.8 1098.4 L535.3 1105.4 L535.8 1114.7 L536.3 1123.2 L536.8 1130.4 L537.3 1137.9 L537.8 1146.5 L538.3 1153.7 L538.8 1158.5 L539.3 1163.0 L539.8 1166.2 L540.3 1167.9 L540.8 1169.7 L541.3 1171.7 L541.8 1172.0 L542.3 1171.0 L542.8 1169.1 L543.3 1168.7 L543.8 1167.4 L544.3 1165.5 L544.8 1165.3 L545.3 1164.6 L545.8 1165.8 L546.3 1165.9 L546.8 1165.0 L547.3 1165.6 L547.8 1166.1 L548.3 1167.4 L548.8 1169.3 L549.3 1169.7 L549.8 1169.6 L550.3 1169.4 L550.8 1169.2 L551.3 1168.7 L551.8 1169.0 L552.3 1168.1 L552.8 1165.6 L553.3 1165.2 L553.8 1165.4 L554.3 1165.4 L554.8 1166.0 L555.3 1167.0 L555.8 1166.8 L556.3 1166.7 L556.8 1168.8 L557.3 1170.2 L557.8 1169.5 L558.3 1168.8 L558.8 1169.2 L559.3 1169.5 L559.8 1168.5 L560.3 1167.6 L560.8 1168.2 L561.3 1169.2 L561.8 1169.6 L562.3 1170.0 L562.8 1170.7 L563.3 1172.1 L563.8 1172.4 L564.3 1172.8 L564.8 1173.7 L565.3 1173.3 L565.8 1172.5 L566.3 1172.3 L566.8 1172.0 L567.3 1172.1 L567.8 1173.5 L568.3 1173.6 L568.8 1172.4 L569.3 1172.1 L569.8 1171.7 L570.3 1171.5 L570.8 1170.9 L571.3 1170.7 L571.8 1171.1 L572.3 1170.8 L572.8 1170.6 L573.3 1171.3 L573.8 1171.3 L574.3 1171.1 L574.8 1172.6 L575.3 1171.8 L575.8 1170.8 L576.3 1171.1 L576.8 1171.7 L577.3 1172.4 L577.8 1173.0 L578.3 1172.8 L578.8 1171.9 L579.3 1172.8 L579.8 1174.2 L580.3 1173.7 L580.8 1172.0 L581.3 1171.6 L581.8 1171.0 L582.3 1170.7 L582.8 1170.3 L583.3 1169.8 L583.8 1170.4 L584.3 1170.4 L584.8 1170.3 L585.3 1171.2 L585.8 1172.2 L586.3 1173.1 L586.8 1172.4 L587.3 1171.5 L587.8 1172.5 L588.3 1173.8 L588.8 1173.9 L589.3 1173.9 L589.8 1174.6 L590.3 1174.9 L590.8 1174.5 L591.3 1173.7 L591.8 1172.8 L592.3 1172.0 L592.8 1172.4 L593.3 1172.4 L593.8 1171.9 L594.3 1171.4 L594.8 1171.1 L595.3 1170.3 L595.8 1170.7 L596.3 1170.9 L596.8 1170.0 L597.3 1169.5 L597.8 1169.4 L598.3 1169.9 L598.8 1169.3 L599.3 1168.3 L599.8 1168.7 L600.3 1168.4 L600.8 1166.6 L601.3 1166.9 L601.8 1167.2 L602.3 1167.5 L602.8 1166.9 L603.3 1165.0 L603.8 1163.6 L604.3 1161.7 L604.8 1160.3 L605.3 1158.2 L605.8 1156.4 L606.3 1154.6 L606.8 1153.3 L607.3 1152.0 L607.8 1150.5 L608.3 1150.1 L608.8 1151.1 L609.3 1152.7 L609.8 1154.7 L610.3 1157.6 L610.8 1160.9 L611.3 1162.7 L611.8 1165.2 L612.3 1167.7 L612.8 1169.2 L613.3 1170.4 L613.8 1169.1 L614.3 1167.1 L614.8 1165.5 L615.3 1162.5 L615.8 1160.0 L616.3 1157.3 L616.8 1153.1 L617.3 1149.7 L617.8 1147.4 L618.3 1146.2 L618.8 1148.0 L619.3 1152.8 L619.8 1156.3 L620.3 1160.5 L620.8 1165.0 L621.3 1169.1 L621.8 1173.1 L622.3 1175.1 L622.8 1175.4 L623.3 1175.1 L623.8 1174.4 L624.3 1173.8 L624.8 1173.1 L625.3 1172.0 L625.8 1171.6 L626.3 1170.3 L626.8 1169.3 L627.3 1168.6 L627.8 1166.2 L628.3 1164.9 L628.8 1163.3 L629.3 1160.8 L629.8 1159.6 L630.3 1159.8 L630.8 1159.5 L631.3 1160.3 L631.8 1162.7 L632.3 1164.7 L632.8 1165.9 L633.3 1167.9 L633.8 1170.0 L634.3 1171.2 L634.8 1173.1 L635.3 1174.1 L635.8 1173.4 L636.3 1172.8 L636.8 1171.5 L637.3 1170.7 L637.8 1170.7 L638.3 1169.0 L638.8 1168.5 L639.3 1169.2 L639.8 1167.9 L640.3 1167.3 L640.8 1168.1 L641.3 1168.3 L641.8 1169.1 L642.3 1170.0 L642.8 1170.5 L643.3 1170.3 L643.8 1170.6 L644.3 1171.9 L644.8 1172.4 L645.3 1171.4 L645.8 1171.2 L646.3 1171.6 L646.8 1170.9 L647.3 1170.5 L647.8 1169.8 L648.3 1168.0 L648.8 1167.1 L649.3 1167.9 L649.8 1168.2 L650.3 1168.2 L650.8 1168.9 L651.3 1168.9 L651.8 1168.9" stroke="#70AD47" stroke-width="1.90"/>
<path class="tr" d="M70.3 1364.2 L70.8 1363.6 L71.3 1363.5 L71.8 1363.7 L72.3 1363.8 L72.8 1364.0 L73.3 1363.7 L73.8 1363.3 L74.3 1363.7 L74.8 1364.2 L75.3 1364.1 L75.8 1363.7 L76.3 1363.4 L76.8 1363.1 L77.3 1363.2 L77.8 1363.6 L78.3 1363.4 L78.8 1362.6 L79.3 1363.1 L79.8 1364.0 L80.3 1364.2 L80.8 1364.2 L81.3 1364.2 L81.8 1364.0 L82.3 1363.4 L82.8 1364.2 L83.3 1364.2 L83.8 1363.4 L84.3 1363.0 L84.8 1362.7 L85.3 1363.0 L85.8 1363.3 L86.3 1363.5 L86.8 1362.4 L87.3 1362.4 L87.8 1363.0 L88.3 1362.9 L88.8 1363.3 L89.3 1362.6 L89.8 1362.7 L90.3 1362.8 L90.8 1363.7 L91.3 1364.1 L91.8 1363.9 L92.3 1364.2 L92.8 1364.2 L93.3 1364.1 L93.8 1364.1 L94.3 1363.7 L94.8 1363.4 L95.3 1363.3 L95.8 1362.8 L96.3 1362.6 L96.8 1362.3 L97.3 1362.8 L97.8 1363.2 L98.3 1363.1 L98.8 1362.9 L99.3 1362.9 L99.8 1362.8 L100.3 1363.0 L100.8 1363.3 L101.3 1363.0 L101.8 1362.8 L102.3 1362.9 L102.8 1362.8 L103.3 1362.9 L103.8 1362.7 L104.3 1362.4 L104.8 1362.2 L105.3 1362.4 L105.8 1362.7 L106.3 1363.2 L106.8 1363.5 L107.3 1363.0 L107.8 1363.4 L108.3 1363.7 L108.8 1363.9 L109.3 1363.8 L109.8 1363.5 L110.3 1363.2 L110.8 1362.8 L111.3 1362.9 L111.8 1363.0 L112.3 1363.2 L112.8 1362.9 L113.3 1363.5 L113.8 1363.4 L114.3 1363.6 L114.8 1363.7 L115.3 1363.8 L115.8 1363.9 L116.3 1364.1 L116.8 1364.2 L117.3 1364.1 L117.8 1364.1 L118.3 1363.9 L118.8 1364.1 L119.3 1364.2 L119.8 1364.2 L120.3 1364.1 L120.8 1363.8 L121.3 1363.5 L121.8 1363.6 L122.3 1363.9 L122.8 1364.0 L123.3 1363.7 L123.8 1363.8 L124.3 1363.9 L124.8 1364.2 L125.3 1364.2 L125.8 1364.2 L126.3 1364.2 L126.8 1364.2 L127.3 1364.2 L127.8 1364.0 L128.3 1363.9 L128.8 1363.3 L129.3 1363.8 L129.8 1364.2 L130.3 1363.9 L130.8 1363.9 L131.3 1363.8 L131.8 1363.5 L132.3 1363.7 L132.8 1363.8 L133.3 1363.7 L133.8 1362.9 L134.3 1363.1 L134.8 1363.0 L135.3 1363.1 L135.8 1363.6 L136.3 1363.6 L136.8 1363.6 L137.3 1363.5 L137.8 1364.2 L138.3 1364.2 L138.8 1364.2 L139.3 1364.2 L139.8 1364.2 L140.3 1364.2 L140.8 1364.2 L141.3 1364.2 L141.8 1364.1 L142.3 1363.9 L142.8 1363.5 L143.3 1363.3 L143.8 1363.4 L144.3 1363.4 L144.8 1363.1 L145.3 1362.9 L145.8 1363.4 L146.3 1363.5 L146.8 1363.7 L147.3 1363.6 L147.8 1363.0 L148.3 1363.2 L148.8 1363.1 L149.3 1363.3 L149.8 1362.6 L150.3 1362.8 L150.8 1362.8 L151.3 1362.8 L151.8 1363.0 L152.3 1363.0 L152.8 1363.4 L153.3 1363.7 L153.8 1364.0 L154.3 1364.0 L154.8 1364.1 L155.3 1364.0 L155.8 1363.9 L156.3 1363.5 L156.8 1363.2 L157.3 1362.7 L157.8 1363.1 L158.3 1363.0 L158.8 1363.1 L159.3 1363.2 L159.8 1362.9 L160.3 1363.2 L160.8 1363.3 L161.3 1363.2 L161.8 1362.8 L162.3 1362.7 L162.8 1363.0 L163.3 1363.1 L163.8 1363.6 L164.3 1363.4 L164.8 1363.4 L165.3 1363.8 L165.8 1364.0 L166.3 1363.9 L166.8 1363.8 L167.3 1363.5 L167.8 1363.5 L168.3 1363.8 L168.8 1363.6 L169.3 1363.3 L169.8 1363.0 L170.3 1362.4 L170.8 1362.5 L171.3 1362.7 L171.8 1362.7 L172.3 1362.3 L172.8 1362.6 L173.3 1362.8 L173.8 1363.4 L174.3 1364.1 L174.8 1363.9 L175.3 1363.5 L175.8 1363.3 L176.3 1363.3 L176.8 1363.3 L177.3 1362.9 L177.8 1362.0 L178.3 1362.4 L178.8 1362.8 L179.3 1362.9 L179.8 1362.8 L180.3 1362.8 L180.8 1362.6 L181.3 1363.2 L181.8 1363.8 L182.3 1363.0 L182.8 1362.8 L183.3 1363.4 L183.8 1363.6 L184.3 1363.7 L184.8 1363.8 L185.3 1363.4 L185.8 1363.1 L186.3 1363.4 L186.8 1363.7 L187.3 1363.3 L187.8 1363.0 L188.3 1363.4 L188.8 1363.1 L189.3 1362.8 L189.8 1362.7 L190.3 1362.6 L190.8 1362.4 L191.3 1362.6 L191.8 1362.4 L192.3 1362.3 L192.8 1362.7 L193.3 1362.8 L193.8 1362.7 L194.3 1362.9 L194.8 1362.9 L195.3 1362.6 L195.8 1362.8 L196.3 1363.1 L196.8 1363.2 L197.3 1363.9 L197.8 1364.1 L198.3 1364.1 L198.8 1364.1 L199.3 1363.7 L199.8 1363.7 L200.3 1363.4 L200.8 1363.1 L201.3 1362.6 L201.8 1362.8 L202.3 1362.2 L202.8 1361.9 L203.3 1361.8 L203.8 1361.3 L204.3 1360.5 L204.8 1359.7 L205.3 1359.2 L205.8 1358.5 L206.3 1358.3 L206.8 1358.0 L207.3 1357.8 L207.8 1357.5 L208.3 1358.0 L208.8 1358.4 L209.3 1359.0 L209.8 1359.1 L210.3 1359.3 L210.8 1359.4 L211.3 1360.5 L211.8 1361.4 L212.3 1361.2 L212.8 1361.7 L213.3 1361.7 L213.8 1362.0 L214.3 1362.0 L214.8 1362.5 L215.3 1362.8 L215.8 1363.1 L216.3 1363.5 L216.8 1363.4 L217.3 1363.7 L217.8 1363.6 L218.3 1364.2 L218.8 1364.2 L219.3 1363.5 L219.8 1363.7 L220.3 1363.7 L220.8 1363.7 L221.3 1363.8 L221.8 1363.6 L222.3 1363.4 L222.8 1363.3 L223.3 1363.7 L223.8 1363.5 L224.3 1363.5 L224.8 1363.2 L225.3 1363.1 L225.8 1363.4 L226.3 1363.3 L226.8 1363.2 L227.3 1363.0 L227.8 1362.7 L228.3 1362.6 L228.8 1362.7 L229.3 1362.6 L229.8 1362.9 L230.3 1362.8 L230.8 1363.2 L231.3 1362.9 L231.8 1363.0 L232.3 1362.9 L232.8 1363.2 L233.3 1363.1 L233.8 1363.4 L234.3 1363.5 L234.8 1363.2 L235.3 1363.4 L235.8 1363.9 L236.3 1364.2 L236.8 1364.1 L237.3 1364.2 L237.8 1364.2 L238.3 1364.2 L238.8 1364.2 L239.3 1364.2 L239.8 1364.0 L240.3 1363.8 L240.8 1363.9 L241.3 1363.7 L241.8 1363.3 L242.3 1363.3 L242.8 1363.6 L243.3 1363.5 L243.8 1363.6 L244.3 1363.9 L244.8 1363.8 L245.3 1363.9 L245.8 1364.1 L246.3 1363.6 L246.8 1363.6 L247.3 1363.6 L247.8 1363.7 L248.3 1363.6 L248.8 1363.4 L249.3 1363.5 L249.8 1363.2 L250.3 1363.0 L250.8 1362.6 L251.3 1362.4 L251.8 1362.4 L252.3 1361.8 L252.8 1361.7 L253.3 1361.5 L253.8 1361.8 L254.3 1362.2 L254.8 1362.7 L255.3 1363.0 L255.8 1363.0 L256.3 1363.7 L256.8 1363.7 L257.3 1363.8 L257.8 1364.0 L258.3 1363.9 L258.8 1363.9 L259.3 1363.7 L259.8 1363.9 L260.3 1363.6 L260.8 1363.3 L261.3 1363.0 L261.8 1362.2 L262.3 1361.9 L262.8 1360.7 L263.3 1360.1 L263.8 1359.2 L264.3 1358.6 L264.8 1357.9 L265.3 1357.2 L265.8 1356.6 L266.3 1355.9 L266.8 1355.7 L267.3 1355.1 L267.8 1355.2 L268.3 1355.4 L268.8 1356.0 L269.3 1356.2 L269.8 1356.5 L270.3 1356.9 L270.8 1357.8 L271.3 1358.6 L271.8 1359.1 L272.3 1359.3 L272.8 1359.3 L273.3 1359.8 L273.8 1360.2 L274.3 1360.2 L274.8 1360.3 L275.3 1360.4 L275.8 1360.4 L276.3 1361.0 L276.8 1361.1 L277.3 1361.5 L277.8 1362.3 L278.3 1362.8 L278.8 1362.9 L279.3 1363.2 L279.8 1363.3 L280.3 1362.8 L280.8 1363.0 L281.3 1362.6 L281.8 1362.2 L282.3 1362.7 L282.8 1362.7 L283.3 1362.7 L283.8 1362.8 L284.3 1363.0 L284.8 1363.1 L285.3 1363.0 L285.8 1363.0 L286.3 1362.9 L286.8 1362.7 L287.3 1362.7 L287.8 1362.8 L288.3 1362.8 L288.8 1363.3 L289.3 1364.2 L289.8 1364.2 L290.3 1364.0 L290.8 1364.2 L291.3 1364.2 L291.8 1364.2 L292.3 1364.1 L292.8 1363.8 L293.3 1363.4 L293.8 1363.6 L294.3 1364.1 L294.8 1364.2 L295.3 1364.2 L295.8 1364.2 L296.3 1364.2 L296.8 1364.2 L297.3 1363.8 L297.8 1363.4 L298.3 1363.2 L298.8 1362.2 L299.3 1361.2 L299.8 1360.4 L300.3 1358.7 L300.8 1357.0 L301.3 1354.4 L301.8 1350.7 L302.3 1345.6 L302.8 1340.8 L303.3 1334.9 L303.8 1327.5 L304.3 1319.4 L304.8 1310.1 L305.3 1301.1 L305.8 1291.8 L306.3 1282.6 L306.8 1273.7 L307.3 1265.9 L307.8 1259.7 L308.3 1255.6 L308.8 1254.1 L309.3 1254.0 L309.8 1256.4 L310.3 1261.4 L310.8 1267.7 L311.3 1275.1 L311.8 1283.4 L312.3 1292.4 L312.8 1301.1 L313.3 1309.5 L313.8 1317.1 L314.3 1323.2 L314.8 1327.9 L315.3 1331.6 L315.8 1334.3 L316.3 1335.8 L316.8 1336.6 L317.3 1337.0 L317.8 1337.0 L318.3 1337.2 L318.8 1338.7 L319.3 1340.5 L319.8 1342.4 L320.3 1344.9 L320.8 1347.0 L321.3 1349.4 L321.8 1351.6 L322.3 1353.1 L322.8 1352.6 L323.3 1350.2 L323.8 1346.9 L324.3 1340.6 L324.8 1331.6 L325.3 1319.9 L325.8 1306.1 L326.3 1291.1 L326.8 1276.5 L327.3 1264.1 L327.8 1253.8 L328.3 1248.8 L328.8 1249.3 L329.3 1254.9 L329.8 1265.0 L330.3 1278.7 L330.8 1293.0 L331.3 1308.0 L331.8 1321.8 L332.3 1332.7 L332.8 1341.1 L333.3 1345.9 L333.8 1347.5 L334.3 1345.3 L334.8 1340.7 L335.3 1332.6 L335.8 1322.7 L336.3 1311.5 L336.8 1299.4 L337.3 1289.2 L337.8 1281.6 L338.3 1277.5 L338.8 1277.9 L339.3 1282.7 L339.8 1290.6 L340.3 1301.2 L340.8 1312.8 L341.3 1323.9 L341.8 1333.6 L342.3 1341.8 L342.8 1347.6 L343.3 1351.4 L343.8 1353.9 L344.3 1355.3 L344.8 1355.7 L345.3 1356.2 L345.8 1356.6 L346.3 1356.4 L346.8 1357.0 L347.3 1357.6 L347.8 1358.0 L348.3 1358.5 L348.8 1359.1 L349.3 1360.0 L349.8 1360.7 L350.3 1361.5 L350.8 1361.9 L351.3 1361.7 L351.8 1361.6 L352.3 1361.9 L352.8 1361.7 L353.3 1360.4 L353.8 1359.2 L354.3 1358.2 L354.8 1357.6 L355.3 1357.4 L355.8 1357.6 L356.3 1357.2 L356.8 1357.4 L357.3 1358.0 L357.8 1358.8 L358.3 1359.8 L358.8 1359.8 L359.3 1360.7 L359.8 1361.1 L360.3 1361.4 L360.8 1361.9 L361.3 1362.4 L361.8 1362.6 L362.3 1362.8 L362.8 1363.4 L363.3 1363.3 L363.8 1363.4 L364.3 1363.7 L364.8 1363.8 L365.3 1363.4 L365.8 1363.5 L366.3 1363.3 L366.8 1363.2 L367.3 1362.7 L367.8 1362.5 L368.3 1362.0 L368.8 1361.6 L369.3 1361.3 L369.8 1360.7 L370.3 1360.6 L370.8 1360.6 L371.3 1360.2 L371.8 1360.1 L372.3 1359.7 L372.8 1359.4 L373.3 1360.0 L373.8 1359.9 L374.3 1359.9 L374.8 1359.6 L375.3 1360.4 L375.8 1360.9 L376.3 1361.6 L376.8 1362.3 L377.3 1362.3 L377.8 1362.9 L378.3 1362.7 L378.8 1363.3 L379.3 1363.0 L379.8 1362.9 L380.3 1363.3 L380.8 1363.1 L381.3 1362.9 L381.8 1362.7 L382.3 1363.0 L382.8 1362.3 L383.3 1362.2 L383.8 1362.0 L384.3 1361.1 L384.8 1361.2 L385.3 1360.7 L385.8 1360.0 L386.3 1358.8 L386.8 1357.6 L387.3 1356.3 L387.8 1354.8 L388.3 1352.8 L388.8 1350.5 L389.3 1349.8 L389.8 1348.8 L390.3 1348.5 L390.8 1349.1 L391.3 1349.9 L391.8 1351.1 L392.3 1352.9 L392.8 1354.8 L393.3 1355.8 L393.8 1357.1 L394.3 1358.3 L394.8 1359.1 L395.3 1359.5 L395.8 1360.2 L396.3 1360.9 L396.8 1361.4 L397.3 1361.9 L397.8 1362.4 L398.3 1362.3 L398.8 1363.0 L399.3 1363.1 L399.8 1363.0 L400.3 1362.8 L400.8 1362.3 L401.3 1362.6 L401.8 1363.0 L402.3 1363.3 L402.8 1363.0 L403.3 1363.5 L403.8 1363.5 L404.3 1363.7 L404.8 1364.2 L405.3 1364.1 L405.8 1363.9 L406.3 1363.9 L406.8 1363.8 L407.3 1363.7 L407.8 1363.4 L408.3 1363.1 L408.8 1362.9 L409.3 1362.8 L409.8 1362.6 L410.3 1362.6 L410.8 1362.4 L411.3 1361.8 L411.8 1361.1 L412.3 1360.3 L412.8 1359.3 L413.3 1357.7 L413.8 1356.4 L414.3 1355.1 L414.8 1354.1 L415.3 1353.5 L415.8 1353.5 L416.3 1353.9 L416.8 1355.1 L417.3 1356.5 L417.8 1357.4 L418.3 1358.5 L418.8 1359.8 L419.3 1360.7 L419.8 1361.0 L420.3 1361.8 L420.8 1361.8 L421.3 1361.9 L421.8 1362.9 L422.3 1363.3 L422.8 1363.2 L423.3 1363.4 L423.8 1364.2 L424.3 1363.8 L424.8 1363.8 L425.3 1363.8 L425.8 1363.5 L426.3 1363.3 L426.8 1363.2 L427.3 1363.0 L427.8 1362.5 L428.3 1362.6 L428.8 1362.8 L429.3 1362.6 L429.8 1362.1 L430.3 1362.3 L430.8 1362.6 L431.3 1362.8 L431.8 1363.0 L432.3 1363.4 L432.8 1362.9 L433.3 1363.2 L433.8 1363.7 L434.3 1363.7 L434.8 1363.3 L435.3 1363.2 L435.8 1362.6 L436.3 1362.5 L436.8 1362.6 L437.3 1362.4 L437.8 1362.3 L438.3 1362.4 L438.8 1362.1 L439.3 1361.9 L439.8 1362.3 L440.3 1361.3 L440.8 1360.7 L441.3 1360.5 L441.8 1359.8 L442.3 1359.1 L442.8 1359.0 L443.3 1358.5 L443.8 1358.5 L444.3 1358.5 L444.8 1359.1 L445.3 1359.4 L445.8 1359.5 L446.3 1360.0 L446.8 1360.5 L447.3 1361.3 L447.8 1361.4 L448.3 1362.1 L448.8 1362.3 L449.3 1362.1 L449.8 1362.7 L450.3 1362.7 L450.8 1362.5 L451.3 1363.1 L451.8 1362.6 L452.3 1362.7 L452.8 1362.4 L453.3 1361.9 L453.8 1361.1 L454.3 1360.5 L454.8 1359.8 L455.3 1358.6 L455.8 1358.0 L456.3 1357.2 L456.8 1357.0 L457.3 1357.4 L457.8 1357.7 L458.3 1357.8 L458.8 1358.5 L459.3 1359.5 L459.8 1360.4 L460.3 1361.1 L460.8 1361.7 L461.3 1362.5 L461.8 1363.3 L462.3 1363.8 L462.8 1364.0 L463.3 1363.8 L463.8 1363.8 L464.3 1363.8 L464.8 1363.0 L465.3 1362.5 L465.8 1361.8 L466.3 1361.5 L466.8 1361.0 L467.3 1360.5 L467.8 1359.4 L468.3 1358.0 L468.8 1356.5 L469.3 1354.5 L469.8 1352.5 L470.3 1351.0 L470.8 1349.3 L471.3 1348.1 L471.8 1348.0 L472.3 1348.9 L472.8 1350.3 L473.3 1352.2 L473.8 1354.2 L474.3 1355.9 L474.8 1357.9 L475.3 1359.5 L475.8 1360.7 L476.3 1361.8 L476.8 1362.5 L477.3 1362.9 L477.8 1363.3 L478.3 1363.8 L478.8 1363.7 L479.3 1363.8 L479.8 1363.6 L480.3 1363.2 L480.8 1363.3 L481.3 1363.5 L481.8 1363.5 L482.3 1363.4 L482.8 1363.7 L483.3 1364.1 L483.8 1364.2 L484.3 1364.1 L484.8 1363.4 L485.3 1362.8 L485.8 1362.5 L486.3 1362.2 L486.8 1362.2 L487.3 1361.5 L487.8 1361.0 L488.3 1361.2 L488.8 1361.2 L489.3 1360.9 L489.8 1360.6 L490.3 1360.3 L490.8 1359.8 L491.3 1360.1 L491.8 1360.2 L492.3 1359.9 L492.8 1360.3 L493.3 1360.6 L493.8 1361.3 L494.3 1361.6 L494.8 1362.2 L495.3 1362.3 L495.8 1363.2 L496.3 1363.6 L496.8 1363.3 L497.3 1364.0 L497.8 1363.5 L498.3 1363.7 L498.8 1363.6 L499.3 1363.7 L499.8 1363.3 L500.3 1362.8 L500.8 1363.1 L501.3 1363.1 L501.8 1363.2 L502.3 1363.1 L502.8 1363.1 L503.3 1363.3 L503.8 1363.1 L504.3 1363.6 L504.8 1363.2 L505.3 1362.6 L505.8 1362.9 L506.3 1363.0 L506.8 1362.6 L507.3 1362.4 L507.8 1362.4 L508.3 1362.3 L508.8 1363.0 L509.3 1363.0 L509.8 1363.1 L510.3 1363.4 L510.8 1363.2 L511.3 1363.4 L511.8 1363.3 L512.3 1363.3 L512.8 1362.9 L513.3 1363.4 L513.8 1363.1 L514.3 1362.3 L514.8 1362.7 L515.3 1362.5 L515.8 1362.8 L516.3 1362.7 L516.8 1362.6 L517.3 1362.6 L517.8 1362.4 L518.3 1362.9 L518.8 1363.1 L519.3 1363.5 L519.8 1363.5 L520.3 1363.3 L520.8 1363.1 L521.3 1363.2 L521.8 1363.3 L522.3 1362.9 L522.8 1363.1 L523.3 1363.5 L523.8 1363.8 L524.3 1363.8 L524.8 1364.2 L525.3 1364.2 L525.8 1364.2 L526.3 1364.2 L526.8 1364.2 L527.3 1364.2 L527.8 1364.2 L528.3 1364.2 L528.8 1364.2 L529.3 1364.2 L529.8 1364.1 L530.3 1364.1 L530.8 1364.2 L531.3 1364.0 L531.8 1364.2 L532.3 1364.2 L532.8 1364.2 L533.3 1364.1 L533.8 1364.2 L534.3 1363.7 L534.8 1363.5 L535.3 1363.5 L535.8 1363.4 L536.3 1363.2 L536.8 1362.5 L537.3 1363.0 L537.8 1362.8 L538.3 1363.6 L538.8 1363.7 L539.3 1363.6 L539.8 1363.5 L540.3 1363.5 L540.8 1363.6 L541.3 1363.1 L541.8 1363.3 L542.3 1363.0 L542.8 1363.0 L543.3 1362.4 L543.8 1362.2 L544.3 1362.8 L544.8 1362.8 L545.3 1362.8 L545.8 1362.8 L546.3 1363.0 L546.8 1363.1 L547.3 1363.4 L547.8 1363.6 L548.3 1363.3 L548.8 1363.6 L549.3 1363.9 L549.8 1364.2 L550.3 1363.9 L550.8 1363.2 L551.3 1363.4 L551.8 1363.4 L552.3 1363.6 L552.8 1363.3 L553.3 1363.7 L553.8 1363.3 L554.3 1363.5 L554.8 1363.8 L555.3 1363.3 L555.8 1363.7 L556.3 1363.2 L556.8 1362.8 L557.3 1362.2 L557.8 1362.2 L558.3 1361.9 L558.8 1362.1 L559.3 1362.2 L559.8 1362.2 L560.3 1363.1 L560.8 1363.4 L561.3 1363.4 L561.8 1363.1 L562.3 1363.6 L562.8 1363.5 L563.3 1363.8 L563.8 1363.7 L564.3 1363.1 L564.8 1362.9 L565.3 1363.1 L565.8 1363.4 L566.3 1362.9 L566.8 1363.3 L567.3 1363.4 L567.8 1363.0 L568.3 1362.5 L568.8 1362.3 L569.3 1362.2 L569.8 1362.4 L570.3 1362.5 L570.8 1362.4 L571.3 1362.5 L571.8 1363.4 L572.3 1363.7 L572.8 1364.2 L573.3 1364.2 L573.8 1364.2 L574.3 1364.1 L574.8 1364.0 L575.3 1364.1 L575.8 1363.3 L576.3 1363.4 L576.8 1362.7 L577.3 1362.7 L577.8 1362.6 L578.3 1363.3 L578.8 1363.0 L579.3 1362.9 L579.8 1362.8 L580.3 1362.7 L580.8 1363.5 L581.3 1363.4 L581.8 1363.3 L582.3 1363.1 L582.8 1363.3 L583.3 1363.1 L583.8 1363.3 L584.3 1363.0 L584.8 1362.7 L585.3 1363.0 L585.8 1363.3 L586.3 1363.3 L586.8 1363.5 L587.3 1363.6 L587.8 1363.8 L588.3 1364.0 L588.8 1363.8 L589.3 1363.5 L589.8 1363.8 L590.3 1363.5 L590.8 1363.7 L591.3 1364.0 L591.8 1363.7 L592.3 1364.2 L592.8 1364.2 L593.3 1364.2 L593.8 1363.6 L594.3 1364.1 L594.8 1363.6 L595.3 1363.4 L595.8 1363.5 L596.3 1362.9 L596.8 1362.9 L597.3 1363.1 L597.8 1363.3 L598.3 1362.9 L598.8 1363.1 L599.3 1363.2 L599.8 1362.7 L600.3 1363.3 L600.8 1362.8 L601.3 1363.0 L601.8 1362.6 L602.3 1363.0 L602.8 1362.6 L603.3 1362.6 L603.8 1363.1 L604.3 1362.7 L604.8 1363.1 L605.3 1363.4 L605.8 1363.5 L606.3 1363.1 L606.8 1363.7 L607.3 1363.2 L607.8 1363.0 L608.3 1363.0 L608.8 1362.8 L609.3 1362.4 L609.8 1362.7 L610.3 1362.5 L610.8 1362.1 L611.3 1362.7 L611.8 1363.2 L612.3 1363.0 L612.8 1363.2 L613.3 1363.2 L613.8 1363.6 L614.3 1364.2 L614.8 1364.2 L615.3 1364.1 L615.8 1363.9 L616.3 1363.9 L616.8 1364.2 L617.3 1364.0 L617.8 1363.9 L618.3 1363.8 L618.8 1364.1 L619.3 1363.9 L619.8 1363.5 L620.3 1363.7 L620.8 1363.5 L621.3 1363.5 L621.8 1363.3 L622.3 1363.3 L622.8 1362.9 L623.3 1363.0 L623.8 1363.4 L624.3 1363.2 L624.8 1362.7 L625.3 1362.5 L625.8 1362.5 L626.3 1362.5 L626.8 1362.2 L627.3 1362.6 L627.8 1362.2 L628.3 1362.4 L628.8 1363.0 L629.3 1362.8 L629.8 1362.6 L630.3 1362.3 L630.8 1362.5 L631.3 1362.1 L631.8 1362.1 L632.3 1361.2 L632.8 1361.0 L633.3 1360.9 L633.8 1361.0 L634.3 1360.5 L634.8 1359.6 L635.3 1359.0 L635.8 1359.0 L636.3 1358.9 L636.8 1358.7 L637.3 1359.0 L637.8 1358.5 L638.3 1359.0 L638.8 1359.8 L639.3 1359.8 L639.8 1359.9 L640.3 1360.4 L640.8 1360.7 L641.3 1361.3 L641.8 1361.9 L642.3 1362.1 L642.8 1362.4 L643.3 1363.3 L643.8 1363.6 L644.3 1364.2 L644.8 1364.2 L645.3 1364.2 L645.8 1364.2 L646.3 1364.0 L646.8 1363.7 L647.3 1363.2 L647.8 1363.3 L648.3 1362.7 L648.8 1361.8 L649.3 1361.8 L649.8 1362.2 L650.3 1362.3 L650.8 1362.4 L651.3 1362.5 L651.8 1362.5" stroke="#3A5A98" stroke-width="1.80"/>
<path class="tr" d="M70.3 1549.7 L70.8 1549.6 L71.3 1549.5 L71.8 1549.5 L72.3 1549.4 L72.8 1549.4 L73.3 1549.4 L73.8 1549.4 L74.3 1549.5 L74.8 1549.4 L75.3 1549.4 L75.8 1549.4 L76.3 1549.5 L76.8 1549.5 L77.3 1549.5 L77.8 1549.5 L78.3 1549.5 L78.8 1549.5 L79.3 1549.6 L79.8 1549.6 L80.3 1549.6 L80.8 1549.6 L81.3 1549.7 L81.8 1549.7 L82.3 1549.7 L82.8 1549.7 L83.3 1549.8 L83.8 1549.8 L84.3 1549.8 L84.8 1549.8 L85.3 1549.7 L85.8 1549.8 L86.3 1549.7 L86.8 1549.8 L87.3 1549.7 L87.8 1549.6 L88.3 1549.7 L88.8 1549.7 L89.3 1549.6 L89.8 1549.6 L90.3 1549.6 L90.8 1549.5 L91.3 1549.5 L91.8 1549.5 L92.3 1549.5 L92.8 1549.4 L93.3 1549.4 L93.8 1549.4 L94.3 1549.5 L94.8 1549.5 L95.3 1549.4 L95.8 1549.5 L96.3 1549.4 L96.8 1549.5 L97.3 1549.5 L97.8 1549.5 L98.3 1549.5 L98.8 1549.6 L99.3 1549.7 L99.8 1549.6 L100.3 1549.6 L100.8 1549.6 L101.3 1549.7 L101.8 1549.6 L102.3 1549.6 L102.8 1549.6 L103.3 1549.6 L103.8 1549.7 L104.3 1549.8 L104.8 1549.7 L105.3 1549.7 L105.8 1549.7 L106.3 1549.8 L106.8 1549.7 L107.3 1549.7 L107.8 1549.8 L108.3 1549.8 L108.8 1549.8 L109.3 1549.8 L109.8 1549.8 L110.3 1549.8 L110.8 1549.8 L111.3 1549.8 L111.8 1549.8 L112.3 1549.8 L112.8 1549.8 L113.3 1549.8 L113.8 1549.7 L114.3 1549.7 L114.8 1549.7 L115.3 1549.7 L115.8 1549.7 L116.3 1549.6 L116.8 1549.6 L117.3 1549.5 L117.8 1549.5 L118.3 1549.5 L118.8 1549.5 L119.3 1549.6 L119.8 1549.7 L120.3 1549.7 L120.8 1549.7 L121.3 1549.7 L121.8 1549.6 L122.3 1549.6 L122.8 1549.6 L123.3 1549.5 L123.8 1549.5 L124.3 1549.5 L124.8 1549.5 L125.3 1549.6 L125.8 1549.6 L126.3 1549.5 L126.8 1549.5 L127.3 1549.4 L127.8 1549.5 L128.3 1549.5 L128.8 1549.5 L129.3 1549.5 L129.8 1549.6 L130.3 1549.6 L130.8 1549.7 L131.3 1549.7 L131.8 1549.8 L132.3 1549.7 L132.8 1549.8 L133.3 1549.7 L133.8 1549.7 L134.3 1549.7 L134.8 1549.7 L135.3 1549.6 L135.8 1549.6 L136.3 1549.6 L136.8 1549.6 L137.3 1549.5 L137.8 1549.6 L138.3 1549.5 L138.8 1549.6 L139.3 1549.6 L139.8 1549.6 L140.3 1549.6 L140.8 1549.6 L141.3 1549.7 L141.8 1549.7 L142.3 1549.7 L142.8 1549.6 L143.3 1549.7 L143.8 1549.7 L144.3 1549.7 L144.8 1549.8 L145.3 1549.8 L145.8 1549.7 L146.3 1549.7 L146.8 1549.7 L147.3 1549.7 L147.8 1549.7 L148.3 1549.6 L148.8 1549.6 L149.3 1549.6 L149.8 1549.7 L150.3 1549.7 L150.8 1549.7 L151.3 1549.6 L151.8 1549.6 L152.3 1549.6 L152.8 1549.6 L153.3 1549.6 L153.8 1549.6 L154.3 1549.6 L154.8 1549.5 L155.3 1549.5 L155.8 1549.5 L156.3 1549.6 L156.8 1549.6 L157.3 1549.6 L157.8 1549.5 L158.3 1549.6 L158.8 1549.6 L159.3 1549.6 L159.8 1549.6 L160.3 1549.6 L160.8 1549.6 L161.3 1549.6 L161.8 1549.6 L162.3 1549.6 L162.8 1549.6 L163.3 1549.6 L163.8 1549.5 L164.3 1549.6 L164.8 1549.5 L165.3 1549.5 L165.8 1549.5 L166.3 1549.5 L166.8 1549.4 L167.3 1549.5 L167.8 1549.5 L168.3 1549.5 L168.8 1549.5 L169.3 1549.6 L169.8 1549.5 L170.3 1549.6 L170.8 1549.5 L171.3 1549.5 L171.8 1549.5 L172.3 1549.5 L172.8 1549.6 L173.3 1549.7 L173.8 1549.7 L174.3 1549.7 L174.8 1549.8 L175.3 1549.7 L175.8 1549.6 L176.3 1549.6 L176.8 1549.6 L177.3 1549.5 L177.8 1549.6 L178.3 1549.7 L178.8 1549.7 L179.3 1549.7 L179.8 1549.6 L180.3 1549.6 L180.8 1549.6 L181.3 1549.5 L181.8 1549.6 L182.3 1549.5 L182.8 1549.5 L183.3 1549.4 L183.8 1549.5 L184.3 1549.5 L184.8 1549.5 L185.3 1549.4 L185.8 1549.4 L186.3 1549.3 L186.8 1549.3 L187.3 1549.4 L187.8 1549.4 L188.3 1549.4 L188.8 1549.3 L189.3 1549.3 L189.8 1549.3 L190.3 1549.3 L190.8 1549.3 L191.3 1549.4 L191.8 1549.4 L192.3 1549.4 L192.8 1549.4 L193.3 1549.4 L193.8 1549.4 L194.3 1549.4 L194.8 1549.3 L195.3 1549.3 L195.8 1549.4 L196.3 1549.4 L196.8 1549.3 L197.3 1549.3 L197.8 1549.3 L198.3 1549.3 L198.8 1549.4 L199.3 1549.4 L199.8 1549.4 L200.3 1549.4 L200.8 1549.4 L201.3 1549.4 L201.8 1549.5 L202.3 1549.5 L202.8 1549.6 L203.3 1549.6 L203.8 1549.6 L204.3 1549.6 L204.8 1549.6 L205.3 1549.6 L205.8 1549.7 L206.3 1549.7 L206.8 1549.6 L207.3 1549.7 L207.8 1549.6 L208.3 1549.5 L208.8 1549.6 L209.3 1549.6 L209.8 1549.6 L210.3 1549.6 L210.8 1549.5 L211.3 1549.5 L211.8 1549.5 L212.3 1549.6 L212.8 1549.7 L213.3 1549.6 L213.8 1549.6 L214.3 1549.5 L214.8 1549.5 L215.3 1549.6 L215.8 1549.7 L216.3 1549.7 L216.8 1549.7 L217.3 1549.7 L217.8 1549.6 L218.3 1549.7 L218.8 1549.7 L219.3 1549.7 L219.8 1549.7 L220.3 1549.7 L220.8 1549.7 L221.3 1549.7 L221.8 1549.6 L222.3 1549.6 L222.8 1549.6 L223.3 1549.5 L223.8 1549.5 L224.3 1549.5 L224.8 1549.6 L225.3 1549.7 L225.8 1549.7 L226.3 1549.7 L226.8 1549.7 L227.3 1549.7 L227.8 1549.7 L228.3 1549.7 L228.8 1549.7 L229.3 1549.8 L229.8 1549.8 L230.3 1549.8 L230.8 1549.8 L231.3 1549.8 L231.8 1549.8 L232.3 1549.8 L232.8 1549.6 L233.3 1549.6 L233.8 1549.6 L234.3 1549.6 L234.8 1549.6 L235.3 1549.6 L235.8 1549.6 L236.3 1549.6 L236.8 1549.5 L237.3 1549.4 L237.8 1549.5 L238.3 1549.5 L238.8 1549.5 L239.3 1549.5 L239.8 1549.5 L240.3 1549.5 L240.8 1549.6 L241.3 1549.6 L241.8 1549.7 L242.3 1549.6 L242.8 1549.6 L243.3 1549.6 L243.8 1549.6 L244.3 1549.7 L244.8 1549.7 L245.3 1549.8 L245.8 1549.8 L246.3 1549.7 L246.8 1549.7 L247.3 1549.7 L247.8 1549.7 L248.3 1549.7 L248.8 1549.7 L249.3 1549.6 L249.8 1549.6 L250.3 1549.6 L250.8 1549.6 L251.3 1549.6 L251.8 1549.5 L252.3 1549.5 L252.8 1549.5 L253.3 1549.5 L253.8 1549.5 L254.3 1549.6 L254.8 1549.7 L255.3 1549.7 L255.8 1549.7 L256.3 1549.7 L256.8 1549.6 L257.3 1549.8 L257.8 1549.8 L258.3 1549.8 L258.8 1549.8 L259.3 1549.8 L259.8 1549.8 L260.3 1549.8 L260.8 1549.8 L261.3 1549.8 L261.8 1549.8 L262.3 1549.8 L262.8 1549.7 L263.3 1549.7 L263.8 1549.7 L264.3 1549.8 L264.8 1549.8 L265.3 1549.8 L265.8 1549.8 L266.3 1549.8 L266.8 1549.8 L267.3 1549.8 L267.8 1549.7 L268.3 1549.7 L268.8 1549.8 L269.3 1549.7 L269.8 1549.6 L270.3 1549.7 L270.8 1549.7 L271.3 1549.7 L271.8 1549.7 L272.3 1549.6 L272.8 1549.4 L273.3 1549.3 L273.8 1549.3 L274.3 1549.3 L274.8 1549.3 L275.3 1549.2 L275.8 1549.2 L276.3 1549.1 L276.8 1549.0 L277.3 1549.0 L277.8 1548.9 L278.3 1548.8 L278.8 1548.7 L279.3 1548.5 L279.8 1548.5 L280.3 1548.4 L280.8 1548.4 L281.3 1548.4 L281.8 1548.3 L282.3 1548.3 L282.8 1548.4 L283.3 1548.4 L283.8 1548.5 L284.3 1548.6 L284.8 1548.6 L285.3 1548.7 L285.8 1548.8 L286.3 1548.9 L286.8 1549.0 L287.3 1549.2 L287.8 1549.3 L288.3 1549.3 L288.8 1549.4 L289.3 1549.4 L289.8 1549.5 L290.3 1549.6 L290.8 1549.5 L291.3 1549.5 L291.8 1549.6 L292.3 1549.6 L292.8 1549.6 L293.3 1549.6 L293.8 1549.6 L294.3 1549.6 L294.8 1549.7 L295.3 1549.6 L295.8 1549.5 L296.3 1549.7 L296.8 1549.7 L297.3 1549.6 L297.8 1549.7 L298.3 1549.7 L298.8 1549.7 L299.3 1549.7 L299.8 1549.8 L300.3 1549.8 L300.8 1549.8 L301.3 1549.7 L301.8 1549.8 L302.3 1549.8 L302.8 1549.8 L303.3 1549.8 L303.8 1549.8 L304.3 1549.8 L304.8 1549.8 L305.3 1549.8 L305.8 1549.8 L306.3 1549.8 L306.8 1549.8 L307.3 1549.8 L307.8 1549.8 L308.3 1549.8 L308.8 1549.8 L309.3 1549.8 L309.8 1549.8 L310.3 1549.7 L310.8 1549.6 L311.3 1549.6 L311.8 1549.5 L312.3 1549.5 L312.8 1549.5 L313.3 1549.5 L313.8 1549.5 L314.3 1549.6 L314.8 1549.5 L315.3 1549.5 L315.8 1549.5 L316.3 1549.5 L316.8 1549.5 L317.3 1549.5 L317.8 1549.5 L318.3 1549.5 L318.8 1549.6 L319.3 1549.6 L319.8 1549.7 L320.3 1549.7 L320.8 1549.7 L321.3 1549.6 L321.8 1549.6 L322.3 1549.5 L322.8 1549.5 L323.3 1549.5 L323.8 1549.5 L324.3 1549.5 L324.8 1549.5 L325.3 1549.5 L325.8 1549.5 L326.3 1549.6 L326.8 1549.6 L327.3 1549.5 L327.8 1549.5 L328.3 1549.6 L328.8 1549.6 L329.3 1549.6 L329.8 1549.6 L330.3 1549.7 L330.8 1549.7 L331.3 1549.7 L331.8 1549.6 L332.3 1549.6 L332.8 1549.7 L333.3 1549.6 L333.8 1549.6 L334.3 1549.5 L334.8 1549.4 L335.3 1549.4 L335.8 1549.4 L336.3 1549.3 L336.8 1549.4 L337.3 1549.4 L337.8 1549.3 L338.3 1549.3 L338.8 1549.2 L339.3 1549.2 L339.8 1549.2 L340.3 1549.2 L340.8 1549.2 L341.3 1549.2 L341.8 1549.2 L342.3 1549.3 L342.8 1549.4 L343.3 1549.4 L343.8 1549.4 L344.3 1549.4 L344.8 1549.4 L345.3 1549.5 L345.8 1549.5 L346.3 1549.6 L346.8 1549.7 L347.3 1549.7 L347.8 1549.8 L348.3 1549.7 L348.8 1549.7 L349.3 1549.8 L349.8 1549.8 L350.3 1549.7 L350.8 1549.8 L351.3 1549.8 L351.8 1549.8 L352.3 1549.8 L352.8 1549.8 L353.3 1549.8 L353.8 1549.8 L354.3 1549.8 L354.8 1549.7 L355.3 1549.6 L355.8 1549.7 L356.3 1549.6 L356.8 1549.6 L357.3 1549.6 L357.8 1549.7 L358.3 1549.7 L358.8 1549.7 L359.3 1549.6 L359.8 1549.6 L360.3 1549.5 L360.8 1549.6 L361.3 1549.4 L361.8 1549.4 L362.3 1549.4 L362.8 1549.4 L363.3 1549.5 L363.8 1549.4 L364.3 1549.5 L364.8 1549.5 L365.3 1549.5 L365.8 1549.5 L366.3 1549.4 L366.8 1549.4 L367.3 1549.4 L367.8 1549.4 L368.3 1549.4 L368.8 1549.4 L369.3 1549.5 L369.8 1549.5 L370.3 1549.4 L370.8 1549.4 L371.3 1549.4 L371.8 1549.4 L372.3 1549.5 L372.8 1549.6 L373.3 1549.6 L373.8 1549.5 L374.3 1549.5 L374.8 1549.5 L375.3 1549.5 L375.8 1549.5 L376.3 1549.5 L376.8 1549.4 L377.3 1549.5 L377.8 1549.5 L378.3 1549.5 L378.8 1549.6 L379.3 1549.6 L379.8 1549.7 L380.3 1549.6 L380.8 1549.5 L381.3 1549.5 L381.8 1549.4 L382.3 1549.5 L382.8 1549.5 L383.3 1549.5 L383.8 1549.6 L384.3 1549.6 L384.8 1549.6 L385.3 1549.6 L385.8 1549.6 L386.3 1549.5 L386.8 1549.6 L387.3 1549.6 L387.8 1549.6 L388.3 1549.6 L388.8 1549.7 L389.3 1549.7 L389.8 1549.7 L390.3 1549.7 L390.8 1549.6 L391.3 1549.5 L391.8 1549.4 L392.3 1549.3 L392.8 1549.2 L393.3 1549.0 L393.8 1548.7 L394.3 1548.5 L394.8 1548.3 L395.3 1548.1 L395.8 1547.9 L396.3 1547.8 L396.8 1547.7 L397.3 1547.7 L397.8 1547.8 L398.3 1547.8 L398.8 1547.9 L399.3 1548.1 L399.8 1548.1 L400.3 1548.2 L400.8 1548.3 L401.3 1548.3 L401.8 1548.3 L402.3 1548.2 L402.8 1548.2 L403.3 1548.1 L403.8 1548.0 L404.3 1547.9 L404.8 1547.8 L405.3 1547.7 L405.8 1547.6 L406.3 1547.6 L406.8 1547.7 L407.3 1547.9 L407.8 1548.1 L408.3 1548.2 L408.8 1548.4 L409.3 1548.6 L409.8 1548.8 L410.3 1548.9 L410.8 1549.0 L411.3 1549.1 L411.8 1549.2 L412.3 1549.3 L412.8 1549.3 L413.3 1549.4 L413.8 1549.5 L414.3 1549.5 L414.8 1549.5 L415.3 1549.6 L415.8 1549.5 L416.3 1549.5 L416.8 1549.6 L417.3 1549.6 L417.8 1549.7 L418.3 1549.7 L418.8 1549.8 L419.3 1549.8 L419.8 1549.8 L420.3 1549.7 L420.8 1549.7 L421.3 1549.6 L421.8 1549.6 L422.3 1549.6 L422.8 1549.6 L423.3 1549.6 L423.8 1549.6 L424.3 1549.7 L424.8 1549.8 L425.3 1549.8 L425.8 1549.7 L426.3 1549.7 L426.8 1549.7 L427.3 1549.7 L427.8 1549.7 L428.3 1549.8 L428.8 1549.8 L429.3 1549.8 L429.8 1549.8 L430.3 1549.8 L430.8 1549.8 L431.3 1549.8 L431.8 1549.6 L432.3 1549.3 L432.8 1549.1 L433.3 1548.8 L433.8 1548.4 L434.3 1548.1 L434.8 1547.7 L435.3 1547.3 L435.8 1547.0 L436.3 1546.7 L436.8 1546.6 L437.3 1546.5 L437.8 1546.7 L438.3 1547.0 L438.8 1547.2 L439.3 1547.4 L439.8 1547.9 L440.3 1548.2 L440.8 1548.5 L441.3 1548.8 L441.8 1549.0 L442.3 1549.2 L442.8 1549.4 L443.3 1549.5 L443.8 1549.5 L444.3 1549.6 L444.8 1549.6 L445.3 1549.6 L445.8 1549.6 L446.3 1549.6 L446.8 1549.6 L447.3 1549.7 L447.8 1549.6 L448.3 1549.5 L448.8 1549.6 L449.3 1549.6 L449.8 1549.6 L450.3 1549.6 L450.8 1549.5 L451.3 1549.4 L451.8 1549.4 L452.3 1549.4 L452.8 1549.2 L453.3 1549.0 L453.8 1548.7 L454.3 1548.2 L454.8 1547.5 L455.3 1546.5 L455.8 1545.4 L456.3 1543.9 L456.8 1542.3 L457.3 1540.5 L457.8 1538.5 L458.3 1536.9 L458.8 1535.5 L459.3 1534.5 L459.8 1534.0 L460.3 1534.0 L460.8 1534.5 L461.3 1535.3 L461.8 1536.4 L462.3 1537.4 L462.8 1538.3 L463.3 1539.0 L463.8 1539.3 L464.3 1539.3 L464.8 1539.0 L465.3 1538.6 L465.8 1538.2 L466.3 1537.7 L466.8 1537.4 L467.3 1537.4 L467.8 1537.8 L468.3 1538.3 L468.8 1539.1 L469.3 1540.1 L469.8 1541.2 L470.3 1542.4 L470.8 1543.6 L471.3 1544.8 L471.8 1545.7 L472.3 1546.5 L472.8 1547.2 L473.3 1547.7 L473.8 1548.0 L474.3 1548.1 L474.8 1548.0 L475.3 1547.6 L475.8 1547.0 L476.3 1546.2 L476.8 1545.4 L477.3 1544.3 L477.8 1543.2 L478.3 1541.8 L478.8 1540.5 L479.3 1539.2 L479.8 1538.2 L480.3 1537.4 L480.8 1536.8 L481.3 1536.6 L481.8 1536.8 L482.3 1537.3 L482.8 1538.1 L483.3 1539.2 L483.8 1540.4 L484.3 1541.7 L484.8 1543.0 L485.3 1544.2 L485.8 1545.2 L486.3 1546.2 L486.8 1546.9 L487.3 1547.3 L487.8 1547.5 L488.3 1547.4 L488.8 1547.0 L489.3 1546.3 L489.8 1545.1 L490.3 1543.7 L490.8 1542.0 L491.3 1540.0 L491.8 1537.8 L492.3 1535.6 L492.8 1533.4 L493.3 1531.4 L493.8 1529.9 L494.3 1528.8 L494.8 1528.4 L495.3 1528.5 L495.8 1529.3 L496.3 1530.5 L496.8 1532.0 L497.3 1533.8 L497.8 1535.7 L498.3 1537.4 L498.8 1538.9 L499.3 1540.0 L499.8 1540.8 L500.3 1541.5 L500.8 1542.0 L501.3 1542.3 L501.8 1542.6 L502.3 1542.8 L502.8 1543.0 L503.3 1543.2 L503.8 1543.2 L504.3 1543.0 L504.8 1542.5 L505.3 1541.6 L505.8 1540.2 L506.3 1538.6 L506.8 1536.6 L507.3 1534.3 L507.8 1532.1 L508.3 1530.0 L508.8 1528.4 L509.3 1527.5 L509.8 1527.3 L510.3 1528.0 L510.8 1529.5 L511.3 1531.4 L511.8 1533.9 L512.3 1536.4 L512.8 1538.8 L513.3 1540.9 L513.8 1542.5 L514.3 1543.4 L514.8 1543.8 L515.3 1543.6 L515.8 1542.9 L516.3 1541.6 L516.8 1539.9 L517.3 1537.9 L517.8 1535.8 L518.3 1533.6 L518.8 1531.6 L519.3 1529.9 L519.8 1528.6 L520.3 1527.8 L520.8 1527.7 L521.3 1528.0 L521.8 1529.0 L522.3 1530.5 L522.8 1532.4 L523.3 1534.3 L523.8 1536.5 L524.3 1538.7 L524.8 1540.7 L525.3 1542.6 L525.8 1544.2 L526.3 1545.6 L526.8 1546.5 L527.3 1547.3 L527.8 1547.8 L528.3 1548.2 L528.8 1548.4 L529.3 1548.4 L529.8 1548.2 L530.3 1547.8 L530.8 1547.3 L531.3 1546.8 L531.8 1546.1 L532.3 1545.3 L532.8 1544.6 L533.3 1543.8 L533.8 1543.2 L534.3 1542.9 L534.8 1542.9 L535.3 1543.0 L535.8 1543.3 L536.3 1543.7 L536.8 1544.2 L537.3 1544.6 L537.8 1544.7 L538.3 1544.3 L538.8 1543.2 L539.3 1541.2 L539.8 1538.1 L540.3 1533.8 L540.8 1527.9 L541.3 1520.3 L541.8 1510.9 L542.3 1499.6 L542.8 1486.6 L543.3 1472.6 L543.8 1458.0 L544.3 1443.5 L544.8 1430.1 L545.3 1418.6 L545.8 1410.0 L546.3 1404.8 L546.8 1403.7 L547.3 1406.6 L547.8 1413.3 L548.3 1423.2 L548.8 1435.5 L549.3 1449.5 L549.8 1464.2 L550.3 1478.7 L550.8 1492.3 L551.3 1504.5 L551.8 1515.1 L552.3 1523.9 L552.8 1530.8 L553.3 1536.0 L553.8 1539.5 L554.3 1541.6 L554.8 1542.2 L555.3 1541.5 L555.8 1539.6 L556.3 1536.2 L556.8 1531.8 L557.3 1526.4 L557.8 1520.5 L558.3 1514.5 L558.8 1509.1 L559.3 1504.8 L559.8 1501.7 L560.3 1500.2 L560.8 1499.9 L561.3 1500.3 L561.8 1500.8 L562.3 1500.9 L562.8 1499.9 L563.3 1497.8 L563.8 1494.6 L564.3 1490.9 L564.8 1487.3 L565.3 1484.8 L565.8 1483.8 L566.3 1484.8 L566.8 1488.1 L567.3 1493.2 L567.8 1499.9 L568.3 1507.4 L568.8 1515.1 L569.3 1522.5 L569.8 1529.2 L570.3 1534.7 L570.8 1539.3 L571.3 1542.6 L571.8 1545.1 L572.3 1546.8 L572.8 1547.8 L573.3 1548.6 L573.8 1549.0 L574.3 1549.2 L574.8 1549.4 L575.3 1549.6 L575.8 1549.7 L576.3 1549.7 L576.8 1549.6 L577.3 1549.6 L577.8 1549.6 L578.3 1549.7 L578.8 1549.6 L579.3 1549.7 L579.8 1549.7 L580.3 1549.7 L580.8 1549.8 L581.3 1549.7 L581.8 1549.7 L582.3 1549.7 L582.8 1549.6 L583.3 1549.5 L583.8 1549.4 L584.3 1549.3 L584.8 1549.3 L585.3 1549.1 L585.8 1548.8 L586.3 1548.3 L586.8 1547.7 L587.3 1547.0 L587.8 1546.1 L588.3 1545.1 L588.8 1543.8 L589.3 1542.3 L589.8 1540.6 L590.3 1538.8 L590.8 1536.8 L591.3 1534.9 L591.8 1532.9 L592.3 1531.1 L592.8 1529.3 L593.3 1528.1 L593.8 1527.1 L594.3 1526.7 L594.8 1526.6 L595.3 1527.1 L595.8 1527.9 L596.3 1529.1 L596.8 1530.8 L597.3 1532.6 L597.8 1534.5 L598.3 1536.5 L598.8 1538.5 L599.3 1540.3 L599.8 1542.1 L600.3 1543.6 L600.8 1544.9 L601.3 1545.9 L601.8 1546.9 L602.3 1547.6 L602.8 1548.4 L603.3 1548.8 L603.8 1549.1 L604.3 1549.3 L604.8 1549.4 L605.3 1549.5 L605.8 1549.6 L606.3 1549.7 L606.8 1549.7 L607.3 1549.7 L607.8 1549.5 L608.3 1549.4 L608.8 1549.2 L609.3 1548.9 L609.8 1548.6 L610.3 1548.2 L610.8 1547.5 L611.3 1546.8 L611.8 1545.9 L612.3 1545.0 L612.8 1544.2 L613.3 1543.4 L613.8 1543.0 L614.3 1542.6 L614.8 1542.6 L615.3 1542.9 L615.8 1543.4 L616.3 1544.1 L616.8 1545.0 L617.3 1545.7 L617.8 1546.4 L618.3 1546.9 L618.8 1547.1 L619.3 1546.8 L619.8 1546.2 L620.3 1544.9 L620.8 1542.9 L621.3 1540.1 L621.8 1536.4 L622.3 1532.2 L622.8 1527.6 L623.3 1523.1 L623.8 1519.3 L624.3 1516.3 L624.8 1514.9 L625.3 1515.1 L625.8 1516.8 L626.3 1519.9 L626.8 1523.9 L627.3 1528.4 L627.8 1532.9 L628.3 1537.0 L628.8 1540.5 L629.3 1543.3 L629.8 1545.3 L630.3 1546.8 L630.8 1547.6 L631.3 1547.9 L631.8 1547.8 L632.3 1547.7 L632.8 1547.3 L633.3 1546.8 L633.8 1546.2 L634.3 1545.7 L634.8 1545.2 L635.3 1544.9 L635.8 1544.8 L636.3 1544.7 L636.8 1544.9 L637.3 1545.2 L637.8 1545.8 L638.3 1546.2 L638.8 1546.8 L639.3 1547.3 L639.8 1547.7 L640.3 1547.8 L640.8 1547.9 L641.3 1547.6 L641.8 1547.3 L642.3 1546.8 L642.8 1546.2 L643.3 1545.6 L643.8 1544.9 L644.3 1544.3 L644.8 1544.0 L645.3 1543.8 L645.8 1543.8 L646.3 1544.1 L646.8 1544.5 L647.3 1545.0 L647.8 1545.7 L648.3 1546.5 L648.8 1547.1 L649.3 1547.9 L649.8 1548.5 L650.3 1548.8 L650.8 1549.1 L651.3 1549.4 L651.8 1549.6" stroke="#A5A5A5" stroke-width="2.00"/>
<line x1="223.4" y1="56.0" x2="221.2" y2="558.1" stroke="#F8CBAD" stroke-width="1.3"/>
<line x1="244.8" y1="32.0" x2="244.6" y2="981.2" stroke="#86B7E8" stroke-width="1.2"/>
<line x1="339.4" y1="34.0" x2="338.7" y2="780.7" stroke="#FFD24D" stroke-width="1.2"/>
<line x1="350.6" y1="54.0" x2="351.3" y2="356.9" stroke="#4472C4" stroke-width="1.3"/>
<line x1="409.3" y1="119.0" x2="413.8" y2="1364.8" stroke="#264478" stroke-width="1.3"/>
<line x1="451.5" y1="113.0" x2="456.5" y2="1364.8" stroke="#264478" stroke-width="1.3"/>
<line x1="471.8" y1="62.0" x2="472.0" y2="1177.2" stroke="#7DB856" stroke-width="1.6"/>
<line x1="562.6" y1="86.0" x2="562.5" y2="1550.2" stroke="#989898" stroke-width="1.1"/>
<text class="p" x="221.2" y="51.9" text-anchor="middle">LxB4</text>
<text class="p" x="252.6" y="21.0" text-anchor="middle">RvD2</text>
<text class="p" x="344.8" y="25.4" text-anchor="middle">RvD1</text>
<text class="p" x="359.0" y="49.0" text-anchor="middle">LxA4</text>
<text class="p" x="400.0" y="109.2" text-anchor="middle">RvE3S</text>
<text class="p" x="451.8" y="96.7" text-anchor="middle">RvE3R</text>
<text class="p" x="472.0" y="52.7" text-anchor="middle">RvD4</text>
<text class="p" x="559.3" y="75.5" text-anchor="middle">Mar2</text>
<text class="p" x="350.2" y="217.0" text-anchor="middle">LxA4</text>
<text class="p" x="214.8" y="472.5" text-anchor="middle">LxB4</text>
<text class="p" x="335.3" y="674.0" text-anchor="middle">RvD1</text>
<text class="p" x="244.4" y="952.4" text-anchor="middle">RvD2</text>
<text class="p" x="419.8" y="1339.1" text-anchor="middle">RvE3S</text>
<text class="p" x="462.8" y="1339.1" text-anchor="middle">RvE3R</text>
</svg></body></html>
